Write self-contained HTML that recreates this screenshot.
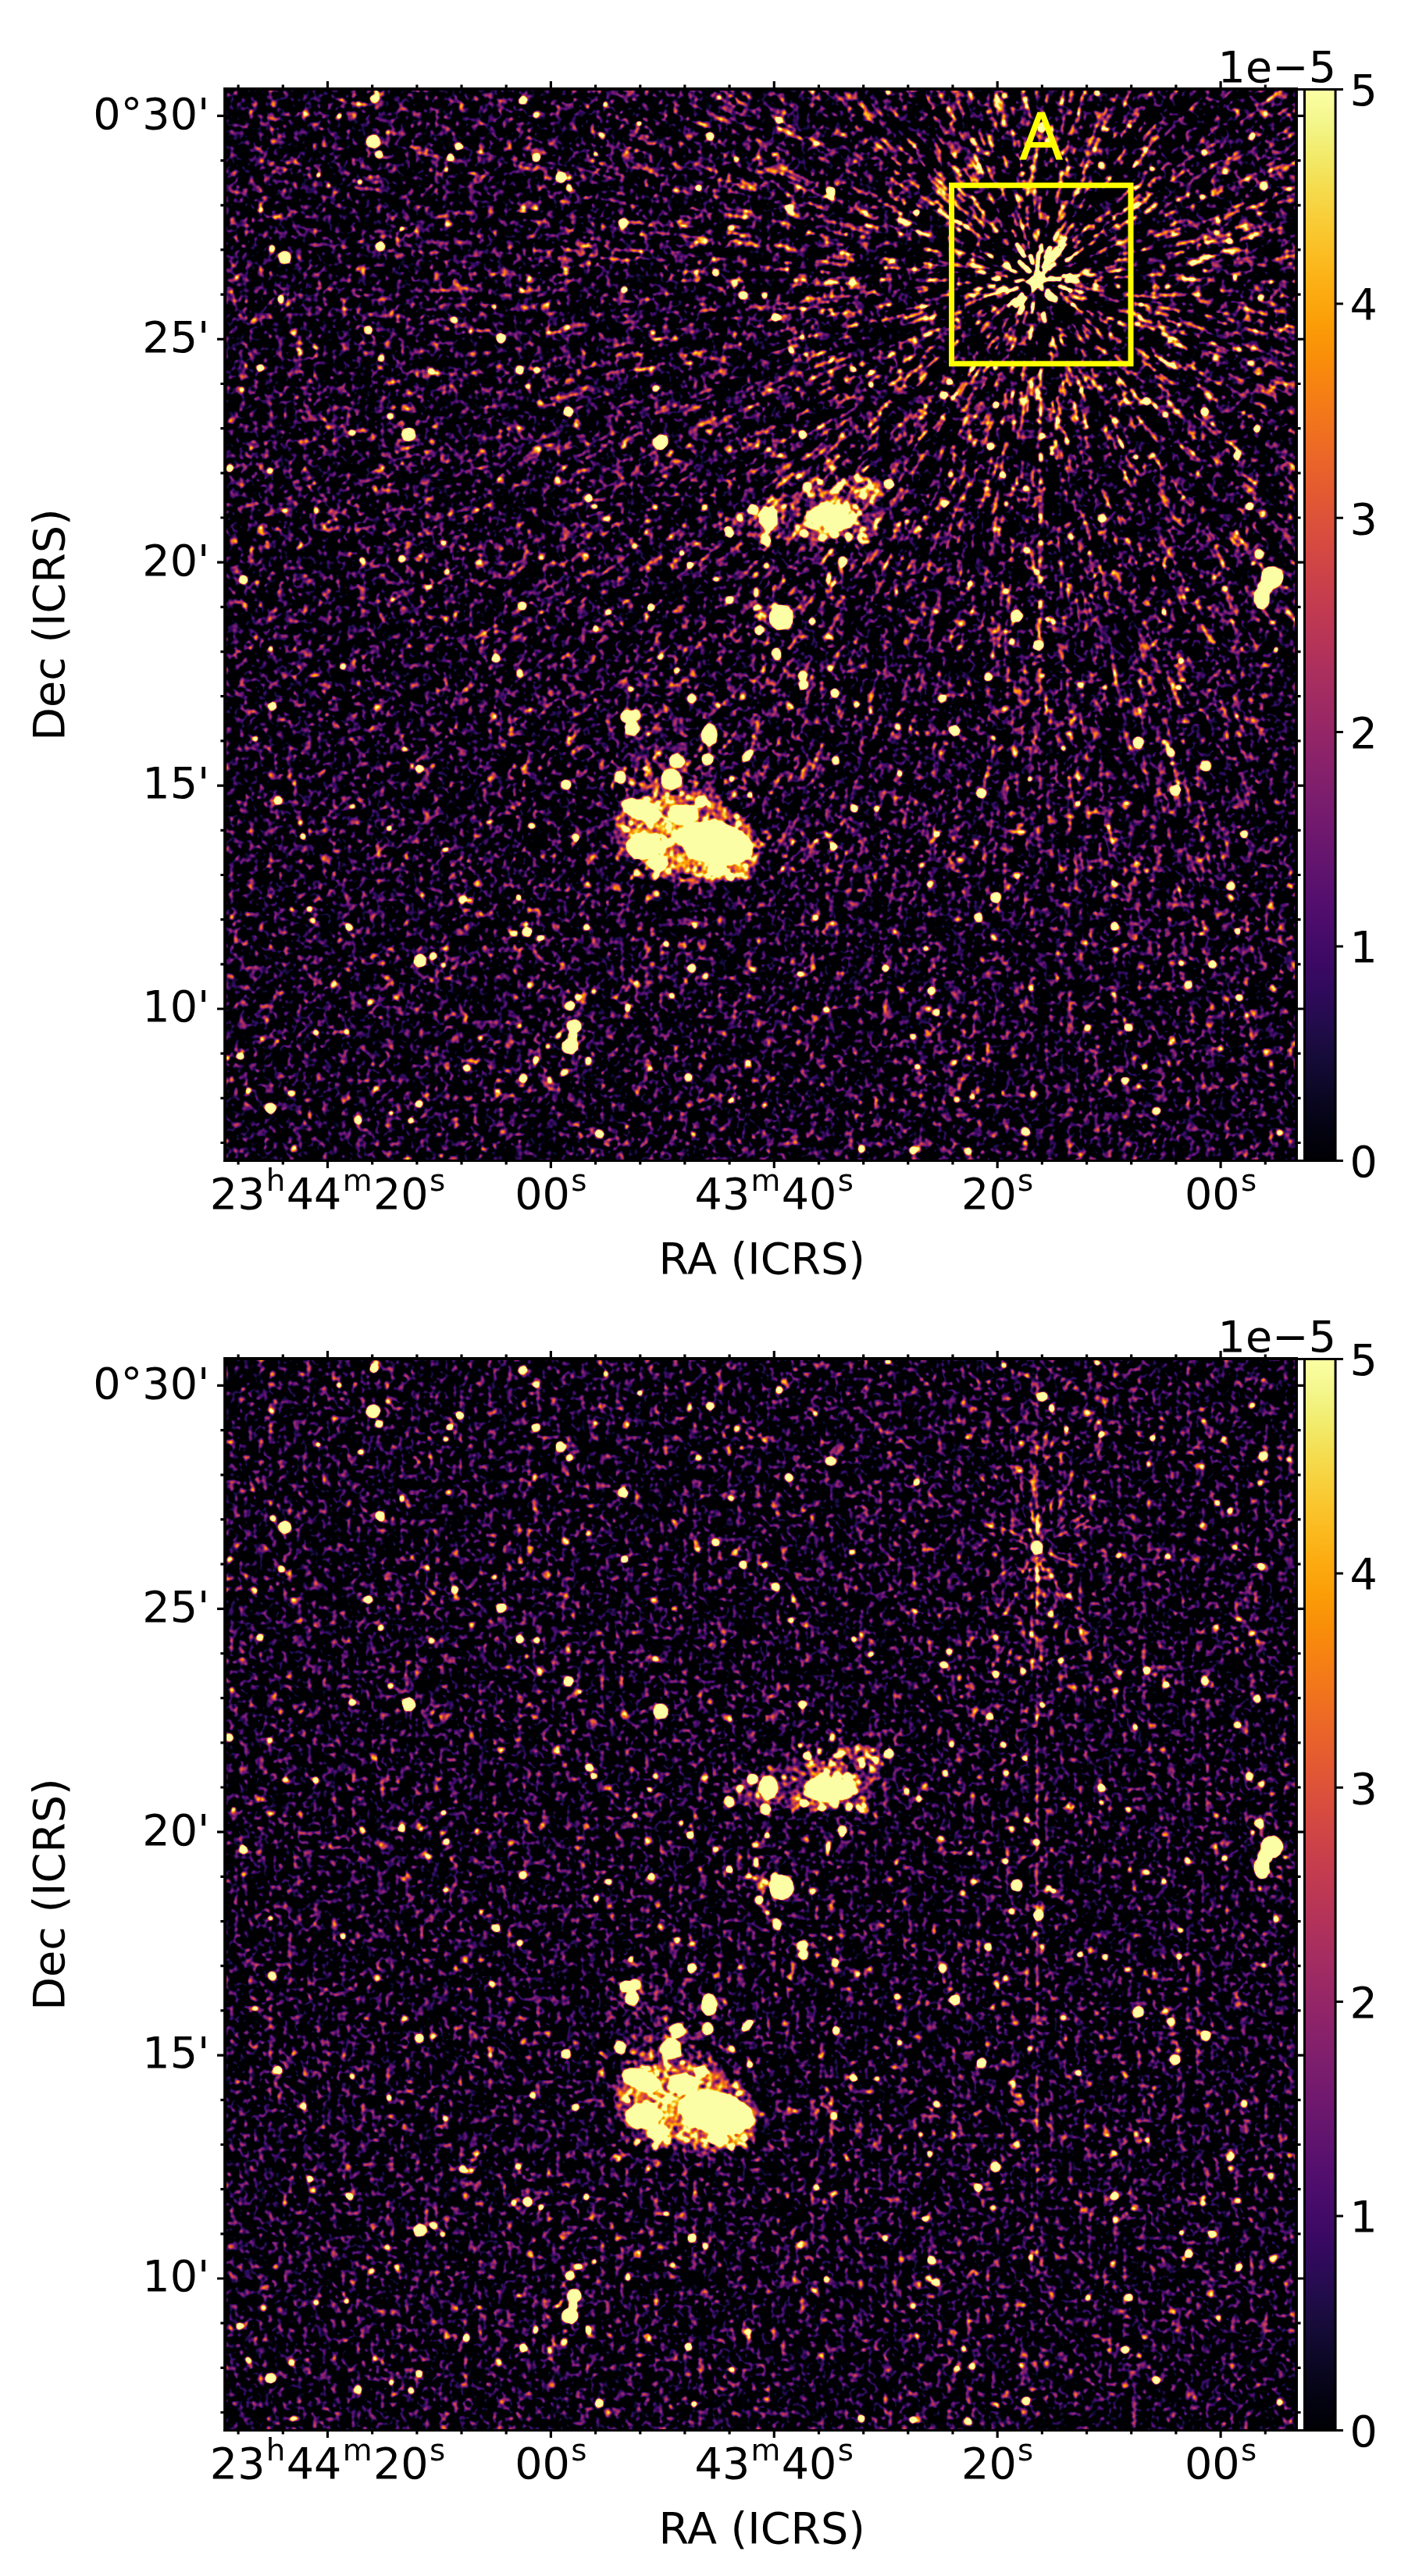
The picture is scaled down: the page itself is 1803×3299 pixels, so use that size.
<!DOCTYPE html>
<html lang="en"><head><meta charset="utf-8"><title>Radio maps</title>
<style>
html,body{margin:0;padding:0;background:#fff}
svg{display:block}
text{font-family:"DejaVu Sans","Liberation Sans",sans-serif;fill:#000}
.t{font-size:55.56px}
.s{font-size:38.89px}
</style></head><body>
<svg width="1803" height="3299" viewBox="0 0 1803 3299">
<defs>
<linearGradient id="cb" x1="0" y1="0" x2="0" y2="1"><stop offset="0" stop-color="#fcffa4"/><stop offset="0.0312" stop-color="#f3f68a"/><stop offset="0.0625" stop-color="#f2ea69"/><stop offset="0.0938" stop-color="#f5db4c"/><stop offset="0.125" stop-color="#f9cb35"/><stop offset="0.1562" stop-color="#fbbc21"/><stop offset="0.1875" stop-color="#fcac11"/><stop offset="0.2188" stop-color="#fb9d07"/><stop offset="0.25" stop-color="#f98e09"/><stop offset="0.2812" stop-color="#f68013"/><stop offset="0.3125" stop-color="#f1731d"/><stop offset="0.3438" stop-color="#eb6628"/><stop offset="0.375" stop-color="#e45a31"/><stop offset="0.4062" stop-color="#db503b"/><stop offset="0.4375" stop-color="#d24644"/><stop offset="0.4688" stop-color="#c73e4c"/><stop offset="0.5" stop-color="#bc3754"/><stop offset="0.5312" stop-color="#b0315b"/><stop offset="0.5625" stop-color="#a32c61"/><stop offset="0.5938" stop-color="#972766"/><stop offset="0.625" stop-color="#8a226a"/><stop offset="0.6562" stop-color="#7d1e6d"/><stop offset="0.6875" stop-color="#71196e"/><stop offset="0.7188" stop-color="#64156e"/><stop offset="0.75" stop-color="#57106e"/><stop offset="0.7812" stop-color="#4a0c6b"/><stop offset="0.8125" stop-color="#3d0965"/><stop offset="0.8438" stop-color="#2f0a5b"/><stop offset="0.875" stop-color="#210c4a"/><stop offset="0.9062" stop-color="#150b37"/><stop offset="0.9375" stop-color="#0b0724"/><stop offset="0.9688" stop-color="#040312"/><stop offset="1" stop-color="#000004"/></linearGradient>
<radialGradient id="gp" gradientUnits="userSpaceOnUse" cx="1328" cy="356" r="1300"><stop offset="0" stop-color="#fff" stop-opacity="0.8"/><stop offset="0.08" stop-color="#fff" stop-opacity="0.46"/><stop offset="0.2" stop-color="#fff" stop-opacity="0.31"/><stop offset="0.35" stop-color="#fff" stop-opacity="0.24"/><stop offset="0.6" stop-color="#fff" stop-opacity="0.17"/><stop offset="0.85" stop-color="#fff" stop-opacity="0.11"/><stop offset="1" stop-color="#fff" stop-opacity="0.04"/></radialGradient>
<radialGradient id="gn" gradientUnits="userSpaceOnUse" cx="1328" cy="356" r="1300"><stop offset="0" stop-color="#000" stop-opacity="0.9"/><stop offset="0.08" stop-color="#000" stop-opacity="0.8"/><stop offset="0.2" stop-color="#000" stop-opacity="0.55"/><stop offset="0.35" stop-color="#000" stop-opacity="0.4"/><stop offset="0.6" stop-color="#000" stop-opacity="0.3"/><stop offset="0.85" stop-color="#000" stop-opacity="0.2"/><stop offset="1" stop-color="#000" stop-opacity="0.06"/></radialGradient>
<filter id="n1" filterUnits="userSpaceOnUse" x="288" y="114" width="1372" height="1372" color-interpolation-filters="sRGB"><feGaussianBlur in="SourceGraphic" stdDeviation="1.4" result="s"/><feTurbulence type="fractalNoise" baseFrequency="0.16" numOctaves="1" seed="7"/><feColorMatrix type="matrix" values="0.2829 0.2829 0.2829 0.2829 -0.3308  0.2829 0.2829 0.2829 0.2829 -0.3308  0.2829 0.2829 0.2829 0.2829 -0.3308  0 0 0 0 1" result="a"/><feTurbulence type="fractalNoise" baseFrequency="0.085" numOctaves="1" seed="18"/><feColorMatrix type="matrix" values="0.2263 0.2263 0.2263 0.2263 -0.2027  0.2263 0.2263 0.2263 0.2263 -0.2027  0.2263 0.2263 0.2263 0.2263 -0.2027  0 0 0 0 1" result="b"/><feComposite in="a" in2="b" operator="arithmetic" k1="0" k2="1" k3="1" k4="0" result="n"/><feComposite in="n" in2="s" operator="arithmetic" k1="0" k2="3" k3="3" k4="-2.1"/><feComponentTransfer><feFuncR type="table" tableValues="0.001 0.01 0.026 0.056 0.087 0.129 0.17 0.211 0.258 0.297 0.342 0.379 0.416 0.46 0.497 0.541 0.578 0.616 0.658 0.695 0.736 0.77 0.802 0.837 0.865 0.894 0.916 0.936 0.955 0.967 0.978 0.985 0.988 0.987 0.983 0.975 0.964 0.953 0.946 0.958 0.988"/><feFuncG type="table" tableValues="0 0.008 0.019 0.035 0.045 0.047 0.042 0.037 0.039 0.047 0.062 0.076 0.09 0.106 0.119 0.135 0.148 0.162 0.179 0.195 0.216 0.236 0.259 0.288 0.317 0.353 0.387 0.424 0.469 0.509 0.558 0.601 0.645 0.698 0.744 0.798 0.844 0.889 0.937 0.971 0.998"/><feFuncB type="table" tableValues="0.014 0.055 0.106 0.168 0.225 0.291 0.341 0.379 0.406 0.42 0.429 0.433 0.433 0.43 0.424 0.415 0.404 0.391 0.373 0.354 0.33 0.307 0.283 0.253 0.226 0.194 0.165 0.135 0.1 0.069 0.035 0.024 0.04 0.088 0.138 0.206 0.273 0.351 0.459 0.556 0.645"/></feComponentTransfer></filter>
<filter id="n2" filterUnits="userSpaceOnUse" x="288" y="114" width="1372" height="1372" color-interpolation-filters="sRGB"><feGaussianBlur in="SourceGraphic" stdDeviation="1.4" result="s"/><feTurbulence type="fractalNoise" baseFrequency="0.16" numOctaves="1" seed="23"/><feColorMatrix type="matrix" values="0.2641 0.2641 0.2641 0.2641 -0.2948  0.2641 0.2641 0.2641 0.2641 -0.2948  0.2641 0.2641 0.2641 0.2641 -0.2948  0 0 0 0 1" result="a"/><feTurbulence type="fractalNoise" baseFrequency="0.085" numOctaves="1" seed="34"/><feColorMatrix type="matrix" values="0.2112 0.2112 0.2112 0.2112 -0.1725  0.2112 0.2112 0.2112 0.2112 -0.1725  0.2112 0.2112 0.2112 0.2112 -0.1725  0 0 0 0 1" result="b"/><feComposite in="a" in2="b" operator="arithmetic" k1="0" k2="1" k3="1" k4="0" result="n"/><feComposite in="n" in2="s" operator="arithmetic" k1="0" k2="3" k3="3" k4="-2.1"/><feComponentTransfer><feFuncR type="table" tableValues="0.001 0.01 0.026 0.056 0.087 0.129 0.17 0.211 0.258 0.297 0.342 0.379 0.416 0.46 0.497 0.541 0.578 0.616 0.658 0.695 0.736 0.77 0.802 0.837 0.865 0.894 0.916 0.936 0.955 0.967 0.978 0.985 0.988 0.987 0.983 0.975 0.964 0.953 0.946 0.958 0.988"/><feFuncG type="table" tableValues="0 0.008 0.019 0.035 0.045 0.047 0.042 0.037 0.039 0.047 0.062 0.076 0.09 0.106 0.119 0.135 0.148 0.162 0.179 0.195 0.216 0.236 0.259 0.288 0.317 0.353 0.387 0.424 0.469 0.509 0.558 0.601 0.645 0.698 0.744 0.798 0.844 0.889 0.937 0.971 0.998"/><feFuncB type="table" tableValues="0.014 0.055 0.106 0.168 0.225 0.291 0.341 0.379 0.406 0.42 0.429 0.433 0.433 0.43 0.424 0.415 0.404 0.391 0.373 0.354 0.33 0.307 0.283 0.253 0.226 0.194 0.165 0.135 0.1 0.069 0.035 0.024 0.04 0.088 0.138 0.206 0.273 0.351 0.459 0.556 0.645"/></feComponentTransfer></filter>
<g id="src" fill="#fff">
<g opacity="0.05"><ellipse cx="840" cy="960" rx="45" ry="60"/></g>
<g opacity="0.12"><ellipse cx="860" cy="1040" rx="70" ry="45"/><ellipse cx="1047.8" cy="659.9" rx="85" ry="33" transform="rotate(-3 1047.8 659.9)"/><ellipse cx="965" cy="670" rx="30" ry="18"/></g>
<g opacity="0.13"><circle cx="862.7" cy="993.5" r="3.2"/><circle cx="1068.8" cy="636.9" r="4.2"/><circle cx="307.3" cy="274.3" r="4.2"/><circle cx="362.6" cy="245.8" r="4.5"/><circle cx="406.1" cy="1150.4" r="4.4"/><circle cx="861.6" cy="1457" r="4.7"/><circle cx="1168.1" cy="474.1" r="3.7"/><circle cx="1108.6" cy="558.3" r="3.2"/><circle cx="1249.9" cy="520.8" r="3.8"/><circle cx="844.6" cy="645.8" r="4.5"/><circle cx="1140.3" cy="1411.3" r="3.9"/><circle cx="888.5" cy="684.3" r="4.7"/><circle cx="1155.2" cy="1021.5" r="4.9"/><circle cx="1091.5" cy="722" r="3.5"/><circle cx="493.6" cy="654.5" r="4.3"/><circle cx="1462.8" cy="138.9" r="4"/><circle cx="1456" cy="1003.8" r="4.5"/><circle cx="1532.4" cy="380.4" r="3.8"/><circle cx="523.7" cy="502" r="4.8"/><circle cx="1061.7" cy="1114.9" r="3.9"/><circle cx="543.5" cy="501" r="3.2"/><circle cx="693.2" cy="1096.1" r="4.3"/><circle cx="387.8" cy="478.5" r="3.7"/><circle cx="392.2" cy="1029.8" r="3.8"/><circle cx="465" cy="981.1" r="3.4"/><circle cx="997.8" cy="169.8" r="4.6"/><circle cx="1473" cy="400.1" r="3.6"/><circle cx="449.6" cy="1162.1" r="4.5"/><circle cx="439.9" cy="1350.6" r="4.5"/><circle cx="1435.8" cy="323.7" r="4.4"/><circle cx="660.9" cy="1093.5" r="3.4"/><circle cx="443.6" cy="617.7" r="4.2"/><circle cx="1225.7" cy="511.6" r="3.4"/><circle cx="1018.6" cy="653.4" r="3.7"/><circle cx="1398.9" cy="1208.7" r="4.4"/><circle cx="837" cy="695.8" r="3.4"/><circle cx="1588.6" cy="855.1" r="4"/><circle cx="1336.8" cy="1162.8" r="4.4"/><circle cx="839" cy="1320.8" r="4"/><circle cx="741.4" cy="163.3" r="4.7"/><circle cx="1358.4" cy="521.9" r="4.8"/><circle cx="1605.6" cy="793.5" r="3.6"/><circle cx="1637.7" cy="777.5" r="4.7"/><circle cx="790.6" cy="1416.2" r="4.6"/><circle cx="1219.4" cy="1094.2" r="4.1"/><circle cx="979.9" cy="525.8" r="4.3"/><circle cx="1190.4" cy="300.4" r="3.4"/><circle cx="1449.1" cy="1190.5" r="3.7"/><circle cx="1196.4" cy="196.2" r="3.5"/><circle cx="990" cy="546.3" r="4.5"/><circle cx="978.3" cy="1466.3" r="3.7"/><circle cx="582.8" cy="206.8" r="4.3"/><circle cx="1533.1" cy="1458.3" r="5"/><circle cx="1521.3" cy="1333.6" r="4.4"/><circle cx="383.9" cy="1105.1" r="4.2"/><circle cx="1277.6" cy="970.9" r="3.5"/><circle cx="1084.9" cy="510.3" r="3.2"/><circle cx="1509.4" cy="1103.4" r="3.7"/><circle cx="1150.6" cy="1195.7" r="3.7"/><circle cx="743.3" cy="1324.5" r="3.9"/><circle cx="935.2" cy="1301.1" r="4.8"/><circle cx="714.8" cy="759.5" r="3.7"/><circle cx="349.8" cy="551.7" r="4"/><circle cx="1334.1" cy="473.3" r="3.8"/><circle cx="1104.8" cy="911.1" r="4.4"/><circle cx="726" cy="641" r="4.5"/><circle cx="944.1" cy="201.4" r="4"/><circle cx="757.3" cy="1213.4" r="3.8"/><circle cx="1347" cy="1096.8" r="3.9"/><circle cx="1386.7" cy="350.8" r="4.1"/><circle cx="1065.6" cy="764.5" r="3.7"/><circle cx="758" cy="467" r="3.6"/><circle cx="440.4" cy="544.6" r="4.8"/><circle cx="501.8" cy="1066.1" r="3.5"/><circle cx="1179.3" cy="1378.2" r="4.3"/><circle cx="656.9" cy="1437.9" r="4.8"/><circle cx="339.3" cy="956.8" r="3.6"/><circle cx="977.2" cy="844.7" r="3.5"/><circle cx="1650.6" cy="661.7" r="4.6"/><circle cx="658.5" cy="1336.7" r="4.2"/><circle cx="1222.4" cy="1271.8" r="4.1"/><circle cx="793.1" cy="599.5" r="4.3"/><circle cx="1571.3" cy="943.4" r="3.4"/><circle cx="584" cy="421.4" r="4.7"/><circle cx="1526.7" cy="287.2" r="3.2"/><circle cx="593" cy="1170.8" r="4.8"/><circle cx="719.7" cy="1374.9" r="4.3"/><circle cx="730.8" cy="140.1" r="3.9"/><circle cx="902.7" cy="1312.6" r="4.8"/><circle cx="1405.7" cy="536.4" r="4.2"/><circle cx="1214.5" cy="732.1" r="3.8"/><circle cx="709.2" cy="1387.3" r="3.9"/><circle cx="518.3" cy="135.1" r="3.6"/><circle cx="1141.7" cy="1193.7" r="4.1"/><circle cx="1091.1" cy="1082.9" r="4.7"/><circle cx="1453.9" cy="344.9" r="4.9"/><circle cx="305.9" cy="405.4" r="4"/><circle cx="1240.7" cy="419.1" r="4.1"/><circle cx="593.2" cy="1065.4" r="4.9"/><circle cx="1194" cy="1084.9" r="3.9"/><circle cx="1621.4" cy="1347.5" r="4.9"/><circle cx="1018.2" cy="394.5" r="5"/><circle cx="1300.5" cy="444.3" r="3.8"/><circle cx="1136.6" cy="374.8" r="3.7"/><circle cx="1100.5" cy="1095.1" r="3.5"/><circle cx="1212.1" cy="949.9" r="4.1"/><circle cx="1139.1" cy="242.1" r="4.3"/><circle cx="1459" cy="1278.2" r="3.8"/><circle cx="370.3" cy="831.2" r="4.3"/><circle cx="761.5" cy="582.2" r="3.5"/><circle cx="1438.2" cy="714.3" r="3.9"/><circle cx="1333.5" cy="369.2" r="4.7"/><circle cx="899.5" cy="463.1" r="4.6"/><circle cx="1499.2" cy="979.3" r="3.9"/><circle cx="1234.4" cy="1301.2" r="4.8"/><circle cx="1457.6" cy="410.4" r="4.9"/><circle cx="1265.9" cy="633.7" r="3.8"/><circle cx="1001.1" cy="585.2" r="4.4"/><circle cx="1125.2" cy="295.5" r="4.1"/><circle cx="921.7" cy="584.1" r="3.6"/><circle cx="1234.8" cy="889.6" r="3.4"/><circle cx="914.7" cy="1436.8" r="4.5"/><circle cx="1185" cy="358.5" r="4.6"/><circle cx="1030.2" cy="1246.7" r="3.5"/><circle cx="1286.9" cy="823.9" r="4.5"/><circle cx="1043.2" cy="868.2" r="3.2"/><circle cx="689.2" cy="1310.6" r="4.2"/><circle cx="486.1" cy="121.6" r="4.4"/><circle cx="424.6" cy="657.6" r="4.8"/><circle cx="297.5" cy="1174.2" r="4.2"/><circle cx="667.4" cy="453" r="3.9"/></g>
<g opacity="0.14"><circle cx="878.1" cy="976.3" r="4.2"/><circle cx="1003.9" cy="649.5" r="4.5"/><circle cx="1597.5" cy="402.8" r="3.3"/><circle cx="990.8" cy="886.3" r="3.9"/><circle cx="705.6" cy="405.9" r="4.4"/><circle cx="495.2" cy="393.1" r="4.6"/><circle cx="878.6" cy="806.6" r="4.1"/><circle cx="793.9" cy="1263.6" r="4"/><circle cx="828.6" cy="820.5" r="3.3"/><circle cx="305.3" cy="731.1" r="3.4"/><circle cx="883.1" cy="1412.4" r="4.2"/><circle cx="379.5" cy="786" r="4.2"/><circle cx="1070.8" cy="1097.8" r="4"/><circle cx="790.9" cy="1463.1" r="3.9"/><circle cx="566.5" cy="844.3" r="3.6"/><circle cx="1070.3" cy="1076.6" r="3.4"/><circle cx="944.3" cy="1020.4" r="4.5"/><circle cx="421" cy="355.2" r="4.2"/><circle cx="349.4" cy="696.7" r="3.3"/><circle cx="1154.7" cy="1445.8" r="3.4"/><circle cx="1253.4" cy="751.2" r="4.2"/><circle cx="611.9" cy="203.6" r="4.2"/><circle cx="1587.5" cy="415.1" r="3.6"/><circle cx="1449.8" cy="496.1" r="4.6"/><circle cx="717.8" cy="428.9" r="4.4"/><circle cx="309.1" cy="1081.3" r="3.7"/><circle cx="1549.2" cy="870.3" r="4.2"/><circle cx="1106.9" cy="155.1" r="4.7"/><circle cx="574.2" cy="657.5" r="3.8"/><circle cx="1373" cy="533.4" r="4.1"/><circle cx="483.4" cy="499.9" r="4.7"/><circle cx="1036.5" cy="612.9" r="5"/><circle cx="1365.5" cy="985.8" r="3.5"/><circle cx="1200.7" cy="200.4" r="3.4"/><circle cx="522" cy="298.9" r="4.5"/><circle cx="1601.3" cy="1091.1" r="4.8"/><circle cx="940.9" cy="979" r="3.8"/><circle cx="1451.7" cy="1130.7" r="4.9"/><circle cx="489.3" cy="656" r="3.5"/><circle cx="938.7" cy="1366.8" r="4.5"/><circle cx="1643.9" cy="597.3" r="4.4"/><circle cx="454.9" cy="916.4" r="3.4"/><circle cx="557.4" cy="1255.6" r="3.8"/></g>
<g opacity="0.15"><circle cx="888.1" cy="993.8" r="3"/><circle cx="1050" cy="655.1" r="2.7"/><circle cx="1077.5" cy="670.4" r="4"/><circle cx="1066.9" cy="646.1" r="2.9"/><circle cx="802.8" cy="1255.5" r="4.9"/><circle cx="420.4" cy="658.4" r="3.4"/><circle cx="1470.4" cy="236.4" r="3.7"/><circle cx="897.2" cy="541.7" r="4.8"/><circle cx="1453.2" cy="461.6" r="3.7"/><circle cx="1054.8" cy="1343.5" r="3.6"/><circle cx="364.6" cy="1238.7" r="4.2"/><circle cx="1030" cy="355.5" r="3.9"/><circle cx="1168.1" cy="679" r="4.7"/><circle cx="727.6" cy="482.1" r="4.6"/><circle cx="932.2" cy="231.8" r="4.9"/><circle cx="1264.8" cy="1249" r="4"/><circle cx="722.7" cy="825.7" r="3.4"/><circle cx="1360" cy="223.1" r="4.6"/><circle cx="640.1" cy="955.7" r="4.1"/><circle cx="395" cy="507.7" r="4.5"/><circle cx="1566.6" cy="910.2" r="4.9"/><circle cx="560.8" cy="1347.7" r="3.3"/><circle cx="1234" cy="171.8" r="3.9"/><circle cx="1378.9" cy="154" r="4.3"/><circle cx="404.7" cy="396.8" r="3.7"/><circle cx="571.6" cy="570.5" r="4.5"/><circle cx="1342.9" cy="1090.9" r="4.7"/><circle cx="1054.1" cy="1222.5" r="4.3"/><circle cx="684" cy="304.3" r="3.8"/><circle cx="1009.4" cy="1066.2" r="4.5"/><circle cx="365.2" cy="1194.4" r="3.3"/><circle cx="1248.8" cy="1398.5" r="4.2"/><circle cx="511.5" cy="409.2" r="4"/><circle cx="679.3" cy="440.9" r="4.4"/><circle cx="1577.5" cy="1404.9" r="3.7"/><circle cx="1320.9" cy="1424.7" r="4.7"/><circle cx="785.6" cy="321.7" r="3.5"/><circle cx="672.6" cy="1191.2" r="3.6"/><circle cx="1241" cy="1138.7" r="3.9"/><circle cx="1398.9" cy="299.9" r="4.5"/><circle cx="349.5" cy="169.6" r="4.9"/><circle cx="1081.9" cy="1032.8" r="4.6"/><circle cx="1287.9" cy="1440.7" r="3.6"/><circle cx="924" cy="1370.6" r="4.7"/><circle cx="1473.8" cy="1056.5" r="4.2"/><circle cx="1305" cy="754.9" r="4.4"/><circle cx="486.4" cy="469.4" r="4.4"/><circle cx="1580.9" cy="473.2" r="3.2"/><circle cx="1035.8" cy="458.3" r="4.3"/><circle cx="909.7" cy="275.5" r="4.7"/></g>
<g opacity="0.16"><circle cx="739" cy="739.4" r="3.6"/><circle cx="953.1" cy="335.6" r="3.5"/><circle cx="1438.4" cy="1121.6" r="3.7"/><circle cx="349.7" cy="991.5" r="4"/><circle cx="636.7" cy="473.7" r="4.1"/><circle cx="1414.7" cy="1447.9" r="3.8"/><circle cx="1494.7" cy="1197.7" r="3.9"/><circle cx="315.9" cy="1284.8" r="4.2"/><circle cx="331.1" cy="827.7" r="3.3"/><circle cx="1646.7" cy="321.4" r="4.8"/><circle cx="926.8" cy="462.1" r="3.8"/><circle cx="1229.4" cy="733.4" r="3.4"/><circle cx="900.1" cy="1408" r="3.6"/><circle cx="986.7" cy="1124.4" r="4.7"/><circle cx="1259.4" cy="565.8" r="4.9"/><circle cx="1372.1" cy="1304.3" r="3.5"/><circle cx="880.7" cy="877.8" r="4.6"/><circle cx="1624.9" cy="987.6" r="3.4"/><circle cx="1169" cy="438.2" r="4.7"/><circle cx="513.7" cy="543.6" r="4.3"/><circle cx="1140" cy="236.8" r="4.1"/><circle cx="432.1" cy="559.4" r="3.5"/><circle cx="1045.2" cy="173" r="4.5"/><circle cx="1508.8" cy="1360.2" r="3.4"/><circle cx="639.8" cy="1250.6" r="3.5"/><circle cx="1396.1" cy="610.4" r="4"/><circle cx="1107.5" cy="314.2" r="4.4"/><circle cx="789.1" cy="440.9" r="4.1"/><circle cx="1537.1" cy="550.1" r="4.2"/><circle cx="961.1" cy="216.6" r="4.1"/><circle cx="1135.2" cy="1189.8" r="3.2"/><circle cx="1163.4" cy="302.5" r="4.5"/><circle cx="871.7" cy="637.6" r="3.6"/><circle cx="1152.6" cy="332.5" r="4.1"/><circle cx="549.5" cy="217.1" r="3.9"/><circle cx="410.4" cy="1259.3" r="3.9"/><circle cx="1569.1" cy="705.6" r="4.3"/></g>
<g opacity="0.17"><ellipse cx="880" cy="1075" rx="95" ry="55" transform="rotate(10 880 1075)"/><ellipse cx="1107.5" cy="621.5" rx="30" ry="12" transform="rotate(15 1107.5 621.5)"/><circle cx="878.8" cy="1100.8" r="4.9"/><circle cx="976.9" cy="796.2" r="3.4"/><circle cx="896.3" cy="983.8" r="4.5"/><circle cx="1302.3" cy="819.9" r="4.8"/><circle cx="964.3" cy="602.4" r="4.9"/><circle cx="1585.7" cy="1454.6" r="3.3"/><circle cx="513.3" cy="1292.3" r="3.5"/><circle cx="859.9" cy="866.5" r="4.3"/><circle cx="580.9" cy="787.1" r="3.6"/><circle cx="1035" cy="493.3" r="3.7"/><circle cx="519" cy="852" r="3.5"/><circle cx="665.1" cy="1467" r="4.4"/><circle cx="384.3" cy="147.9" r="3.8"/><circle cx="462.9" cy="757.2" r="4.7"/><circle cx="1228.9" cy="479.3" r="4.3"/><circle cx="1149.6" cy="943.1" r="4.2"/><circle cx="1241.4" cy="532.1" r="4.4"/><circle cx="1301.5" cy="964.7" r="3.8"/><circle cx="1217.6" cy="1373.7" r="3.9"/><circle cx="1205.2" cy="891" r="4.7"/><circle cx="1036" cy="1386.3" r="4"/><circle cx="1600.4" cy="1301.8" r="3.2"/><circle cx="1568.3" cy="1184.2" r="4.1"/><circle cx="1331.9" cy="819.4" r="3.5"/><circle cx="901.7" cy="652" r="4.6"/><circle cx="1585.1" cy="142.7" r="3.2"/><circle cx="1247.7" cy="354" r="3.9"/><circle cx="1015.4" cy="1232.4" r="4"/><circle cx="1231.3" cy="1054.5" r="3.8"/><circle cx="364.3" cy="697.6" r="4.6"/><circle cx="930.6" cy="199.1" r="4.2"/></g>
<g opacity="0.18"><circle cx="874.4" cy="1128" r="3"/><circle cx="931.8" cy="1081.9" r="4.1"/><circle cx="850.4" cy="1094.4" r="4.4"/><circle cx="804.9" cy="1069.5" r="2.9"/><circle cx="814.1" cy="982.7" r="4.6"/><circle cx="1034.6" cy="674.1" r="3.4"/><circle cx="1230.2" cy="654.7" r="4.1"/><circle cx="392.1" cy="145.3" r="4.8"/><circle cx="1228.8" cy="873.1" r="4.5"/><circle cx="1476.4" cy="514.4" r="3.8"/><circle cx="1533.1" cy="371.2" r="4.6"/><circle cx="774" cy="1031.3" r="4"/><circle cx="903.6" cy="1027.5" r="4.2"/><circle cx="1497.6" cy="519.4" r="4.4"/><circle cx="604.9" cy="298.1" r="3.7"/><circle cx="1551.3" cy="818.5" r="3.5"/><circle cx="1275.2" cy="912.7" r="3.7"/><circle cx="1006.8" cy="966.6" r="4.9"/><circle cx="934.7" cy="617.9" r="3.4"/><circle cx="498.8" cy="646.6" r="3.7"/><circle cx="559.6" cy="373" r="3.9"/><circle cx="837.8" cy="593.8" r="4.1"/><circle cx="1106.9" cy="853.8" r="4.5"/><circle cx="1503.6" cy="1351.3" r="4.6"/><circle cx="1543.7" cy="1153.4" r="4.3"/><circle cx="504.5" cy="534.7" r="3.5"/><circle cx="651.6" cy="952.1" r="3.3"/><circle cx="872.9" cy="457.3" r="4"/><circle cx="1324" cy="960.6" r="4.7"/><circle cx="1388.8" cy="509.5" r="4.6"/><circle cx="1226.6" cy="194.1" r="3.6"/><circle cx="1040.3" cy="1093.1" r="4.9"/><circle cx="744.1" cy="1410.2" r="3.3"/><circle cx="1475.4" cy="230.8" r="3.6"/><circle cx="522.7" cy="697.1" r="4.1"/><circle cx="1461.7" cy="1236.6" r="4.8"/><circle cx="1311.2" cy="899.7" r="3.5"/><circle cx="799.1" cy="1184.1" r="3.6"/><circle cx="565.7" cy="1480.2" r="3.8"/></g>
<g opacity="0.19"><ellipse cx="900" cy="1085" rx="70" ry="38" transform="rotate(12 900 1085)"/><circle cx="830.3" cy="1108.2" r="3.9"/><circle cx="848.1" cy="1036" r="3.8"/><circle cx="994.6" cy="689.5" r="3.4"/><circle cx="980" cy="678.7" r="3.6"/><circle cx="1100.7" cy="627" r="3.4"/><circle cx="966.8" cy="779.3" r="3.2"/><circle cx="1017.3" cy="1462.5" r="3.8"/><circle cx="413.8" cy="989.3" r="4.8"/><circle cx="706" cy="1426.9" r="3.9"/><circle cx="1248.1" cy="565.5" r="4.5"/><circle cx="671" cy="171.3" r="4.2"/><circle cx="936.8" cy="1356.2" r="3.7"/><circle cx="879.8" cy="571.7" r="4.1"/><circle cx="771.3" cy="1004.2" r="3.5"/><circle cx="1025.9" cy="483.3" r="4.9"/><circle cx="404.5" cy="443.1" r="4"/><circle cx="344.8" cy="1049.2" r="3.7"/><circle cx="1640.9" cy="125.1" r="4.3"/><circle cx="761.1" cy="1323.1" r="3.9"/><circle cx="968.6" cy="673.5" r="3.4"/><circle cx="1480" cy="718.9" r="4.1"/><circle cx="392.1" cy="1240.2" r="3.5"/><circle cx="346.3" cy="149.7" r="4.2"/><circle cx="318.8" cy="337.4" r="4.3"/><circle cx="1269" cy="327.9" r="4.7"/><circle cx="582.9" cy="895.7" r="3.7"/><circle cx="750.3" cy="808.7" r="3.5"/><circle cx="929" cy="940" r="4.6"/><circle cx="869.9" cy="1210.7" r="3.6"/><circle cx="1021.4" cy="279.2" r="3.2"/><circle cx="748.3" cy="1274.5" r="4.5"/><circle cx="1526.9" cy="117.3" r="4.6"/><circle cx="1390.2" cy="496.9" r="4"/><circle cx="1483.9" cy="1001.2" r="4"/><circle cx="1230.6" cy="1035" r="4.7"/><circle cx="1646.6" cy="1295.9" r="4.1"/><circle cx="740.8" cy="549.1" r="3.3"/><circle cx="1022.2" cy="1334.2" r="4.3"/></g>
<g opacity="0.2"><circle cx="853.7" cy="1016.3" r="3"/><circle cx="939.6" cy="1065.3" r="4.1"/><circle cx="860.1" cy="1006.2" r="3.5"/><circle cx="813.7" cy="1034.1" r="4.3"/><circle cx="925.5" cy="476" r="4.7"/><circle cx="922.2" cy="1274.1" r="3.4"/><circle cx="1608.2" cy="443.4" r="4.2"/><circle cx="1385.2" cy="360.8" r="4.2"/><circle cx="1035.9" cy="660.3" r="4.1"/><circle cx="1071" cy="233.2" r="4.7"/><circle cx="1041.6" cy="1238.9" r="4.7"/><circle cx="1393.6" cy="1043.5" r="4.2"/><circle cx="771.5" cy="843.9" r="3.3"/><circle cx="554" cy="1200.3" r="3.4"/><circle cx="1126.5" cy="187.4" r="3.9"/><circle cx="1185" cy="1322.8" r="4.8"/><circle cx="1265.7" cy="197.2" r="3.8"/><circle cx="1246.1" cy="785.2" r="4.7"/><circle cx="874.1" cy="1212.5" r="4.9"/><circle cx="457.4" cy="677.7" r="3.9"/><circle cx="900" cy="802.7" r="3.5"/><circle cx="1594.3" cy="590.4" r="3.8"/><circle cx="455.3" cy="147.1" r="3.6"/><circle cx="678.6" cy="559.8" r="4.7"/><circle cx="413.4" cy="1098.2" r="3.5"/></g>
<g opacity="0.21"><circle cx="820.3" cy="1093.4" r="4"/><circle cx="826.6" cy="993.3" r="3.5"/><circle cx="867.9" cy="1047.2" r="3.3"/><circle cx="1098" cy="654" r="3.4"/><circle cx="959.8" cy="671" r="3.4"/><circle cx="1026.3" cy="644.7" r="3"/><circle cx="1032.4" cy="684.9" r="3.9"/><circle cx="1074" cy="647.7" r="3.6"/><circle cx="1126.8" cy="631.3" r="4.8"/><circle cx="368.1" cy="922.9" r="3.2"/><circle cx="973.4" cy="210.7" r="3.8"/><circle cx="654.9" cy="733.8" r="3.8"/><circle cx="648" cy="1353.3" r="3.2"/><circle cx="1075.5" cy="392.7" r="4.7"/><circle cx="1218.5" cy="1396" r="4.7"/><circle cx="690.1" cy="460.5" r="4.8"/><circle cx="1654.2" cy="1236.9" r="3.4"/><circle cx="1428" cy="1075.3" r="4.6"/><circle cx="1394.1" cy="196.4" r="4.4"/><circle cx="1173.7" cy="982.9" r="3.5"/><circle cx="651.2" cy="1339.1" r="3.9"/><circle cx="1516.9" cy="1265.5" r="3.8"/><circle cx="996.5" cy="311.8" r="4.9"/><circle cx="1175" cy="1471.5" r="4.7"/><circle cx="1500.3" cy="1330.7" r="3.6"/><circle cx="1086.4" cy="1140.5" r="4.4"/><circle cx="1614.4" cy="933.1" r="3.6"/><circle cx="518.4" cy="1097.4" r="4.1"/><circle cx="1006.1" cy="1082.9" r="4.8"/><circle cx="778" cy="1463.2" r="4.5"/><circle cx="1460" cy="210.4" r="4"/><circle cx="1160" cy="794.8" r="4.4"/><circle cx="1012.9" cy="1077.4" r="4.7"/><circle cx="484.2" cy="1087.5" r="4.9"/><circle cx="1449.1" cy="316.7" r="4.1"/><circle cx="1043.8" cy="163" r="4"/><circle cx="384" cy="698.2" r="4.1"/><circle cx="1243.6" cy="148.1" r="3.4"/><circle cx="298.4" cy="223.4" r="4.8"/></g>
<g opacity="0.22"><circle cx="947.6" cy="1118.8" r="2.8"/><circle cx="938.4" cy="1091.8" r="4"/><circle cx="795.7" cy="1055.5" r="4.1"/><circle cx="1052.1" cy="666.4" r="4.9"/><circle cx="1083.7" cy="670.8" r="4.5"/><circle cx="1039.3" cy="653.7" r="2.9"/><circle cx="1105.4" cy="628" r="4.3"/><circle cx="368.8" cy="387.4" r="4.5"/><circle cx="1435.6" cy="395.9" r="3.7"/><circle cx="894" cy="1034.2" r="4.5"/><circle cx="1488.6" cy="616.4" r="4.8"/><circle cx="896.6" cy="454.7" r="3.6"/><circle cx="1427.2" cy="1147.7" r="4.8"/><circle cx="1549.9" cy="211.1" r="4.4"/><circle cx="1014.2" cy="1114.2" r="3.6"/><circle cx="979" cy="750.7" r="3.3"/><circle cx="876.9" cy="987.1" r="3.6"/><circle cx="1582.7" cy="444.2" r="4"/><circle cx="473.7" cy="858.5" r="3.8"/><circle cx="1287.3" cy="1328.7" r="3.9"/><circle cx="550.7" cy="239.2" r="3.6"/><circle cx="1608.5" cy="422.9" r="3.3"/><circle cx="978.6" cy="376.7" r="4.1"/><circle cx="879.9" cy="1416.2" r="3.4"/><circle cx="564.4" cy="573.2" r="3.5"/><circle cx="1519.5" cy="923.1" r="4.8"/><circle cx="597.9" cy="1187.8" r="4.8"/><circle cx="666.8" cy="550.3" r="4.8"/><circle cx="532.8" cy="1292.8" r="3.9"/><circle cx="1505.3" cy="991.6" r="4.8"/><circle cx="627.8" cy="1006.4" r="4.2"/><circle cx="765.3" cy="1212.7" r="4.7"/><circle cx="844.9" cy="1250.4" r="4.2"/><circle cx="1654.4" cy="227.8" r="3.8"/><circle cx="1153.2" cy="500.7" r="4.7"/></g>
<g opacity="0.23"><circle cx="954.6" cy="1111" r="4.1"/><circle cx="789.1" cy="1046.9" r="3.9"/><circle cx="846.2" cy="1043.8" r="3.5"/><circle cx="1035.9" cy="656.8" r="3"/><circle cx="1039.6" cy="634.1" r="4.9"/><circle cx="1019.4" cy="681.7" r="4"/><circle cx="1115.5" cy="636.5" r="3.8"/><circle cx="958.9" cy="776.1" r="4.8"/><circle cx="1019.9" cy="241.8" r="4.6"/><circle cx="1367.8" cy="143.8" r="3.8"/><circle cx="1422.7" cy="1038.3" r="4.8"/><circle cx="1275.7" cy="1453.2" r="3.5"/><circle cx="1093.2" cy="1062.9" r="3.9"/><circle cx="837.7" cy="875" r="4.7"/><circle cx="431.7" cy="931.4" r="3.7"/><circle cx="727.3" cy="226.5" r="4.2"/><circle cx="1340.5" cy="1399.1" r="4.2"/><circle cx="1183.4" cy="419.1" r="3.3"/><circle cx="487.6" cy="784.8" r="4.8"/><circle cx="705.5" cy="1393.2" r="4.1"/><circle cx="1344.2" cy="924.2" r="3.3"/><circle cx="1039.9" cy="771.1" r="3.5"/><circle cx="460.2" cy="971.2" r="3.5"/><circle cx="357.8" cy="1332.7" r="4"/><circle cx="511.3" cy="1415.6" r="3.9"/><circle cx="1450" cy="1413" r="4.8"/><circle cx="838.8" cy="1347.3" r="3.6"/></g>
<g opacity="0.24"><circle cx="971.3" cy="1081.3" r="4.7"/><circle cx="927.1" cy="1081" r="2.7"/><circle cx="810.3" cy="1035.1" r="5"/><circle cx="1052.6" cy="649.7" r="4.8"/><circle cx="1045.9" cy="676.7" r="2.8"/><circle cx="802.8" cy="711.9" r="3.8"/><circle cx="1596.4" cy="421.7" r="3.9"/><circle cx="742.1" cy="1454.7" r="4"/><circle cx="1228.4" cy="537.8" r="3.3"/><circle cx="303.3" cy="351.9" r="3.8"/><circle cx="1395.5" cy="709.1" r="3.6"/><circle cx="1051.8" cy="1005.9" r="3.6"/><circle cx="1476.3" cy="584.5" r="4.1"/><circle cx="1342.6" cy="693.4" r="4.8"/><circle cx="424.3" cy="739.1" r="3.6"/><circle cx="1368.2" cy="475.3" r="3.3"/><circle cx="376.3" cy="867.4" r="3.6"/><circle cx="1254.9" cy="648.8" r="3.5"/><circle cx="496.1" cy="440.3" r="4.4"/><circle cx="1057.5" cy="378.5" r="4.2"/><circle cx="546.3" cy="381.8" r="4.2"/><circle cx="1091.9" cy="1422.6" r="3.3"/><circle cx="1406.4" cy="478.8" r="3.3"/><circle cx="1058.8" cy="266.6" r="4.5"/><circle cx="1468.2" cy="900.7" r="4.5"/><circle cx="711.7" cy="878.9" r="3.3"/><circle cx="863.7" cy="433.9" r="3.8"/><circle cx="1168.5" cy="403.4" r="4.2"/></g>
<g opacity="0.25"><ellipse cx="976.5" cy="785.6" rx="9" ry="11"/><circle cx="858.8" cy="1023.7" r="4.9"/><circle cx="1103.9" cy="634.8" r="4.6"/><circle cx="971.9" cy="808.5" r="4.9"/><circle cx="685.1" cy="574.3" r="3.5"/><circle cx="556.3" cy="1349.9" r="4.3"/><circle cx="948.3" cy="228.9" r="3.5"/><circle cx="930.8" cy="665.3" r="4.4"/><circle cx="1375.7" cy="536.6" r="4.3"/><circle cx="929.4" cy="1000.7" r="4"/><circle cx="1193.6" cy="1076.9" r="3.3"/><circle cx="1054.1" cy="633.3" r="3.9"/><circle cx="1397.2" cy="872.4" r="4.3"/><circle cx="991.1" cy="752.6" r="4.1"/><circle cx="292.3" cy="1355.4" r="3.4"/><circle cx="864.2" cy="324.9" r="3.9"/><circle cx="345.5" cy="958.2" r="3.3"/><circle cx="1552.5" cy="1291.2" r="3.9"/><circle cx="1530.8" cy="1445.4" r="4.2"/><circle cx="1013" cy="272.2" r="4.8"/><circle cx="1201.3" cy="390.2" r="3.6"/><circle cx="1362.3" cy="1111.7" r="4.2"/><circle cx="755.1" cy="684.1" r="3.5"/><circle cx="1050" cy="1167.4" r="3.3"/><circle cx="519.4" cy="520.8" r="4.4"/><circle cx="612.8" cy="1171.6" r="4.8"/><circle cx="604.6" cy="595.8" r="3.6"/></g>
<g opacity="0.26"><circle cx="883.3" cy="1022.1" r="4.5"/><circle cx="808.4" cy="1032.8" r="4"/><circle cx="809.3" cy="1000.1" r="4.4"/><circle cx="812.1" cy="1004.4" r="3.2"/><circle cx="1040.3" cy="663.6" r="4.5"/><circle cx="1035.6" cy="633" r="3.9"/><circle cx="1113.8" cy="615" r="4.3"/><circle cx="720.3" cy="1237.4" r="4.9"/><circle cx="706.3" cy="887.6" r="4"/><circle cx="1416.3" cy="1106" r="4.5"/><circle cx="984.1" cy="574.8" r="4.5"/><circle cx="1440.9" cy="1427.9" r="4.7"/><circle cx="790.8" cy="672.1" r="3.8"/><circle cx="1113.9" cy="895.7" r="4.2"/><circle cx="542.9" cy="751.2" r="3.7"/><circle cx="674" cy="706.5" r="3.7"/><circle cx="571.7" cy="1215" r="4.4"/><circle cx="303.7" cy="1181.1" r="3.7"/><circle cx="333.3" cy="267.2" r="4.9"/><circle cx="1229.3" cy="523.5" r="3.9"/><circle cx="1406.3" cy="147.1" r="4.6"/></g>
<g opacity="0.27"><circle cx="929.4" cy="1047.2" r="2.7"/><circle cx="931.4" cy="1116.1" r="4.2"/><circle cx="820.7" cy="1072.8" r="4.9"/><circle cx="904.6" cy="1122.7" r="4.6"/><circle cx="804.6" cy="1028.7" r="4.4"/><circle cx="809.9" cy="1026.6" r="3.8"/><circle cx="1053.6" cy="680.4" r="3.6"/><circle cx="1081.4" cy="660.5" r="3.4"/><circle cx="961" cy="653.9" r="3.7"/><circle cx="1446.9" cy="766.9" r="3.7"/><circle cx="1157.2" cy="1038.2" r="3.5"/><circle cx="445.7" cy="1150.2" r="4.6"/><circle cx="829.3" cy="984.9" r="4.7"/><circle cx="1530.1" cy="553.3" r="3.3"/><circle cx="979.7" cy="217.9" r="4.5"/><circle cx="1477.3" cy="1047.9" r="3.3"/><circle cx="1094" cy="1346.1" r="4.5"/><circle cx="1174.9" cy="939.1" r="3.3"/><circle cx="1656.9" cy="1338.1" r="5"/><circle cx="580.4" cy="1300.1" r="3.6"/><circle cx="767.9" cy="1029.7" r="4"/><circle cx="583.8" cy="1332.5" r="4.9"/><circle cx="669.7" cy="268.7" r="4.9"/><circle cx="1175.2" cy="1473.3" r="4.8"/><circle cx="1387.9" cy="1205.3" r="5"/><circle cx="342.5" cy="696.9" r="4.6"/></g>
<g opacity="0.28"><circle cx="906.5" cy="1042.9" r="3"/><circle cx="842.2" cy="1028.3" r="4.6"/><circle cx="823" cy="1020.9" r="3"/><circle cx="845.1" cy="966" r="3.2"/><circle cx="1069.4" cy="642.6" r="2.8"/><circle cx="1041.5" cy="693.3" r="4"/><circle cx="1458" cy="1115.7" r="4.3"/><circle cx="1184.5" cy="663.6" r="4.7"/><circle cx="1124.4" cy="860.4" r="3.4"/><circle cx="1226.2" cy="670.2" r="3.7"/><circle cx="908.9" cy="552.8" r="3.8"/><circle cx="1504.6" cy="527.8" r="4.4"/><circle cx="846" cy="841.6" r="4.8"/><circle cx="298" cy="283.6" r="4.2"/><circle cx="1174.4" cy="1300.9" r="4.7"/><circle cx="1343.2" cy="394.2" r="4.4"/><circle cx="895.3" cy="337.7" r="3.5"/><circle cx="1480.9" cy="368.5" r="5"/><circle cx="1355.5" cy="1220.8" r="3.3"/><circle cx="752.3" cy="1133.8" r="4.9"/></g>
<g opacity="0.29"><circle cx="843.5" cy="1081.5" r="4.9"/><circle cx="800.3" cy="1061.6" r="4.5"/><circle cx="943.6" cy="1057.9" r="3.5"/><circle cx="947.9" cy="1055.4" r="2.6"/><circle cx="886.6" cy="1094.7" r="3.9"/><circle cx="942.3" cy="1046.4" r="2.7"/><circle cx="856.8" cy="1046" r="2.9"/><circle cx="1056.3" cy="645.8" r="2.9"/><circle cx="1004.8" cy="649.2" r="3.4"/><circle cx="1460.9" cy="1098.6" r="3.3"/><circle cx="998.5" cy="154.1" r="4.8"/><circle cx="1443.5" cy="896.6" r="4.2"/><circle cx="473.1" cy="1284.7" r="3.8"/><circle cx="831.1" cy="730.3" r="4.5"/><circle cx="1033.2" cy="730.8" r="3.7"/><circle cx="672.1" cy="1182.6" r="4.6"/><circle cx="1021.7" cy="675.5" r="3.9"/><circle cx="700.3" cy="390.9" r="4.1"/><circle cx="911.2" cy="482.7" r="4.8"/><circle cx="1139.6" cy="779.3" r="3.8"/><circle cx="1356.7" cy="237.7" r="4.7"/><circle cx="1115.4" cy="477.4" r="4.1"/><circle cx="1617.6" cy="144.8" r="4.8"/><circle cx="1598.2" cy="408" r="4.9"/><circle cx="1016.4" cy="423.7" r="3.3"/><circle cx="1414.4" cy="548.9" r="3.7"/></g>
<g opacity="0.3"><circle cx="918.6" cy="1070.2" r="3.2"/><circle cx="850.8" cy="1009.2" r="4"/><circle cx="1060.9" cy="639.9" r="4.4"/><circle cx="385.1" cy="566.4" r="3.2"/><circle cx="477.6" cy="1225" r="4.6"/><circle cx="678" cy="1165.8" r="3.7"/><circle cx="321.2" cy="912.1" r="3.5"/><circle cx="891.7" cy="349.8" r="3.7"/><circle cx="799.8" cy="566.9" r="3.3"/><circle cx="1309.8" cy="514.7" r="4.9"/><circle cx="801.5" cy="199" r="4.8"/><circle cx="664" cy="546" r="3.3"/><circle cx="578.8" cy="498.6" r="3.9"/><circle cx="384.5" cy="1054" r="3.6"/><circle cx="427.3" cy="1261" r="5"/><circle cx="1001.6" cy="1277" r="3.4"/><circle cx="516" cy="779.9" r="3.5"/><circle cx="849.7" cy="1074.2" r="3.9"/><circle cx="1229.4" cy="1101.9" r="4.3"/><circle cx="1249.1" cy="563.5" r="4.4"/><circle cx="1068.5" cy="1183.1" r="4.1"/></g>
<g opacity="0.31"><circle cx="976" cy="1081.6" r="3"/><circle cx="1041.7" cy="658.2" r="3.3"/><circle cx="1086.8" cy="689.1" r="3.5"/><circle cx="990.9" cy="777.5" r="5"/><circle cx="978" cy="786.5" r="4.7"/><circle cx="299.6" cy="693.4" r="4.6"/><circle cx="1387.2" cy="464" r="4.9"/><circle cx="1323.6" cy="370.7" r="3.3"/><circle cx="643" cy="1448.8" r="3.6"/><circle cx="980" cy="657.8" r="5"/><circle cx="1305.2" cy="452.3" r="3.5"/><circle cx="489.6" cy="738.4" r="4.9"/><circle cx="869.6" cy="1004.7" r="4.8"/><circle cx="655.3" cy="933.8" r="3.7"/><circle cx="1031" cy="454.4" r="3.6"/><circle cx="572.6" cy="1365.4" r="4.9"/><circle cx="1439.9" cy="1210.3" r="4.2"/><circle cx="790.6" cy="1138" r="4.8"/><circle cx="1619.7" cy="851" r="3.3"/><circle cx="583.5" cy="361.5" r="4.2"/></g>
<g opacity="0.32"><circle cx="816.6" cy="1031.9" r="3"/><circle cx="818" cy="1039.1" r="3.8"/><circle cx="941.7" cy="1044.8" r="4"/><circle cx="1051.5" cy="682.1" r="3.1"/><circle cx="1050.9" cy="647.8" r="3.7"/><circle cx="985.6" cy="638.3" r="4"/><circle cx="1015.8" cy="684.6" r="2.8"/><circle cx="1104.5" cy="678.2" r="4.7"/><circle cx="1271.3" cy="945.2" r="3.4"/><circle cx="1541.4" cy="328.7" r="5"/><circle cx="1121" cy="1120.8" r="4.2"/><circle cx="835.1" cy="1234.6" r="3.8"/><circle cx="1351.9" cy="456.2" r="3.5"/><circle cx="892.7" cy="356.9" r="4.8"/><circle cx="297.4" cy="538.7" r="4"/><circle cx="1247" cy="1285.4" r="4.9"/><circle cx="670.1" cy="988.6" r="4.4"/><circle cx="1023.2" cy="1247.6" r="3.2"/><circle cx="1315.2" cy="135.2" r="3.5"/><circle cx="1441.2" cy="1031.5" r="4.5"/><circle cx="1421.1" cy="1383.8" r="3.7"/><circle cx="798.9" cy="571.4" r="4.1"/><circle cx="331" cy="747" r="4.4"/><circle cx="842.3" cy="813.2" r="4.3"/></g>
<g opacity="0.33"><ellipse cx="1050" cy="660" rx="14" ry="12"/><ellipse cx="1080" cy="668" rx="12" ry="10"/><ellipse cx="1116" cy="624.7" rx="11" ry="3.5" transform="rotate(20 1116 624.7)"/><ellipse cx="1203.4" cy="730.2" rx="4.5" ry="5"/><circle cx="860.3" cy="1035.4" r="3"/><circle cx="807.3" cy="1054.3" r="3"/><circle cx="901.5" cy="1021.8" r="4.5"/><circle cx="628.8" cy="998" r="4.4"/><circle cx="508.3" cy="1277.5" r="3.8"/><circle cx="990" cy="875" r="3.5"/><circle cx="341.1" cy="1303.5" r="4.6"/><circle cx="553" cy="413.2" r="4"/><circle cx="352.9" cy="1277.6" r="3.3"/><circle cx="616.9" cy="821.8" r="3.3"/><circle cx="922.4" cy="151.7" r="3.4"/><circle cx="1219.4" cy="1108.7" r="4.8"/><circle cx="1104.5" cy="303.5" r="3.4"/><circle cx="1410" cy="983.2" r="3.5"/><circle cx="831.1" cy="1149.4" r="4.5"/><circle cx="295.5" cy="1250.4" r="3.5"/><circle cx="1428.2" cy="538" r="4.6"/><circle cx="1104.3" cy="466.3" r="4.2"/><circle cx="1470.8" cy="249.6" r="3.6"/><circle cx="727.5" cy="488.4" r="4.5"/><circle cx="1479.1" cy="903.7" r="4"/></g>
<g opacity="0.34"><circle cx="855.4" cy="1116.1" r="4.4"/><circle cx="885.6" cy="1038.9" r="4.5"/><circle cx="1100" cy="611.4" r="4.7"/><circle cx="1453.2" cy="1200.4" r="4.1"/><circle cx="604.4" cy="455" r="4.3"/><circle cx="1605.3" cy="1296.8" r="4.1"/><circle cx="1554.9" cy="738.4" r="5"/><circle cx="350.5" cy="133.5" r="4.4"/><circle cx="1308.7" cy="1402.9" r="3.9"/><circle cx="1408.5" cy="194.8" r="3.7"/><circle cx="1264.6" cy="991.9" r="3.7"/><circle cx="1618.6" cy="891.8" r="4.5"/></g>
<g opacity="0.35"><circle cx="881.8" cy="1084" r="2.8"/><circle cx="479.7" cy="625.5" r="4.2"/><circle cx="1304.3" cy="1057" r="4.9"/><circle cx="1233.7" cy="1382.3" r="3.6"/><circle cx="882.3" cy="176.7" r="4.2"/><circle cx="778.4" cy="663.4" r="4.4"/><circle cx="1307.9" cy="1067.3" r="4.6"/><circle cx="1549.7" cy="1311.2" r="4.9"/><circle cx="768" cy="118.3" r="3.5"/></g>
<g opacity="0.36"><circle cx="865.8" cy="1034.6" r="3.8"/><circle cx="841" cy="1117.7" r="4.1"/><circle cx="917.9" cy="1070.1" r="4.3"/><circle cx="1072.8" cy="643.4" r="2.8"/><circle cx="968.8" cy="777.9" r="4.3"/><circle cx="350.1" cy="179.6" r="3.9"/><circle cx="1651.8" cy="1134" r="4"/><circle cx="638.3" cy="1383.2" r="3.3"/><circle cx="679" cy="358.2" r="4.9"/><circle cx="1250.3" cy="1080.1" r="3.4"/><circle cx="365.2" cy="653.9" r="3.9"/><circle cx="309.5" cy="498.8" r="3.4"/><circle cx="1043" cy="1304.4" r="4.9"/><circle cx="1319.9" cy="1265.5" r="4.1"/></g>
<g opacity="0.37"><ellipse cx="1063.8" cy="816.5" rx="4.5" ry="3.5" transform="rotate(20 1063.8 816.5)"/><ellipse cx="1569.5" cy="755.2" rx="3" ry="3.5"/><circle cx="826.9" cy="1068.4" r="4.6"/><circle cx="854.4" cy="1017.4" r="2.8"/><circle cx="815.8" cy="1095.4" r="3.9"/><circle cx="832.3" cy="1056.4" r="3.4"/><circle cx="838.3" cy="1072.2" r="4.2"/><circle cx="828.5" cy="1050.6" r="4.2"/><circle cx="856" cy="1059" r="3.6"/><circle cx="1076.5" cy="661.5" r="2.9"/><circle cx="1059.3" cy="644.8" r="4"/><circle cx="993.7" cy="800.1" r="4.4"/><circle cx="1541.8" cy="1186.7" r="3.5"/><circle cx="461.2" cy="1024.5" r="3.6"/><circle cx="553.7" cy="567.3" r="4.2"/><circle cx="1585" cy="940.8" r="4.3"/><circle cx="1265.6" cy="144.3" r="3.4"/><circle cx="1356.7" cy="538.8" r="3.8"/><circle cx="1610.4" cy="477.1" r="4.6"/><circle cx="1539.6" cy="180.2" r="3.5"/><circle cx="693.8" cy="712.9" r="4.5"/><circle cx="640.8" cy="615" r="4.5"/><circle cx="1309.1" cy="1325.2" r="3.7"/><circle cx="1061" cy="1070.1" r="4.7"/><circle cx="837" cy="424" r="4.1"/><circle cx="333.7" cy="678.7" r="4.5"/><circle cx="475.7" cy="1282.2" r="4.1"/><circle cx="1097.1" cy="902" r="4.7"/></g>
<g opacity="0.38"><circle cx="842.2" cy="1115.6" r="4.6"/><circle cx="1042.3" cy="672.7" r="3.5"/><circle cx="1075.8" cy="666.7" r="4.6"/><circle cx="1117.6" cy="640.8" r="4.5"/><circle cx="1320" cy="1264.2" r="3.7"/><circle cx="1296.3" cy="1043.6" r="4.8"/><circle cx="495.9" cy="1251.9" r="3.6"/><circle cx="496.3" cy="169.7" r="3.4"/><circle cx="1358.5" cy="500.8" r="3.8"/><circle cx="684.9" cy="266.1" r="4.4"/><circle cx="383.6" cy="450.3" r="4.2"/><circle cx="933.4" cy="574.8" r="4.6"/><circle cx="724.6" cy="347.7" r="4.7"/><circle cx="1154.5" cy="1267.9" r="3.8"/><circle cx="1188.8" cy="1293.2" r="4.1"/><circle cx="313" cy="774.5" r="3.4"/><circle cx="1221" cy="1361.4" r="4.8"/><circle cx="1018.5" cy="1291.6" r="4.4"/></g>
<g opacity="0.39"><circle cx="814.2" cy="1096.9" r="3.9"/><circle cx="1059.9" cy="664.5" r="2.9"/><circle cx="1053.2" cy="655" r="4.2"/><circle cx="1076.7" cy="616.5" r="4.7"/><circle cx="1003.8" cy="143.7" r="3.6"/><circle cx="1391.7" cy="183.9" r="5"/><circle cx="1398.6" cy="292" r="5"/><circle cx="1305.2" cy="255.4" r="4.7"/><circle cx="637.5" cy="1399.8" r="4.5"/><circle cx="1056.6" cy="1192.7" r="3.9"/><circle cx="1467" cy="772.1" r="4.8"/><circle cx="376.1" cy="425.3" r="4.6"/><circle cx="1321.6" cy="466.8" r="3.9"/><circle cx="406" cy="455" r="4.4"/><circle cx="1245.8" cy="672.7" r="3.4"/><circle cx="1241.2" cy="1354.9" r="3.3"/><circle cx="1501" cy="1334.4" r="4.2"/><circle cx="1066.8" cy="599.1" r="4.6"/><circle cx="829.5" cy="1366.9" r="5"/><circle cx="1241.2" cy="214.1" r="4.3"/><circle cx="1308.5" cy="222.8" r="4.1"/><circle cx="725.3" cy="419.6" r="4.5"/><circle cx="1187.9" cy="939.5" r="3.5"/><circle cx="886.9" cy="863.3" r="3.6"/></g>
<g opacity="0.4"><circle cx="800.4" cy="1037.5" r="2.7"/><circle cx="803.6" cy="1063.2" r="3.4"/><circle cx="891.1" cy="1093" r="4.1"/><circle cx="839.1" cy="1019.8" r="3.2"/><circle cx="965" cy="1241.5" r="4.3"/><circle cx="373.4" cy="1164" r="3.3"/><circle cx="1542.1" cy="195.4" r="4.1"/><circle cx="323.5" cy="282.3" r="3.3"/><circle cx="1576.2" cy="1150.8" r="4.2"/><circle cx="1508.1" cy="999.6" r="3.4"/><circle cx="1587.3" cy="447.6" r="3.8"/><circle cx="1310.1" cy="513.3" r="3.3"/></g>
<g opacity="0.41"><circle cx="873.4" cy="1016.1" r="3.3"/><circle cx="808.2" cy="1089.7" r="2.6"/><circle cx="1077.6" cy="663.1" r="4.8"/><circle cx="1096.2" cy="668.4" r="3.7"/><circle cx="1052.8" cy="1390.3" r="3.5"/><circle cx="1540.3" cy="1195.7" r="3.2"/><circle cx="549.3" cy="751.8" r="3.7"/><circle cx="953.7" cy="1122.1" r="4.5"/><circle cx="753.7" cy="337.2" r="3.8"/><circle cx="570.8" cy="794" r="3.5"/><circle cx="675.7" cy="494.7" r="3.3"/><circle cx="537.1" cy="714.4" r="5"/><circle cx="1011.7" cy="905.6" r="4.7"/><circle cx="1368.5" cy="418.1" r="3.8"/><circle cx="631.6" cy="394.1" r="3.8"/><circle cx="940.7" cy="362.3" r="4.7"/><circle cx="902.7" cy="648.7" r="4.1"/><circle cx="612.9" cy="719.7" r="4.6"/><circle cx="1428.8" cy="1217.1" r="4"/><circle cx="840.7" cy="1144.1" r="4.9"/><circle cx="750.1" cy="713.1" r="4.8"/><circle cx="958" cy="1365.4" r="4.2"/></g>
<g opacity="0.42"><circle cx="945.9" cy="1055.1" r="3.1"/><circle cx="889.2" cy="1094.4" r="4.8"/><circle cx="1070" cy="649.1" r="2.7"/><circle cx="1104.2" cy="633.9" r="4.3"/><circle cx="573.9" cy="285.6" r="4"/><circle cx="1323.4" cy="1401.9" r="4.2"/><circle cx="713.5" cy="615" r="5"/><circle cx="1246.3" cy="179.5" r="4.4"/><circle cx="601.5" cy="1154.9" r="4.3"/><circle cx="890.3" cy="1183.8" r="4.2"/><circle cx="399.7" cy="1179.4" r="4.3"/><circle cx="483" cy="907.1" r="4.6"/><circle cx="1456.2" cy="1107" r="4.1"/><circle cx="1046.3" cy="1077.9" r="3.6"/><circle cx="950.7" cy="893.4" r="3.8"/><circle cx="1324.6" cy="850" r="3.3"/><circle cx="1567.7" cy="754" r="3.3"/></g>
<g opacity="0.43"><circle cx="828.6" cy="1023" r="3.4"/><circle cx="630.8" cy="915.5" r="4.6"/><circle cx="1569" cy="218.6" r="4.8"/><circle cx="816.1" cy="1260.9" r="4.9"/><circle cx="595.8" cy="883.7" r="4"/><circle cx="739.5" cy="541.4" r="4.6"/><circle cx="691.2" cy="515.9" r="4.6"/><circle cx="1176.2" cy="677.6" r="4.4"/><circle cx="1433.4" cy="515.1" r="4.3"/><circle cx="1171.6" cy="437" r="3.5"/><circle cx="1342.6" cy="793.3" r="4.4"/><circle cx="993.2" cy="775.3" r="3.6"/><circle cx="1302.1" cy="1121" r="4.9"/><circle cx="1232.7" cy="798.3" r="4.3"/><circle cx="666.6" cy="372.8" r="4.5"/><circle cx="337.1" cy="1330.1" r="4"/><circle cx="294.3" cy="371.5" r="4.1"/><circle cx="609.7" cy="1131.2" r="4.3"/><circle cx="831.2" cy="666.5" r="3.5"/><circle cx="679.5" cy="1261.6" r="4.9"/></g>
<g opacity="0.44"><circle cx="957.7" cy="1095" r="4.1"/><circle cx="1053.2" cy="647.1" r="3.5"/><circle cx="1271.4" cy="1202" r="4.4"/><circle cx="1425.1" cy="1274.5" r="4"/><circle cx="481.4" cy="118.1" r="3.5"/><circle cx="770.9" cy="174.2" r="4.3"/><circle cx="1179.5" cy="1107.7" r="3.5"/><circle cx="1612.9" cy="273.2" r="3.6"/><circle cx="324.5" cy="411.6" r="4.4"/><circle cx="1560.7" cy="1343.4" r="3.9"/><circle cx="1444.7" cy="691.8" r="3.9"/><circle cx="1312.8" cy="1463.7" r="4.1"/><circle cx="918.9" cy="903.5" r="3.8"/></g>
<g opacity="0.45"><circle cx="893.4" cy="1060.3" r="2.8"/><circle cx="839" cy="1122.8" r="4.4"/><circle cx="810.6" cy="1089.7" r="3.5"/><circle cx="884.1" cy="1094.4" r="4.3"/><circle cx="1371.1" cy="687" r="4.7"/><circle cx="1627" cy="1160.8" r="4"/><circle cx="722.6" cy="1373.4" r="4.9"/><circle cx="1492.3" cy="951.1" r="4.3"/><circle cx="1426.4" cy="1132" r="4.6"/><circle cx="967.4" cy="736.1" r="4.5"/><circle cx="1650.5" cy="242.7" r="3.3"/><circle cx="1466" cy="1366.5" r="4.2"/></g>
<g opacity="0.46"><ellipse cx="1071.3" cy="625.8" rx="13" ry="5" transform="rotate(-40 1071.3 625.8)"/><circle cx="1612.7" cy="793.6" r="2.5"/><ellipse cx="715.9" cy="1325" rx="2.5" ry="6.5" transform="rotate(40 715.9 1325)"/><circle cx="939.7" cy="1093.9" r="3.8"/><circle cx="1064.9" cy="675.3" r="4.1"/><circle cx="463.5" cy="718.4" r="4.6"/><circle cx="376.7" cy="1003.2" r="3.5"/><circle cx="1478.5" cy="519" r="3.3"/><circle cx="614.9" cy="1329.3" r="3.3"/><circle cx="1491.5" cy="722.5" r="4.1"/><circle cx="1334.6" cy="866.2" r="3.4"/><circle cx="815.6" cy="1117.4" r="5"/><circle cx="1520" cy="756.6" r="3.8"/><circle cx="554.2" cy="981.2" r="3.7"/><circle cx="1468.5" cy="1114.7" r="3.5"/><circle cx="481.5" cy="1394.1" r="3.9"/><circle cx="519.4" cy="959.3" r="3.5"/><circle cx="1415.2" cy="166.7" r="4.5"/></g>
<g opacity="0.47"><circle cx="1075.9" cy="664.6" r="3.6"/><circle cx="1075.9" cy="663.4" r="4"/><circle cx="1044.5" cy="184.8" r="3.2"/><circle cx="838.6" cy="648.9" r="3.8"/><circle cx="1288" cy="907.2" r="4.2"/><circle cx="1556.9" cy="458.8" r="4.5"/><circle cx="376.3" cy="1471.8" r="4.4"/><circle cx="1410.1" cy="682.9" r="3.6"/><circle cx="1458.4" cy="1390.9" r="3.3"/><circle cx="1539.2" cy="252.1" r="3.7"/><circle cx="1174.7" cy="1366.4" r="3.5"/><circle cx="1295.9" cy="716.8" r="4.1"/></g>
<g opacity="0.48"><ellipse cx="1062.8" cy="664.1" rx="34" ry="17" transform="rotate(-5 1062.8 664.1)"/><circle cx="1072.5" cy="646.5" r="3"/><circle cx="1055" cy="652.8" r="4.2"/><circle cx="1087.8" cy="673.5" r="3.1"/><circle cx="1031.8" cy="670.9" r="2.8"/><circle cx="1095.4" cy="648.5" r="3.3"/><circle cx="1100.4" cy="657.7" r="3.5"/><circle cx="350.9" cy="1028" r="3.7"/><circle cx="1602.6" cy="465.5" r="4.3"/><circle cx="1629.6" cy="1266.1" r="4.6"/><circle cx="1026.9" cy="1248" r="4.5"/></g>
<g opacity="0.5"><ellipse cx="1105.4" cy="689.7" rx="10" ry="6" transform="rotate(30 1105.4 689.7)"/><ellipse cx="1148" cy="757.9" rx="2.8" ry="4"/><circle cx="1557.3" cy="699.3" r="3.2"/></g>
<g opacity="0.53"><circle cx="1085.5" cy="648.2" r="4.5"/></g>
<g opacity="0.54"><ellipse cx="1062.8" cy="855.9" rx="3.2" ry="4"/><circle cx="1646.8" cy="752.5" r="2.7"/><circle cx="701.9" cy="1339.9" r="3.2"/><circle cx="665.1" cy="1314.3" r="3.2"/><circle cx="1049.5" cy="663.4" r="4.8"/></g>
<g opacity="0.58"><ellipse cx="1050" cy="617.3" rx="4" ry="4.5"/><circle cx="1023.8" cy="609.4" r="3"/><ellipse cx="1161.8" cy="668.4" rx="3.8" ry="4.2"/><circle cx="1604.7" cy="721.1" r="3.2"/><circle cx="760.7" cy="1270.1" r="3.2"/></g>
<g opacity="0.62"><circle cx="1086.2" cy="687.6" r="5"/><ellipse cx="1061.3" cy="740.9" rx="3.2" ry="9.5" transform="rotate(8 1061.3 740.9)"/><circle cx="982.9" cy="824" r="2.5"/><ellipse cx="1218.3" cy="607.7" rx="3.5" ry="4"/><ellipse cx="703.7" cy="1383.6" rx="3" ry="5.3"/></g>
<g opacity="0.67"><circle cx="936" cy="1123.5" r="4.5"/><ellipse cx="937.1" cy="997.8" rx="3.3" ry="4"/><circle cx="808.2" cy="882.8" r="3.4"/><ellipse cx="866.8" cy="858.3" rx="4" ry="3.6"/><circle cx="1068.1" cy="683.3" r="6"/><circle cx="1053.2" cy="688.7" r="4.5"/><circle cx="947.7" cy="664.1" r="4"/><ellipse cx="968" cy="759" rx="3.3" ry="6.5"/><circle cx="1040" cy="795.8" r="4.3"/><circle cx="1615.9" cy="658.3" r="4.3"/><ellipse cx="803.8" cy="1290.3" rx="3.2" ry="4.8"/></g>
<g opacity="0.71"><circle cx="686.5" cy="147.1" r="3.8"/><circle cx="570.6" cy="217.3" r="3.3"/><circle cx="348.9" cy="318.6" r="3.8"/><circle cx="487.8" cy="458.9" r="3.8"/><circle cx="552.6" cy="475.5" r="3.8"/><circle cx="687.5" cy="474.5" r="3.8"/><circle cx="839.5" cy="497.9" r="3.8"/><circle cx="499.9" cy="533" r="3.8"/><circle cx="345.5" cy="602.7" r="3.8"/><circle cx="760.6" cy="649" r="3.8"/><circle cx="813.2" cy="698.7" r="3.8"/><circle cx="572" cy="732.8" r="3.8"/><circle cx="779.1" cy="783.9" r="3.8"/><circle cx="404.9" cy="653.8" r="3.8"/><circle cx="568.1" cy="695.2" r="3.3"/><circle cx="872.7" cy="708.4" r="2.8"/><circle cx="916.5" cy="742.5" r="3.3"/><circle cx="763" cy="196.8" r="2.8"/><circle cx="775.2" cy="133.5" r="3.3"/><circle cx="894.6" cy="240.7" r="3.8"/><circle cx="434.2" cy="148.1" r="3.3"/><circle cx="461" cy="233.4" r="3.3"/><circle cx="407.4" cy="223.6" r="2.8"/><circle cx="514.6" cy="293.3" r="3.3"/><circle cx="590.1" cy="187.1" r="3.3"/><circle cx="819.1" cy="157.8" r="2.8"/><circle cx="936" cy="291.8" r="3.8"/><circle cx="943.3" cy="204.1" r="3.3"/><circle cx="1346.7" cy="177.3" r="3.8"/><circle cx="997.4" cy="154.4" r="3.8"/><circle cx="1603.5" cy="174.9" r="3.8"/><circle cx="1558.7" cy="298.2" r="3.8"/><circle cx="1574.7" cy="308.9" r="3.8"/><circle cx="1581.6" cy="356.1" r="3.3"/><circle cx="1495.3" cy="367.3" r="3.3"/><circle cx="1432" cy="366.4" r="3.3"/><circle cx="1090.9" cy="361.5" r="3.8"/><circle cx="979.8" cy="378.6" r="3.3"/><circle cx="1013" cy="449.2" r="3.3"/><circle cx="1216.1" cy="489.2" r="3.8"/><circle cx="1275.1" cy="471.1" r="3.8"/><circle cx="1345.7" cy="441.4" r="3.8"/><circle cx="1334.5" cy="557.4" r="3.3"/><circle cx="1093.4" cy="473.1" r="3.3"/><circle cx="1115.3" cy="493" r="3.3"/><circle cx="1492.9" cy="531.5" r="3.8"/><circle cx="1453.9" cy="585.6" r="3.3"/><circle cx="1284.4" cy="608.5" r="3.8"/><circle cx="1312.6" cy="625.6" r="3.3"/><circle cx="1288.3" cy="645.1" r="3.3"/><circle cx="1315" cy="705" r="3.8"/><circle cx="1327.2" cy="732.8" r="3.8"/><circle cx="1288.3" cy="757.1" r="3.8"/><circle cx="1242" cy="747.4" r="2.8"/><circle cx="1349.2" cy="796.1" r="3.3"/><circle cx="1405.2" cy="118.9" r="3.3"/><circle cx="1285.8" cy="122.8" r="3.3"/><circle cx="1137.2" cy="117.9" r="3.3"/><circle cx="1475.8" cy="216.3" r="3.3"/><circle cx="1410.1" cy="211.4" r="3.8"/><circle cx="1366.2" cy="204.1" r="2.8"/><circle cx="1490.4" cy="783.9" r="3.3"/><circle cx="665.6" cy="862.4" r="3.8"/><circle cx="763" cy="804.9" r="3.8"/><circle cx="451.2" cy="1032.9" r="3.3"/><circle cx="387.9" cy="1070.9" r="3.8"/><circle cx="498.5" cy="1060.7" r="3.3"/><circle cx="681.7" cy="1057.2" r="3.8"/><circle cx="570.6" cy="1087.5" r="3.3"/><circle cx="663.2" cy="1148.4" r="3.3"/><circle cx="396.6" cy="1164.4" r="3.8"/><circle cx="658.3" cy="1195.6" r="3.8"/><circle cx="692.4" cy="1200.5" r="3.8"/><circle cx="750.9" cy="1187.3" r="3.8"/><circle cx="567.2" cy="1236.1" r="3.3"/><circle cx="903.3" cy="1250.7" r="3.8"/><circle cx="853.2" cy="1209.3" r="3.3"/><circle cx="860.5" cy="1275" r="3.3"/><circle cx="957.9" cy="1360.3" r="3.3"/><circle cx="936" cy="1409" r="3.3"/><circle cx="888.2" cy="1452.9" r="3.3"/><circle cx="373.3" cy="1400.2" r="3.8"/><circle cx="318.2" cy="1396.8" r="3.8"/><circle cx="526.7" cy="1435.8" r="3.8"/><circle cx="500.9" cy="1425.1" r="2.8"/><circle cx="404.9" cy="1322.8" r="3.3"/><circle cx="443.9" cy="1321.3" r="3.3"/><circle cx="327" cy="946.2" r="3.3"/><circle cx="346.5" cy="830.2" r="2.8"/><circle cx="439" cy="853.6" r="3.8"/><circle cx="1295.6" cy="821.9" r="3.8"/><circle cx="1149.4" cy="931.5" r="3.8"/><circle cx="1122.6" cy="1036.3" r="3.3"/><circle cx="1199.1" cy="1068" r="3.8"/><circle cx="1190.8" cy="1132.8" r="3.8"/><circle cx="1584.5" cy="1192.2" r="3.8"/><circle cx="1044.6" cy="1176.1" r="3.8"/><circle cx="1185" cy="1215.1" r="3.8"/><circle cx="1133.8" cy="1240" r="3.8"/><circle cx="1058.3" cy="1293.1" r="3.8"/><circle cx="1512.4" cy="1233.6" r="3.3"/><circle cx="1393" cy="1316.4" r="3.8"/><circle cx="1224.9" cy="1408" r="3.8"/><circle cx="1244.4" cy="1404.1" r="3.8"/><circle cx="1168.9" cy="1327.6" r="3.3"/><circle cx="1639" cy="1450.4" r="3.8"/><circle cx="1509.9" cy="880.4" r="3.3"/><circle cx="1512.4" cy="846.3" r="3.3"/><circle cx="1383.3" cy="877" r="3.3"/><circle cx="1414.9" cy="880.4" r="3.3"/><circle cx="1361.3" cy="958.3" r="3.3"/><circle cx="1380.8" cy="1029" r="3.3"/><circle cx="1318.9" cy="997.3" r="3.3"/><circle cx="1151.8" cy="990" r="3.3"/><circle cx="1634.2" cy="831.7" r="3.3"/><ellipse cx="1210.2" cy="645" rx="4" ry="4.5"/></g>
<g opacity="0.75"><circle cx="960.5" cy="1018.1" r="3.8"/><circle cx="1029.7" cy="683.3" r="5.3"/><circle cx="982.2" cy="724.2" r="3.4"/><circle cx="934.3" cy="767.9" r="4.3"/><circle cx="739.9" cy="1277" r="4"/><ellipse cx="686.1" cy="1357.8" rx="3.7" ry="5"/><ellipse cx="753.2" cy="1358.5" rx="3.7" ry="5.3"/></g>
<g opacity="0.83"><circle cx="479.5" cy="126.2" r="5.2"/><circle cx="485.3" cy="197.8" r="4.8"/><circle cx="669.5" cy="128.6" r="5.2"/><circle cx="587.6" cy="187.1" r="4.3"/><circle cx="576.4" cy="201.7" r="4.3"/><circle cx="686.5" cy="201.7" r="5.2"/><circle cx="728.9" cy="240.7" r="4.3"/><circle cx="909.2" cy="174.9" r="4.8"/><circle cx="360.1" cy="383.4" r="4.3"/><circle cx="471.7" cy="422.9" r="5.2"/><circle cx="581.8" cy="409.7" r="4.3"/><circle cx="916.5" cy="349.3" r="4.3"/><circle cx="951.6" cy="378.1" r="5.2"/><circle cx="799.6" cy="370.8" r="4.3"/><circle cx="333.3" cy="471.1" r="4.3"/><circle cx="665.6" cy="473.6" r="4.8"/><circle cx="451.2" cy="554" r="4.3"/><circle cx="294.3" cy="599.3" r="4.8"/><circle cx="754.3" cy="637.8" r="4.8"/><circle cx="883.4" cy="724" r="4.3"/><circle cx="514.6" cy="715.7" r="4.3"/><circle cx="311.4" cy="742.5" r="5.2"/><circle cx="669.5" cy="775.6" r="4.8"/><circle cx="833.7" cy="777.6" r="4.3"/><circle cx="1010.5" cy="266.5" r="4.8"/><circle cx="1173.8" cy="272.3" r="4.3"/><circle cx="1618.1" cy="238.2" r="5.2"/><circle cx="1614.7" cy="381" r="4.3"/><circle cx="993.5" cy="406.3" r="5.2"/><circle cx="1208.8" cy="506.2" r="4.8"/><circle cx="1275.1" cy="518.4" r="4.3"/><circle cx="1267.8" cy="572" r="4.3"/><circle cx="1027.6" cy="556.4" r="5.2"/><circle cx="1468.5" cy="513.5" r="4.8"/><circle cx="1542.6" cy="527.2" r="4.8"/><circle cx="1609.8" cy="549.1" r="4.3"/><circle cx="1584.5" cy="583.2" r="4.3"/><circle cx="1411" cy="663.6" r="4.8"/><circle cx="1600.1" cy="648.5" r="4.8"/><circle cx="634.9" cy="842.9" r="5.2"/><circle cx="537.5" cy="984.2" r="5.2"/><circle cx="356.2" cy="1025.1" r="5.2"/><circle cx="737.2" cy="1072.8" r="4.3"/><circle cx="592.5" cy="1152.3" r="4.8"/><circle cx="447.3" cy="1187.3" r="4.3"/><circle cx="554.5" cy="1223.9" r="4.3"/><circle cx="886.3" cy="1240" r="5.2"/><circle cx="597.4" cy="1367.6" r="4.3"/><circle cx="881.4" cy="1379.8" r="4.8"/><circle cx="767.9" cy="1451.9" r="5.2"/><circle cx="307.5" cy="1353" r="4.3"/><circle cx="458.5" cy="1434.3" r="4.8"/><circle cx="536.5" cy="1413.9" r="4.3"/><circle cx="348.9" cy="904.8" r="5.2"/><circle cx="1069" cy="887.7" r="5.2"/><circle cx="1206.9" cy="895" r="5.2"/><circle cx="1265.4" cy="867.2" r="4.8"/><circle cx="1070" cy="974.4" r="4.8"/><circle cx="1499.2" cy="963.2" r="5.2"/><circle cx="1093.4" cy="1035.3" r="4.8"/><circle cx="1068" cy="1084" r="4.3"/><circle cx="1252.7" cy="1175.2" r="5.2"/><circle cx="1575.7" cy="1135.2" r="5.2"/><circle cx="1427.1" cy="1186.4" r="5.2"/><circle cx="1592.8" cy="1068" r="4.3"/><circle cx="1193.2" cy="1268.7" r="5.2"/><circle cx="1198.1" cy="1297" r="4.8"/><circle cx="1552.8" cy="1235.1" r="4.8"/><circle cx="1522.1" cy="1260.4" r="4.8"/><circle cx="1586.9" cy="1277.5" r="4.3"/><circle cx="1445.6" cy="1316.4" r="4.8"/><circle cx="1440.7" cy="1383.2" r="4.8"/><circle cx="1480.7" cy="1422.7" r="4.8"/><circle cx="1313.6" cy="1449" r="5.2"/><circle cx="1239.5" cy="1474.8" r="4.3"/><circle cx="1168.9" cy="1473.3" r="4.3"/><circle cx="1103.1" cy="1471.4" r="4.3"/><ellipse cx="916.9" cy="1079.9" rx="47" ry="26" transform="rotate(12 916.9 1079.9)"/><ellipse cx="875" cy="1043" rx="18" ry="12"/><ellipse cx="821" cy="1037.2" rx="25" ry="12" transform="rotate(20 821 1037.2)"/><ellipse cx="823.1" cy="1084.1" rx="21.5" ry="15.5"/><ellipse cx="842.3" cy="1105.4" rx="12" ry="10"/><ellipse cx="919" cy="1112" rx="11" ry="9"/><ellipse cx="859.3" cy="997.8" rx="13" ry="12.5"/><ellipse cx="866.8" cy="974.4" rx="9.3" ry="9"/><ellipse cx="908.3" cy="941.4" rx="9.8" ry="14"/><circle cx="906.2" cy="972.3" r="7.2"/><circle cx="897.7" cy="1026.6" r="7"/><ellipse cx="957.3" cy="968" rx="4.5" ry="9" transform="rotate(40 957.3 968)"/><circle cx="801.8" cy="917.9" r="7.5"/><ellipse cx="812.4" cy="915.8" rx="7.5" ry="7"/><ellipse cx="809.3" cy="932.8" rx="8.5" ry="10"/><ellipse cx="794.3" cy="995.7" rx="7" ry="8"/><circle cx="886" cy="894.5" r="5.6"/><ellipse cx="1027.7" cy="865.7" rx="6" ry="6.6"/><circle cx="1028.7" cy="877.4" r="5.8"/><ellipse cx="983.9" cy="663.1" rx="11.5" ry="14.5"/><circle cx="1033.6" cy="622.6" r="5.5"/><circle cx="1138.4" cy="619.8" r="6"/><ellipse cx="933.9" cy="681.2" rx="5.8" ry="7.5" transform="rotate(-15 933.9 681.2)"/><circle cx="980.3" cy="690.8" r="6.8"/><ellipse cx="1078.7" cy="719.1" rx="5.3" ry="6.8"/><circle cx="972.2" cy="806.9" r="5.3"/><ellipse cx="995" cy="837.8" rx="5.3" ry="7.5" transform="rotate(-10 995 837.8)"/><circle cx="1612.5" cy="709.4" r="5.9"/><circle cx="729.8" cy="1288.2" r="5.9"/><circle cx="670.1" cy="1380.9" r="5.3"/></g>
<circle cx="478" cy="181.2" r="8.2"/><circle cx="718.2" cy="227" r="6.2"/><circle cx="798.1" cy="285.5" r="5.7"/><circle cx="486.8" cy="315.2" r="5.7"/><circle cx="364.5" cy="329.8" r="7.7"/><circle cx="641.7" cy="433.1" r="5.7"/><circle cx="728" cy="527.2" r="5.7"/><circle cx="523.3" cy="556.4" r="8.2"/><circle cx="845.9" cy="566.1" r="9.1"/><circle cx="964.2" cy="652.4" r="6.2"/><circle cx="1334.5" cy="162.7" r="5.7"/><circle cx="1064.1" cy="245.5" r="5.7"/><circle cx="1301.9" cy="788.8" r="7.2"/><circle cx="725" cy="1004.6" r="5.7"/><circle cx="675.3" cy="1193.7" r="5.7"/><circle cx="537.9" cy="1230.2" r="7.7"/><circle cx="346.5" cy="1419.7" r="6.2"/><circle cx="1329.7" cy="826.8" r="6.2"/><circle cx="1222.5" cy="935.4" r="6.2"/><circle cx="1457.8" cy="951" r="6.7"/><circle cx="1544" cy="981.2" r="6.2"/><circle cx="1505.1" cy="1011.9" r="6.2"/><circle cx="1256.6" cy="1015.8" r="5.7"/><circle cx="1275.1" cy="1149.3" r="6.2"/><ellipse cx="1000.5" cy="790.9" rx="15" ry="15.5"/><circle cx="1628.7" cy="739.2" r="13.5"/><ellipse cx="1615.9" cy="765.9" rx="9.5" ry="13.8"/><circle cx="1620" cy="752" r="9"/><ellipse cx="735.1" cy="1314.3" rx="9" ry="8"/><ellipse cx="733.5" cy="1327.1" rx="5" ry="8"/><ellipse cx="729.8" cy="1339.9" rx="10" ry="9.6"/>
</g>
<g id="axd">
<path d="M305.1 1486v5.6M305.1 114v-5.6M362.3 1486v5.6M362.3 114v-5.6M419.5 1486v10M419.5 114v-10M476.7 1486v5.6M476.7 114v-5.6M533.9 1486v5.6M533.9 114v-5.6M591 1486v5.6M591 114v-5.6M648.2 1486v5.6M648.2 114v-5.6M705.4 1486v10M705.4 114v-10M762.6 1486v5.6M762.6 114v-5.6M819.8 1486v5.6M819.8 114v-5.6M876.9 1486v5.6M876.9 114v-5.6M934.1 1486v5.6M934.1 114v-5.6M991.3 1486v10M991.3 114v-10M1048.5 1486v5.6M1048.5 114v-5.6M1105.7 1486v5.6M1105.7 114v-5.6M1162.8 1486v5.6M1162.8 114v-5.6M1220 1486v5.6M1220 114v-5.6M1277.2 1486v10M1277.2 114v-10M1334.4 1486v5.6M1334.4 114v-5.6M1391.6 1486v5.6M1391.6 114v-5.6M1448.7 1486v5.6M1448.7 114v-5.6M1505.9 1486v5.6M1505.9 114v-5.6M1563.1 1486v10M1563.1 114v-10M1620.3 1486v5.6M1620.3 114v-5.6M288 148.4h-10M1660 148.4h10M288 205.6h-5.6M1660 205.6h5.6M288 262.8h-5.6M1660 262.8h5.6M288 319.9h-5.6M1660 319.9h5.6M288 377.1h-5.6M1660 377.1h5.6M288 434.3h-10M1660 434.3h10M288 491.5h-5.6M1660 491.5h5.6M288 548.7h-5.6M1660 548.7h5.6M288 605.8h-5.6M1660 605.8h5.6M288 663h-5.6M1660 663h5.6M288 720.2h-10M1660 720.2h10M288 777.4h-5.6M1660 777.4h5.6M288 834.6h-5.6M1660 834.6h5.6M288 891.7h-5.6M1660 891.7h5.6M288 948.9h-5.6M1660 948.9h5.6M288 1006.1h-10M1660 1006.1h10M288 1063.3h-5.6M1660 1063.3h5.6M288 1120.5h-5.6M1660 1120.5h5.6M288 1177.6h-5.6M1660 1177.6h5.6M288 1234.8h-5.6M1660 1234.8h5.6M288 1292h-10M1660 1292h10M288 1349.2h-5.6M1660 1349.2h5.6M288 1406.4h-5.6M1660 1406.4h5.6M288 1463.5h-5.6M1660 1463.5h5.6" stroke="#000" stroke-width="3.2" fill="none"/>
<path d="M288.1 1488V114H1660V1488" fill="none" stroke="#000" stroke-width="4" stroke-linejoin="miter" stroke-linecap="butt"/>
<path d="M286.1 1486.4H1720M1661 114.5H1670" fill="none" stroke="#000" stroke-width="3"/>
<rect x="1670.5" y="114.5" width="39.6" height="1371.9" fill="url(#cb)" stroke="#000" stroke-width="3"/>
<path d="M1710.1 1486.4h9.9M1710.1 1212h9.9M1710.1 937.6h9.9M1710.1 663.3h9.9M1710.1 388.9h9.9M1710.1 114.5h9.9" stroke="#000" stroke-width="3" fill="none"/>
<text class="t" x="1728.6" y="1506.8">0</text><text class="t" x="1728.6" y="1232.4">1</text><text class="t" x="1728.6" y="958">2</text><text class="t" x="1728.6" y="683.7">3</text><text class="t" x="1728.6" y="409.3">4</text><text class="t" x="1728.6" y="134.9">5</text>
<text class="t" x="1711" y="105.4" text-anchor="end">1e−5</text>
<text class="t" x="268.3" y="164.7" text-anchor="end">0°30'</text><text class="t" x="268.3" y="450.6" text-anchor="end">25'</text><text class="t" x="268.3" y="736.5" text-anchor="end">20'</text><text class="t" x="268.3" y="1022.4" text-anchor="end">15'</text><text class="t" x="268.3" y="1308.3" text-anchor="end">10'</text>
<text class="t" x="419.5" y="1547.8" text-anchor="middle">23<tspan class="s" dx="1.3" dy="-23.2">h</tspan><tspan dx="1.3" dy="23.2">44</tspan><tspan class="s" dx="1.3" dy="-23.2">m</tspan><tspan dx="1.3" dy="23.2">20</tspan><tspan class="s" dx="1.3" dy="-23.2">s</tspan></text><text class="t" x="705.4" y="1547.8" text-anchor="middle">00<tspan class="s" dx="1.3" dy="-23.2">s</tspan></text><text class="t" x="991.3" y="1547.8" text-anchor="middle">43<tspan class="s" dx="1.3" dy="-23.2">m</tspan><tspan dx="1.3" dy="23.2">40</tspan><tspan class="s" dx="1.3" dy="-23.2">s</tspan></text><text class="t" x="1277.2" y="1547.8" text-anchor="middle">20<tspan class="s" dx="1.3" dy="-23.2">s</tspan></text><text class="t" x="1563.1" y="1547.8" text-anchor="middle">00<tspan class="s" dx="1.3" dy="-23.2">s</tspan></text>
<text class="t" x="975.8" y="1630.7" text-anchor="middle">RA (ICRS)</text>
<text class="t" transform="translate(81.8 800) rotate(-90)" text-anchor="middle">Dec (ICRS)</text>
</g>
</defs>
<rect width="1803" height="3299" fill="#fff"/>
<g id="p1">
<g filter="url(#n1)">
<rect x="278" y="104" width="1392" height="1392" fill="#333333"/>
<g fill="none" stroke="url(#gn)" stroke-linecap="round"><path d="M1295.8 408l-12.3 19.9M1231.2 475.8l-18.1 22.4M1225.6 837l-6 28.4M1332.3 223.5l0.9 -27.5M678.3 245l-32 -5.5M1621 1413.6l12.8 46.3M1203.3 594.3l-10.9 20.8M896.5 618.8l-36.8 22.4M1031.5 389.2l-15.8 1.8M1362.9 650l2.1 18M537.4 168l-28 -6.6M629.4 619.4l-28.1 10.6M608.2 616.4l-51.4 18.6M632 127.8l-35.2 -11.5M1608.6 682l29.7 34.5M1447.4 254.2l16.2 -13.8M617.3 1261.6l-27 34.4M1418.2 238.8l23.1 -30.1M1364.1 572.2l2.7 16.4M1078 1433.3l-12.3 53.1M1553 524.6l31.8 23.8M1215.9 590.2l-9.6 20.2M1294.4 316.7l-14.6 -17.1M1505.6 169.3l18.7 -19.6M622.8 1129.5l-11.8 13M1567.3 703.3l19.6 28.4M789.4 813.6l-24.3 20.7M1486 724l15.4 36M1238.2 477.7l-7.2 9.7M672.4 272.2l-20.7 -2.6M886.8 1432l-18.4 44.8M1108.8 415.3l-28.5 7.7M1508.6 305.2l29.2 -8.2M890.1 1061.4l-16.6 26.8M663.7 752.4l-31.4 18.7M880 1477.4l-14 35M1282.2 315.9l-12.3 -10.7M1371.4 981.9l1.8 26M814.5 390.6l-28.1 1.9M1460.6 1246.3l4.2 27.9M1251.3 145.9l-7.7 -21.1M362.5 1100.7l-43.2 33.3M951.8 684.8l-38.1 33.3M1595.9 256.8l40.7 -15.1M1348.3 1472.7l0.4 22.2M1638.1 500.9l37.9 17.7M1003.7 1213.1l-17.5 46.4M722.2 527.1l-26.4 7.5M1283.8 519.7l-5.6 20.9M605.9 167.9l-30.1 -7.8M1360.9 286.4l13.5 -28.5M569.2 458.4l-34.2 4.6M1349 176.1l1.6 -13.8M1115.2 260.1l-19.9 -9M1271.5 1408.4l-2.4 45M1458.7 1362.1l4.6 35.5M1220.4 304.4l-17.3 -8.3M1472.5 1452.5l2.8 21.2M1370 289.6l17.3 -27.3M738.6 391.5l-33.3 2M1494.7 1107.3l7.8 35.2M409.9 1159.9l-34.4 30.2M1215.6 1262.9l-5.5 44.7M735.3 979.3l-34 35.8M1429.8 350.5l32.8 -1.8M1413.4 335.2l30.7 -7.5M704.2 807.9l-15.3 11M961 1403l-11.7 33.5M1655.3 707.3l37 39.7M905 355.8l-41.9 -0M1117.3 467.2l-29.6 15.6M1324.9 439.4l-1.2 32.2M1485.7 545l11.3 13.6M1090.1 160.1l-32.5 -26.8M1097.4 279.8l-41.8 -13.8M990.1 202.7l-28.6 -13M630.4 1179.5l-18.2 21.5M1243.2 460.2l-13.9 17.1M1384.9 477.6l14.5 31.1M1440.3 191.2l9.7 -14.3M1397.2 674.9l7.8 35.8M1396.5 630.5l6.6 26.6M779.5 304.9l-51.6 -4.8M1157.1 315.2l-14.2 -3.4M683.2 1425.3l-23.5 38.9M1626 1188.5l9.7 27.2M942.4 450.3l-42.8 10.4M1053.2 582.7l-20.3 16.8M589.5 1325.2l-12.5 16.4M509 229.2l-18.6 -2.9M717.6 211.3l-45.6 -10.8M1228.3 544.5l-18.7 35.3M529.2 1151.7l-39.9 39.8M1466 152.5l7.8 -11.5M403.8 1129l-42.9 35.9M652.6 457.7l-41.9 6.3M1446.7 328.3l12.3 -2.9M782.2 1138.1l-12 17.2M1430.6 225.3l19.2 -24.5M682.4 142.6l-34 -11.2M1229.3 426.7l-19.8 14.2M639.2 288l-56.4 -5.6M1557 375.8l19.2 1.7M284.6 553.4l-20.2 3.8M1150.8 866.9l-7.6 21.8M1515.6 326.3l33.7 -5.3M1381.8 99.3l9 -42.9M1360.8 188.5l7.7 -39.5M589.8 659.8l-19.4 8M583.8 298.1l-33.9 -2.6M733.9 643.8l-28.4 13.8M1172.6 1434.9l-7.6 52.5M1296.9 253.6l-8.4 -27.8M945.5 1024.7l-26.8 46.8M1103.3 865.2l-22.7 51.5M1271.4 200.1l-13.6 -37.5M1334.7 934.9l0.2 20.6M1277.1 456.9l-15.5 30.8M1334.7 276.7l1.8 -21.5M1565.1 173.9l36.3 -27.9M910.4 1343.3l-10.4 24.7M387.2 687.6l-46.8 16.5M1300.9 1069l-1.7 44.8M1015.2 816.1l-14.4 21.2M1426.6 287.6l8.7 -6.1M1493.1 353.1l19 -0.3M678.6 1121.1l-37.3 44M1422.6 1381.6l5 53.9M1210.1 192.8l-13.6 -18.8M1195.2 556.5l-16.6 25.1M1288.5 578l-3 17M667.8 452.3l-18.7 2.7M1302.3 129.6l-3.6 -32.1M878.4 1151l-26 45.9M591.3 1070.9l-24.7 24M1313.3 573.8l-1.8 26.2M744.5 1098.2l-20.8 26.4M1546.6 1172.2l7.8 29M1449.9 714.8l13.6 39.9M1467.7 927.5l8.5 34.7M1261.7 793.5l-3.5 23.2M1049.8 544.3l-26.6 18M1263.5 420.6l-9 9M1302.4 414.9l-6.2 14.3M1408.8 915.4l2.8 19.7M1157 276.2l-34.5 -16.1M1338.8 635.1l1.1 27.3M1346.9 618.5l2.2 31.3M783.7 1362.8l-14.1 26.1M1374.3 158.4l4.8 -20.6M1472 573l17.9 27M1352.6 494.4l3.6 20.1M1640 549.2l42.8 26.5M1192.3 236.1l-27.9 -24.6M638.9 758l-49.5 28.9M1183.4 884.3l-6 21.8M1261.6 357.8l-20.7 0.5M1421.7 639.4l10.9 33M1024.5 484.2l-43 18.1M1615.7 357.3l34.4 0.2M281.1 1105.5l-41.7 29.8M1464.8 282.2l16.8 -9.1M1557 736.7l15.3 25.5M1291 199.2l-5.5 -23.2M854 139.3l-31.1 -14.2M1532 175.1l21.2 -18.8M1313.2 767.9l-1.4 38.4M1390.7 1373.4l2.6 42.2M668.6 953.5l-39.4 35.7M920.2 281.8l-32 -5.8M1091.4 1291.7l-13 51.3M784.1 1187.6l-20.5 31.4M1011.9 711.2l-32.8 36.9M1232.9 137.1l-4.9 -11.4M510 1170.3l-25.1 24.9M676.3 525.9l-47.1 12.3M1295.7 294.5l-9.1 -17.3M1142.3 1155.9l-12.2 52.6M1654.5 379l39.2 2.8M1247 1109.1l-1.8 16.3M973.6 592l-17 11.3M1015.4 485.8l-18.3 7.6M1396.1 368.5l32.2 5.9M1213.4 364.5l-30.5 2.2M957 621.2l-41.8 29.9M1551.4 1445.9l4.1 19.8M1082.5 654.4l-13.6 16.5M1342.1 1399.7l0.8 56.6M1381.4 419.3l7.7 9.2M1319.1 467l-1.3 16.7M1399.8 577.8l11.8 36.4M609.9 1438.8l-26.8 40.4M1433.7 1427.6l2.7 27.6M632.5 1148.4l-30.3 34.6M1515.7 270.4l14.8 -6.8M1171.1 427.8l-17.3 7.9M807 805l-32.3 27.8M1669.6 1351.5l17.3 50.5M986.5 537.2l-39.4 20.9M732.5 648.8l-37.1 18.2M714.3 651.9l-24.8 12M883.5 105.1l-24.4 -13.8M781.6 1483l-20.1 41.5M590.7 545.9l-55.1 14.2M1016.8 1029.4l-11.5 24.9M1228.5 651.7l-14.6 43.3M1168.2 466.1l-18.7 12.8M658.1 292.6l-52.2 -4.9M511 1390.4l-21.2 26.8M1434.4 574.8l12.3 25.2M311.2 506.7l-31.9 4.7M419.8 413.5l-51.7 3.3M1281.4 572.4l-6.3 29.4M677.7 1010.9l-15.6 15.8M889.7 1354.7l-7 16M710 977.4l-29.3 29.4M873.6 197.2l-23.4 -8.2M742.3 1227.6l-30.8 45.9M407 1156.4l-20.6 17.9M1242.6 222.1l-14.2 -22.2M270.7 821l-39.9 17.5M299.6 1175.8l-27.4 21.8M1250.5 480.5l-19.1 30.7M1424 565l9.7 21.2M1240.9 697.8l-6.1 24M367.3 631.4l-29.6 8.5M1204.5 351l-11.1 -0.5M889.1 639.2l-40.6 26.2M1628.9 353.3l38.8 -0.4M818.7 754l-15.6 12.2M945.4 107.8l-16.8 -10.9M1181.7 365.8l-32.3 2.2M907.1 753.6l-27.2 25.7M1627.7 694.4l20.1 22.7M1230.4 278.9l-26 -20.6M529.4 533.4l-25.1 5.6M1358.5 687l2.8 30M1446.8 124.8l14.1 -27.5M1607.2 908.1l15.1 29.9M1055.3 1266.4l-7.7 25.6M1136.3 917.3l-12.5 36.5M348.6 823.6l-23.7 11.3M1534 264.2l28.3 -12.6M1487.4 1331.6l9.6 58.7M1072.4 422.4l-32.3 8.4M1249.9 556l-8 20.4M1146.1 707.1l-12.6 24.3M1272.6 483.6l-6.8 15.6M1408.6 257.6l7.9 -9.7M1214.6 469.3l-8.4 8.4M354.7 250.1l-36.5 -4M1480.9 441.7l34.9 19.5M345.9 414.2l-37.7 2.2M1509.6 135.1l23.4 -28.4M1513.1 781.8l18.8 43.1M272 345.4l-55.3 -0.6M1542.9 1038l12.3 38.9M1073.3 1284.4l-4.4 16.2M439.5 450l-40.9 4.3M312.6 753.4l-34.8 13.6M428.2 336.6l-23.2 -0.5M1035.3 651.3l-30.8 31.1M1051.2 269.5l-16.7 -5.2M1098 1361l-7.5 32.9M1012.6 1375.7l-9.2 29.6M948.2 1394.1l-13.6 37.3M1671.7 1407l6.4 19.6M409.5 1067.1l-13.8 10.7M1399.3 282.2l10 -10.4M1111.8 175.1l-31.9 -26.7M1164.1 1000.6l-5 19.5M729.3 506.4l-53.7 13.5M592.3 658.3l-31.9 13.1M1197.5 1025l-3.4 17.3M377.7 544.2l-56.2 11.1M981.1 572.7l-17 10.6M817.6 414.3l-38 4.3M1491.7 195.4l21 -20.6M271.2 631.5l-34.1 8.9M1155.2 1257.8l-9.5 49.7M1452 974.7l11.3 56.5M1210.5 332.8l-25.6 -5.1M1321.8 146.8l-0.4 -14.2M1413.2 441.5l16.3 16.3M1388.5 319.3l11.4 -6.9M1371.6 381.4l11.7 6.8M1363.8 283.2l5.6 -11.4M1193 789.5l-8.4 27.1M1499.5 937.5l8.1 27.3M333.6 533.4l-37 6.6M1227 542.3l-7.6 13.9M1262.4 1337.7l-1.4 21.7M1120.8 291.4l-29.6 -9.2M828.4 617.8l-26.2 13.8M1495.9 380.2l26.1 3.8M1576.5 1065.1l14.5 41.3M1621.6 597.7l39.1 32.2M477 1073.2l-45.7 38.5M969.7 1052.5l-18.7 36.4M595.8 1369.4l-10.3 14.2M646.2 113.5l-21.6 -7.7M1024.4 539.9l-14.6 8.9M1422.9 188.2l15.3 -27.1M1336.4 591.3l0.8 23.8M1201.4 529.6l-9.1 12.5M638.9 355l-38.3 -0.1M1645.8 1461.6l11.2 39M569.5 217.8l-53.1 -9.7M829.9 222.2l-24 -6.4M713.4 460.1l-22.8 3.9M1126 287.3l-11.7 -4M1366.6 117.8l3.1 -19.3M1538.6 246l13.3 -6.9M1294.2 1005.3l-2.8 53.6M1266.9 479.8l-7.1 14.4M1420.3 344.3l12.3 -1.6M921.3 786.9l-36.5 38.7M963.9 222l-20.5 -7.5M1472.1 880.1l14.5 52.8M1096.6 208.5l-19 -12.1M1348.7 748.1l2 38M1084.2 419.3l-16.2 4.2M825.4 1387.4l-19.4 39.9M361.4 320.8l-23.7 -0.9M1675.1 194l18.9 -8.8M1419.3 704.6l10.4 39.8M1521 224.9l29.2 -19.9M1387.2 1348.4l2.2 36.1M1086.1 857l-16.2 33.6M491.7 433.8l-28.6 2.7M589.1 329.3l-35.8 -1.3M412.3 449.6l-22.4 2.3M1228.6 1274.7l-4.4 40.6M868.9 1465.7l-10.7 25.9M448.8 452l-45.5 5M805.8 1108.3l-13.1 18.9M405.1 180.9l-41.9 -7.9M1580.9 1120.2l11.8 35.6M668.8 770.6l-14 8.8M502.1 205l-33.2 -6.1M984.9 1389.4l-18.5 55.6M1028.4 299.3l-40.1 -7.6M1436.1 671.8l5.2 15.2M1438.1 1310.9l3.4 29.3M633.3 1444.1l-16.7 26.2M1347.7 491.5l4.1 27.9M696.3 1395.7l-11.3 18.6M965 717l-33 32.8M1071.7 153.7l-15.3 -12.1M1092.9 828l-19.4 39M1428.4 363.9l20 1.6M657.6 613.5l-40.2 15.4M1213.2 567.8l-14.4 26.6M1292 270.1l-7.4 -17.6M1267.8 594.6l-3.2 12.6M769.8 748.4l-43.3 30.5M1148.5 220.2l-12 -9.1M816.5 281.5l-52.2 -7.6M1425.6 1153.8l3.1 25.3M901.1 1289.9l-19 41.5M1147.5 299.9l-30.4 -9.5M798.5 1273l-14.9 25.9M1280.5 170.9l-3.1 -12.3M1598.9 418.9l20.8 4.8M482.6 1310.7l-25.4 28.7M1236.8 240.3l-11.1 -14.1M1309.1 739.8l-2.4 49M1619.7 531.3l24.9 14.9M1214.7 411.2l-17.1 8.3M992.8 873.5l-18.3 28.2M833.4 1145.2l-24.5 39M1431.4 146.6l6.7 -13.6M337 286.2l-51.9 -3.7M973 233.5l-37.8 -13M1615.6 940.3l8.5 17.3M1025.4 1023.2l-13.1 29M1191.8 98.7l-15.6 -29.5M902.2 321.8l-42.4 -3.4M915.1 1078.7l-12.3 21.5M1401.9 415.6l11.9 9.6M999 1367.5l-16.8 51.7M1655.5 261.5l38.8 -11.2M1575 345.4l26.1 -1.1M783.2 1183.4l-14.4 21.9M1314.7 244l-3.1 -26.4M1356.7 516.2l2.9 16.3M585.3 1158.5l-38 41.1M1119.2 350.3l-33.2 -0.9M313.1 1152.7l-30 23.5M1635.1 142l29 -20.2M1536.8 273.2l31.3 -12.4M726.6 1085.2l-25.8 31.3M899.6 164.8l-45.7 -20.4M1622.1 648.5l31.7 31.5M863.8 314.1l-34.8 -3.1M1291.1 373.3l-26.7 12.5M1469.7 210.1l20.8 -21.4M962.7 1236.3l-13.8 33.3M573.7 703.5l-18.1 8.3M379.3 764.8l-31.9 13.7M1194.2 630l-6.3 12.9M674.2 267.4l-16.7 -2.3M1488.7 472.7l26.7 19.4M759.9 1467l-12.5 24.5M439 770.7l-35.8 16.7M1100 487.4l-31.7 18.3M662.4 606.2l-33.2 12.5M338.4 972.3l-23 14.3M970.5 258.1l-43.9 -12M798.3 209.9l-21 -5.8M1159.1 751.4l-19.3 45.1M1312.4 1224.7l-0.5 28.5M1279.4 173.6l-8.4 -31.6M750.3 1248l-31.2 48.2M1166.3 528.9l-28.7 30.7M290 1109.7l-40.1 29.1M655.9 1023.8l-16.6 16.5M1400.6 323.2l21.1 -9.5M399.8 867.2l-18.3 10.1M1479.4 313.1l19.5 -5.5M1085.4 541.9l-21.9 16.8M578.7 829.5l-25.7 16.2M1103.4 284.4l-11.5 -3.7M1119 169.3l-29.6 -26.5M1269 384.9l-16 7.8M1622.8 438.2l18.8 5.2M1254.3 1178.1l-4.6 51M1306.4 566.9l-2.6 25.4M356.9 819.7l-50.5 24.1M812.9 1367.5l-17 33.4M1488.4 1318.1l7.9 47.2M727.8 945.7l-30.8 30.3M476.2 694.2l-19.5 7.7M1255.4 675.2l-10.9 48M761.4 1241.8l-28.9 45.2M928.1 1121.2l-16.3 31.2M475.8 332.6l-20.3 -0.6M568.8 98.1l-31.9 -10.8M492.1 1135.8l-27.5 25.7M1550.7 670.6l28 39.5M951.4 1352.2l-15.2 40.2M794 1020.3l-26.1 32.5M686 635l-26.3 11.4M309.5 770.7l-35.9 14.6M1493.9 875.5l12.7 39.7M578.5 1248l-19.7 23.4M913.1 385.5l-29.2 2.1M1609.7 674.1l25.7 29M1679.5 753.3l17 19.2M598.4 1020.1l-17.5 15.9M1287.7 197.3l-9.1 -35.8M1133.7 566.1l-14.7 15.9M378.4 139.7l-46.8 -10.7M1330.4 505.1l0.3 19.1M790 686.3l-24.5 15M406.7 853.6l-37.3 20.1M546.8 827.5l-16.5 9.9M1436.9 1202.7l2.2 16.7M1609.9 888.8l12.5 23.6M1399.2 505.9l12.7 26.8M1183.9 609l-21.8 38.4M1537.2 914.3l10.9 29.2M469.9 896.1l-25.2 15.9M466.1 594.5l-21.6 6M1315.1 119.1l-1.6 -29.5M1377.2 1395.8l2.2 47.3M506.6 1296.5l-16.2 18.5M991.8 965.6l-8.1 14.7M1083.6 703.5l-10.8 15.3M1173 1112.8l-7.5 36.7M1323.4 564.4l-0.6 28M1182 600.2l-18.5 31M1096.8 312l-19.6 -3.7M838.1 1159.5l-18.9 31M592.1 1279.5l-12.4 15.6M580.2 399l-50.5 2.9M1602.3 1176.9l9.9 29.7M374.7 421l-37.2 2.5M473.5 874.9l-44.6 27.1M1530.9 410.2l40.3 10.8M1171.4 565.1l-10.5 14M941.4 411l-18.7 2.7M1549.6 445.6l35.9 14.5M1641.7 1052.4l16.9 37.5M935 400l-30 3.4M1076.4 743.2l-15.8 24.3M1276.8 614.4l-2.9 14.6M1340.2 606.3l1.8 37.6M1435.1 446.5l10.9 9.2M1664.9 212.7l28 -11.9M1379.3 129.7l9.4 -41.5M1539 718.7l21.5 36.9M1204.2 371.8l-18 2.3M1450.1 344.5l21.7 -2" stroke-width="4"/><path d="M1251.1 234.8l-11.3 -17.9M830.6 365.9l-31.8 0.6M1151.3 173.6l-14.2 -14.7M1132.9 317.7l-15.8 -3.1M400.7 478.9l-16.2 2.2M865.8 156.2l-31.8 -13.8M1509.4 708.4l13.6 26.4M1328.7 447.1l0.2 28.7M610.7 1193.4l-17.4 20.3M1677.2 1502.6l16.7 54.7M918.1 404.1l-35.9 4.2M955.1 838.4l-21 27.2M1366.6 1205.6l2.2 47.8M1390.6 875.2l6.7 55.9M1014.7 952.4l-22.3 42.5M1497.9 407.6l25.7 7.8M1541.8 227.4l17.8 -10.7M1585.4 739.7l27 40.3M1660 576.3l27.3 18.1M901.9 228.5l-28.3 -8.5M1336.1 852.7l0.7 40.7M309.1 513l-26.7 4.1M1262.1 375.9l-9.6 2.9M508.3 1192.7l-28.1 28.7M1375.3 1043.4l2.9 41.6M1458.3 548.4l14.5 21.4M1057.8 378.8l-16.1 1.4M807.6 228.9l-56.4 -13.8M1343.2 267l4.8 -28.1M609.3 1041.2l-20.6 19.6M1672.6 651.6l31.5 27M1572.3 502.5l35.3 21.2M1498.1 482.4l19.3 14.4M780 1421.3l-24.3 47.3M1668.7 1314.6l11.1 31.3M1437.1 1178.1l6.3 47.3M1300.8 796.5l-3.3 53.4M495.2 1117.4l-15.5 14.2M1369.9 639.5l5.1 34.2M915.4 768.3l-33.2 33.2M1027.8 1257.7l-18.3 55.1M1043.1 565l-34.4 25.3M1344.9 108.5l1 -15.1M781.3 987.2l-10.7 12.4M1409.8 224.4l8.4 -13.5M635.7 1231.6l-34.2 43.3M971.6 739.3l-24.2 26.1M997.3 446.7l-21.6 5.9M1160 119.6l-27 -37.9M1533 170.5l23.9 -21.6M1556.3 1014.9l18.9 54.5M1213.4 1047.4l-3.9 23.8M715.7 1390.6l-27.8 47M1568.8 1349.2l9.1 37.7M522.2 785.9l-46.4 24.8M1469.5 231.7l22.2 -19.5M1499.3 155l22.4 -26.3M1534.1 440.8l39.9 16.4M1501.4 950.7l13 44.6M885.4 321l-15.1 -1.2M825.3 908l-35.2 38.7M623.5 660.5l-17 7.3M1126 811.4l-18.6 42M1229.8 214.2l-12.4 -18M507.4 980.7l-43.9 33.4M1517.1 379.9l11 1.4M1144.8 694.8l-12.6 23.3M1430.4 549.4l13.9 26.2M1360.7 190.4l5.5 -27.9M1412.1 190.3l17.2 -33.9M447.3 458.3l-52.9 6.1M1250.9 338.8l-29.1 -6.5M1300.1 714.9l-3.5 44.5M418.4 319.8l-32.8 -1.3M1107.4 436.6l-31.3 11.4M1040.5 653.2l-23.3 24.1M1511.4 118.5l17 -22.1M1449.8 678.4l6.3 16.6M1305.6 486.5l-6 35M1361.6 301.5l11.5 -18.7M1359.8 1450l0.6 20.6M1285.7 1504.4l-2.2 58.4M914.5 411.4l-49 6.6M1460.9 522.8l14.2 17.8M574.8 527.4l-49.1 11.2M807.3 144.7l-39.7 -16.1M666.2 965.8l-22.2 20.5M1569.2 927.7l16.1 38.1M1475.9 915.1l8.2 31.1M1403.9 529.4l16.2 37M1076.9 195.3l-20.8 -13.3M635.5 1024.1l-18.6 17.9M1439.5 597.2l16.4 35.4M1470.9 525l25.5 30.1M443.6 475.2l-45.7 6.2M1036.3 334.4l-34.6 -2.6M676.7 1345.7l-15.6 23.7M515.6 644.2l-35 12.4M891.1 459.8l-23.2 5.5M1389.3 887.5l5.6 48.2M733.5 1174.3l-27.1 37.2M1186.5 1234.7l-4.3 26.9M691.4 737.7l-28.5 17.1M324.5 1164.6l-37.5 30.2M685.6 155.2l-16.8 -5.3M1138 1114.9l-13.6 54.2M1530.9 1153.8l13.4 52.8M698.8 1061l-16.1 18M1246.4 1418.1l-3.7 47.7M1146.4 626l-16.4 24.4M1148.6 580l-13.5 16.8M1084.8 1287l-5.4 20.5M1385.3 263.7l10.1 -16.3M1317.9 1401.6l-0.3 35.5M1269.7 1372.5l-2.1 37.2M1154.5 1168.8l-9.8 45.9M402.7 892.1l-29.5 17.1M1144 464.7l-22.9 13.6M882.8 835.7l-35.2 37.9M1160.2 1188.2l-4.3 21.1M562.8 568.2l-52.5 14.5M1182.6 277.3l-29.7 -16.1M365.1 325.8l-21.3 -0.7M1588.8 1246.5l12.5 42.6M1054.5 273.8l-21.6 -6.5M1267.5 1474.7l-1.3 23.3M1457 832.6l14.9 54.9M1141.8 421.7l-25.5 9M1562.8 1409.9l5 22.3M1580 125.3l13.8 -12.6M1433.6 793.9l7.9 32.8M844.8 1398.4l-19.4 41.8M1491.1 1074.3l6.8 30M1286.3 947.9l-3.9 56M1594.9 555.8l35.8 26.8M1418.4 905.9l9.2 56M1166.8 177.2l-19.5 -21.6M1471.4 451.5l15.8 10.5M1376.1 1230.4l2 36.6M1522.3 455.3l25.1 12.8M1085.9 1053.6l-6.1 17.6M1220.4 208l-16.3 -22.4M1108.8 278.4l-17.3 -6.1M587.5 827.1l-17.6 11.2M1089.7 757.1l-17.5 29.5M709.4 655.5l-49 23.7M421.3 329.6l-29.7 -0.9M803.6 818.2l-43.1 38M1057.7 1026.7l-8.3 20.6M1018.7 430.5l-28.5 6.9M329.4 982.3l-43.2 27.1M1469.2 156.7l12.1 -17.1M1587.3 657.1l27.1 31.4M1143.1 737l-18.5 38.1M1550.9 583.2l30.6 31.1M1186.8 390.6l-35 8.6M1074 932.9l-13 29.5M442.1 832.7l-43.5 23.4M1157.6 508.2l-27.9 24.9M1319.6 1457.3l-0.4 49.7M1325.8 290.9l-1.1 -31.4M1607.3 325.6l18.2 -2M1305.8 960.7l-0.9 25M1215.9 323.2l-33.2 -9.7M1275 250.5l-5.7 -11.3M1463.8 722.8l15.1 40.7M1063.9 503.4l-39.4 22M463.9 664.4l-18.9 6.7M1455.3 329.1l31.4 -6.6M1340.3 1433.4l0.4 38.9M958.8 670.1l-39.1 33.3M1205.2 114.3l-6.5 -12.9M1603.4 339.9l30.3 -1.8M320.4 660.1l-40.4 12.2M1253.6 468l-6 9M1289.6 950.2l-2.9 45.5M1227.9 353.4l-33.7 -0.9M1504.2 119.4l11.5 -15.4M1272.1 742l-4.6 31.4M1522 98.3l24.2 -32.2M1605.3 322.5l44.5 -5.4M920.9 318.6l-19 -1.7M1296.4 678.2l-3.8 39.2M895.8 475.9l-24 6.7M1200.6 1058.7l-5.9 32.4M326 1110.9l-40.5 30.5M1200.1 783l-13.5 45.1M1106.5 142.3l-28.1 -27.1M568.1 303.3l-23.1 -1.6M1415.6 530l7.2 14.3M502.4 646.3l-16.3 5.7M459.6 178.5l-21.2 -4.3M298 230.9l-55.8 -6.8M786.2 106.7l-41.3 -19M1326.2 1415.8l-0.1 57.8M1191 1205.4l-6.3 39.3M1645.3 484.7l18.5 7.5M991.3 621.3l-21.4 16.9M1384.5 407.8l16.1 14.7M654.4 668l-25.3 11.7M1107.8 583.7l-25.3 26.2M1454.5 382.2l28.4 5.9M1193.9 578.3l-16.1 26.7M1575.8 95l26.2 -27.6M1481.8 865.1l8.2 27.1M1225.9 666.5l-12.6 38.4M1327.1 967l-0 30.4M1326.5 1286.8l-0.1 34.2M873.6 608.5l-17.9 10M374 1139.2l-27.4 22.5M1121.3 867.3l-18.1 44.9M1249.3 169.4l-15.6 -36.9M1639.4 181.8l26.5 -14.8M1399.9 1498.6l3.3 52.4M832.7 370.1l-24.9 0.7M1029.3 753.7l-28.4 37.8M432.8 1081.7l-40.9 33.1M983.9 1085.9l-9.8 20.9M432.8 194l-26.3 -4.8M780.8 1015.1l-21.3 25.7M884.6 184.4l-46.3 -17.9M1264.7 327.3l-12.2 -5.5M835.8 699.1l-30 20.9M1593.5 536.7l33.4 22.7M1209.4 994.5l-7 37.5M1394.3 532.8l7.5 20M594.6 609.1l-25.9 8.9M1195.5 223.8l-29.1 -29M385.1 862.1l-18.4 9.9M1495.8 206.9l26 -23.1M1120.7 347.1l-32.2 -1.4M1118.3 638.2l-21.1 28.4M917 274l-51 -10.2M1472.4 248l10 -7.5M1371.5 660.4l2.4 17M1109.9 754.7l-23.7 43.3M1465.1 1463.2l3.8 30.7M924.2 681.9l-39.2 31.7M874.5 1134.4l-28.3 48.5M336.8 392.8l-42 1.6M705 1425.2l-21 36.1M1097.3 507.7l-17.3 11.4M715.7 768.8l-20.8 14M1599.4 403.6l35.9 6.3M621.1 668l-52.5 23.2M1186.1 143l-9 -13.5M1643.8 467.7l45 15.9M972.1 450.7l-39.4 10.5M1112.6 873.3l-14.2 34.2M1548.6 795.6l21.2 42.3M1433.8 477.8l25.8 29.7M1225.4 113.7l-4.8 -11.4M581.2 1019.1l-16 14.2M535.8 229.3l-53 -8.5M1383.3 186.9l12.1 -37.2M495.9 337.7l-31.9 -0.7M433.6 1266.4l-20.1 20.5M440.5 166.1l-31.3 -6.7M1678 556l47 26.8M1009.4 551.5l-12.1 7.4M1608.3 526.9l14.4 8.8M973.4 1315.1l-17.4 47M1459.7 1252.4l7.3 49.4M1476 465.8l29.7 22M1490.3 1219.9l6.6 34.9M942.4 1408.6l-10.1 27.5M1497.6 188.6l30.2 -29.8M1208.5 896.2l-8.3 37.4M1231.9 517.8l-19.4 32.7M285 269.4l-56.5 -4.7M1343 1106.3l0.5 26.2M1205.9 163.4l-15.9 -25.1M1435.6 147.2l9.6 -18.6M1156.3 264.6l-34.2 -18.2M1083.4 817l-19.8 37.3M1655.6 159.2l18.8 -11.3M668.5 955.7l-15.7 14.2M1042.2 1488.1l-14.1 55.9M1225.3 1405.9l-3.7 37.6M1001.4 1142.9l-11.3 27.3M1238.8 464l-17.6 21.3M1526.5 459.5l23.1 12M272.3 186.8l-29.3 -4.7M1021.7 710.3l-36.1 41.8M289.7 895.2l-51.1 26.5M973.5 586.8l-36.9 24M1301.3 630.9l-2.3 23.3M1459.6 291.6l13.2 -6.4M1502 428.9l10.7 4.5M300.5 596.2l-38.8 9.1M388 318.9l-24.1 -1M1514.9 710.1l19.3 36.5M1656.7 278.3l17.6 -4.2M1336.2 127.9l1.1 -30.1M1108.8 1367.3l-5.4 24.8M283.7 611.1l-33.1 8.1M1006.3 248.4l-33.5 -11.2M845.3 752.3l-23.7 19.5M442 301.8l-33.3 -2M1070.2 331.5l-39.4 -3.8M1252.9 276.4l-15.7 -16.6M561.7 483.4l-46.4 7.7M1466.9 426.4l11.7 6M693.2 279.6l-37.9 -4.6M891.7 294.1l-18 -2.6M840 162.5l-48.3 -19.1M469.1 1283.6l-27 29.1M1381.1 281l19.4 -27.5M1604.1 659.8l29.3 32.2M509.7 262.4l-55.8 -6.4M885.9 748.9l-35.5 31.5M1069.1 988.6l-9.8 23.8M534.2 198.5l-28.2 -5.6M953.7 483.5l-38.3 13M725.3 346.8l-59.4 -0.9M1214.5 977.3l-8.2 44.6M712.3 622.9l-40.4 17.5M1107.6 561l-31.8 29.6M714.6 1082.2l-17.5 20.7M1248 179.7l-13.7 -30.1M1390.1 1161.6l3.2 41.3M1216.3 892.7l-6.7 32M1081.9 113.5l-18.6 -18.3M1278.1 1123.2l-1.1 17.4M744.3 1113.8l-21.7 28.2M1365.1 1284.7l2.2 56M886.3 200.9l-49 -17.2M913.7 1500.5l-17.4 48.2M855.3 343l-24.8 -0.7M657.4 219.9l-35.3 -7.2M388.8 316.2l-37.8 -1.6M1146.8 104.2l-27.5 -38.2M1222.8 218.3l-19.7 -25.8M1330.5 414.6l1.3 31.6M1599.1 429.5l35.1 9.5M1288.1 393.6l-13 12.3M367.9 103.3l-21.6 -5.7M1624.3 517.7l40.6 22.1M1381.1 291.4l12.3 -15M1574.8 604.1l18.4 18.5M609.7 402.3l-19.7 1.3M1020.6 527.4l-42.1 23.5M1517.9 1345.7l11 57.5M485.3 285.4l-27.1 -2.3M1632.1 1273.1l17.4 52.5M738.9 218.9l-28 -6.5M1589.3 265l28.7 -10M1196.5 146.1l-18.9 -30.1M950.8 1212.1l-19.1 43.4M1043.2 230.3l-22.2 -9.8M1151.3 229.8l-13 -9.3M1133.4 1415.1l-3.4 18.6M1191.2 687.3l-16.5 39.9M1210.1 155.5l-6.1 -10.4M552.6 871.8l-40.8 27.1M1209 390.3l-20.2 5.8M584.6 1183.3l-11.9 13.3M780.4 261.4l-35.2 -6.1M1001 539.6l-21.9 12.3M1381.5 413.7l10.7 11.5M1477.7 727.8l7.6 18.8M859.2 250.7l-44.8 -10.1M1238.2 345l-24.2 -3M408.5 287.4l-53 -4M1309.7 1127.4l-0.6 26.2M1485.4 722.7l14.5 33.8M1142.9 1348.3l-8.1 43.6M1634 1231.7l16.8 48.1M867.8 113.9l-26.2 -13.8M1158.5 810.3l-11.2 30M1517.4 262l21 -10.4M1568.5 382.4l24.6 2.7M1330.3 249.6l0.6 -28.7M630.5 260.9l-56.9 -7.8M523.6 347.6l-26.9 -0.3M1660.6 1085.3l24 52.7M1439.6 1406l2 18.8M1280.7 1351.1l-2.3 48.6M642.2 1137.8l-22.2 25.3M627.5 1448.2l-29.6 46.1M607.6 668.2l-32.9 14.3M1425.8 859.6l5 26M623.4 445.8l-17.6 2.2M1320 499.9l-0.7 13M708.4 1064.6l-27.3 31.2M831.7 636.5l-28.9 16.3M1219.5 461.8l-17.8 17.4M1469.7 670.5l18.6 41.2M1054.3 1408.1l-5.9 22.8M730.8 150.9l-47.2 -16.2M1061.3 656.1l-32.8 36.9M1101.9 786.9l-7.5 14.3M1400.1 259.2l9.8 -13.2M1511 195.3l22.7 -20M750.1 792.8l-41.6 31.4M372.2 973.3l-14.5 9.4M905 905.1l-17.6 22.9M406.4 164.3l-46.2 -9.6M523.9 810.3l-36.5 20.6M931.8 1006.9l-17 28M860.4 1143.2l-17.9 30.1M1454.3 150l14.8 -24.1M737.7 1350.5l-10.5 17.6M797.3 1433.3l-23.3 47.3M1440.3 434.7l23.1 16.2M1027.6 1026.6l-7.7 17.1M1455.1 161.4l21 -32.1M1374.8 659.1l7 45.1M824.1 1308l-8.6 16.3M634.9 443.2l-46.6 5.9M1201 786.9l-14.9 50.5M1162.5 705.6l-8.4 17.8M1283.6 498.5l-7.6 24.3M1614.3 1260.2l16.9 53.4M1180.1 748.6l-10.6 28.1M1359.8 638.8l3 26.8M1404.3 471.3l15.5 23.4M903.4 200.3l-16.8 -6.2M1366.2 240.8l3.7 -11M1320.5 510.2l-0.8 17.1M1458.1 187.7l23.3 -30.2M1628.3 815.4l23.1 35.4M1361.7 400.1l12.2 15.9M1294.7 293.7l-12.7 -23.7M562.2 1429.8l-34.3 48.1M1265.3 382.9l-23 9.9M1364.7 530.9l7.4 35.2M389 807.6l-49 23.6M1321.1 771.2l-0.5 32.6M1574.9 644.6l25.4 29.7M1325.8 103.8l-0.2 -19.4M1140.7 665.8l-12.4 20.5M1551.9 145.6l31.8 -29.9M1017.5 458.8l-35.6 11.8M1458.2 839.6l5.1 19M685.4 698.4l-18.8 10M937.5 492.8l-42.1 14.7M731.6 1018.4l-25 27.8M1022.8 1466.5l-6.7 24.4M1464 381.6l27.7 5.2M1264.4 414.6l-22.3 20.5M625.4 741.9l-37.7 20.7M538 671.2l-42.7 17M787.9 1355.2l-18.9 34.9M547.5 581l-29.5 8.5M628.5 881.5l-42.4 31.8M1389.7 307.6l21.1 -16.5M1227.8 368.8l-35.5 4.5M459.1 724.9l-29 12.3M408.3 1025.7l-25.9 18.8M1310.3 444.4l-6.4 32M862.4 305l-31.5 -3.5M549.9 1377.4l-23.6 31M1390.1 499.6l15.3 35.3M853.1 231.9l-42.3 -11.1M760.6 1248.4l-11.5 18.1M1256.9 585l-5.2 16.8M826.6 1080.1l-22.1 31.9M1246.4 1124.5l-5.5 52.1M1550.8 490.8l25.9 15.6M639.6 436.1l-42.1 4.9M1263.5 347.5l-21.6 -2.9M830.2 469.1l-42 9.5M1444.8 682.2l14.8 41.3M1187.2 543.2l-19.6 26.1M1490.3 577.8l17.6 24.1M870.2 824.1l-41.7 42.6M486.7 686.5l-39.9 15.7M1339.5 419.2l4.1 22.2M1126.1 346.4l-17 -0.8M1578 950.1l7.1 17M1609.8 623.4l31.3 29.7M1342 504.2l1.5 15.5M790.9 145.4l-28.3 -11.1M1542 433.8l27.2 9.9M1406.8 1301.3l1.4 16.5M1031 1170l-8.3 22.8M1653.9 630.3l24 20.2M1338.5 684.9l0.8 25.6M419.2 975.7l-43.3 29.5M794.6 415.5l-29.6 3.3M1586.4 124.2l15.4 -13.8" stroke-width="5"/><path d="M1360.1 866.7l2.2 35.2M1443.6 467.3l27 26M760.9 546.7l-37.7 12.7M893.4 1057.1l-12.5 20.1M1227.4 816.7l-9 41.3M1531.6 1230.7l12 51.7M1407.1 516.1l11.7 23.6M913.3 523.4l-52.7 21.3M1350.2 603.4l2.5 27.4M865.5 410.4l-48.8 5.7M1308.2 296l-10.3 -31.1M1468.3 166.9l13.9 -18.7M414.9 435.5l-18.5 1.6M570.4 1097.9l-17.4 17M1326.9 578.2l-0.2 36.8M1383.5 311.2l21.5 -17.4M1429.6 360.7l35.8 1.7M653.5 980.4l-19.8 18.3M1259.6 217.7l-5.3 -10.7M1322.5 125l-0.8 -33.2M1649.4 1138.7l7.4 17.9M1529.5 613.2l9 11.5M276.9 760l-17.3 6.7M1008.7 351.5l-44.3 -0.6M1430.2 513.2l17 26.1M1141.5 422.9l-22.1 7.9M772.1 250.4l-30.9 -5.9M1166.7 1242.3l-10 55M1612.3 1009l21 48.3M544.1 1177.4l-13.4 14.1M1067.2 170.9l-23.6 -16.7M1509.2 345.9l26.3 -1.5M1394.1 686.2l3.8 18.8M757.7 736.6l-26.9 17.9M1105.6 1031.1l-9.8 29.7M599.1 1050.3l-25.2 24M1194.4 1377.5l-5.9 45.3M674.5 1369.6l-10 15.5M1479.8 535l16.3 19.3M1016.8 1365.7l-6 19.4M1454 175.7l20 -28.7M965.6 455.6l-17.8 4.9M700.3 810.9l-17 12.3M1342.8 649.7l2 40.6M1517.3 1331.4l9.9 50.9M619.5 708l-51.3 25.5M1472.8 1006.9l4.4 19.7M338.7 391l-33.5 1.2M1044.9 500.5l-12.6 6.4M848.6 481.3l-42.6 11.1M1401.9 392.7l19.3 9.6M592.3 946.6l-42 33.7M1243.9 787.1l-4.9 25.2M907.8 641.2l-26.5 18M710.9 430.5l-38.8 4.7M1657.9 555.8l14.6 8.8M1593.9 583.7l33.6 28.8M1247.3 1269.7l-4.2 47.7M448.5 968.6l-18.6 13M619.6 593.7l-23.3 7.8M1371 825l3.6 39.1M645.5 548.8l-33.8 9.5M739.1 1185.3l-22.3 31.4M462.7 819.5l-46.8 25.1M1026 1498.8l-5.7 21.4M1508.5 1035l5.8 21.8M1425.6 164.4l5.6 -10.9M529.2 606.5l-27.5 8.6M721.6 439.6l-20.1 2.8M1257.2 664.7l-8 34.7M1027.1 1256.7l-12.4 37.3M1009.9 182.8l-17.9 -9.7M1656.2 606.4l15.6 11.9M1510 1465.5l9.6 58.5M851.9 198.4l-52.4 -17.4M818.7 1295.2l-20.7 38.2M292 99.2l-25.8 -6.4M1357.7 440.5l7.3 20.7M1255.4 1290.9l-2 25.7M791.8 636.6l-34.3 17.9M1056.7 561.3l-22.2 16.8M1172.1 659.3l-6.9 13.3M1402.4 260.8l13.6 -17.4M1269 556.2l-10 33.9M1105.7 586.8l-31.9 33.1M1068.2 224.3l-26.6 -13.5M1526.7 1239.6l3.5 15.7M1419.5 289.1l17.9 -13.1M485.4 591.3l-47.9 13.4M329.8 848.6l-46.3 22.9M809.3 747.8l-24.4 18.4M1165 399.7l-38.4 10.3M753.2 1327l-27.8 47M431.8 468.4l-44 5.5M1451.7 1007.4l7.5 39.4M1094.5 1415l-6.1 27.9M1046.5 1286.6l-10 33.1M1149.9 251.9l-26.5 -15.5M1001.5 471.5l-21.5 7.6M1594 315.3l28.8 -4.4M1297.6 555.6l-3.8 24.7M367.1 410.3l-29.4 1.7M1195 203.7l-20.9 -24M906.1 1223.3l-9.1 18.8M312.2 94.7l-51.6 -13.3M1293.9 508l-2.6 11.7M1094.2 387.2l-38 5.1M1418.8 672.5l4.7 16.4M1365 119.5l3.3 -21.4M1458.6 758.1l13.1 40.3M1363.7 207l7.8 -32.6M1515.6 1059.6l8.9 33.5M1087 461.6l-15.4 6.8M814.6 327.7l-44 -2.4M1195.8 146.2l-8.1 -12.9M674.5 1055.2l-19.6 20.9M1265 443.5l-17.7 24.6M1228.4 883.7l-5 26.3M1284.1 288l-16.9 -26.1M752.4 1000.6l-12.9 14.4M1004.3 930.5l-20.1 35.6M1673.9 744.2l13.2 14.8M1279.9 285.8l-8.2 -11.9M495.9 993.5l-33.7 25.8M1351.4 268.4l6.7 -25.1M699.7 528.5l-22.2 6.1M1038.4 709.4l-15.4 18.8M1381.6 412.4l10.9 11.4M441.8 96.5l-51.8 -15.2M572.7 803.8l-50.3 29.8M978 181.6l-40.5 -20.2M1280.1 645.7l-2.6 15.5M804.9 325.6l-48.8 -2.8M1396.5 359.5l16.4 0.8M1516.9 559.9l11.4 12.3M957.7 1380.2l-7.7 21.4M1323 99.5l-0.6 -29.8M1343.3 299.4l8.6 -31.9M1545.1 1400.4l8.7 41.8M971.6 1418l-9.8 29.3M735.6 1435.9l-24.7 45.1M1340.5 1075l0.4 23.4M1424.3 914.3l8.2 47.3M1661.7 355.3l29.6 -0.1M707 252.6l-53.6 -8.9M1064.3 612l-19 18.5M1280.5 1361.7l-2.4 51.1M1294 132.6l-5.9 -39M1225.5 551l-14.8 28.2M652.4 831.5l-29.7 20.9M462.8 246.1l-39.2 -5M517.8 167.3l-31.1 -7.2M485.3 854.2l-25.2 14.9M662.4 831.8l-48.5 34.7M961.1 184.2l-20.5 -9.6M1050.1 760.5l-26.3 38.2M1426.7 183.4l15.2 -26.5M1158.3 1125.4l-3.5 15.7M1503.8 570.9l23.1 28.2M511.3 610.3l-39.4 12.3M1469.2 614.2l11 20.2M1005.9 688.5l-14.8 15.3M281.9 621.3l-50.6 12.8M1219.7 452.9l-25.7 23M1579.3 771.4l29.7 49M350.7 827.9l-47 22.7M1126.1 369.9l-13.3 0.9M1636.7 509.3l16.4 8.1M1565.7 708.6l20.7 30.7M1635.7 255.5l38.7 -12.7M849.1 666.2l-34.7 22.5M1036.3 631.5l-23.7 22.4M1062.4 160.5l-29.6 -21.8M1239.3 283.2l-21.7 -17.8M1159 982.5l-9.7 36M1676.6 503.3l14.5 6.1M1607.1 107.8l18.5 -16.5M1588.1 862.7l17.2 33.4M1188.1 489.3l-22.5 21.4M708.1 118l-25.3 -9.7M1290.6 713.7l-4.4 41.8M773.6 182.9l-24.2 -7.5M1081.5 251.2l-23.2 -9.9M1319.7 313.3l-3.2 -16.3M649.6 388.3l-56.3 2.7M1101.9 147.2l-13.9 -12.9M1428 272.6l15.1 -12.6M1303 1068.4l-1.5 42.5M482 656.2l-18.5 6.6M536.9 221.1l-28 -4.8M659.8 844.9l-20.3 14.8M1173.3 330.1l-25.2 -4.2M690 1062.3l-38.8 43M1037.6 743.6l-22.4 29.9M1544.4 376.3l17.9 1.7M1396.6 264.7l14 -18.6M574.2 1288.9l-36.4 45M679.4 324.7l-42.5 -2M1061.2 525.9l-16.4 10.4M1096 592.7l-14.8 15.1M1303.3 722l-1.2 17.6M1043.1 722.6l-12.3 15.9M1088.1 866.6l-14.8 31.5M1647.4 584.3l39.8 28.4M456.2 900.6l-36.1 22.5M477.8 346.6l-54.8 -0.6M1055 654.8l-13.3 14.5M1456.7 1250.3l4.4 30.6M628.3 1268.7l-17.8 23.2M831.9 1287.9l-22.1 41.4M989.9 233.9l-46.5 -16.8M545.4 401.2l-19.5 1.1M1610.1 671.8l23.9 26.8M1359.2 1049.9l1.6 34.5M1304.1 218.6l-2.7 -15.2M288 649.4l-37.3 10.5M373.5 1191.5l-20.3 17.8M1495.2 421.5l33.7 13.2M1462.6 415.8l28.5 12.7M1128.9 572.7l-22.9 24.9M1373.7 568.3l8.5 39.5M1220.9 528.4l-15.3 24.6M1428.3 424.6l11.4 7.8M340.8 754.1l-52.9 21.3M701.3 183.9l-56.3 -15.5M1419.6 1156.7l5 44M1163.2 258.3l-10.5 -6.2M797 419.6l-30.5 3.6M1369.4 447l14.2 31.2M673.3 1485.3l-25.1 43.3M1535.7 626.3l14 18.2M768.7 346.6l-55.8 -0.9M1560.8 963.4l18.9 49.3M1253.5 611.2l-5.1 17.3M1210.3 776.3l-13.7 48.8M1414 256.9l17 -19.5M786.4 1011l-21.5 26M801.7 1352l-26.5 50.1M1077 1381.2l-8.9 36.4M1616 268.2l27.3 -8.3M1425.4 251.5l22.8 -24.4M1284.7 828.8l-1.8 19.5M1364.9 253.6l8.3 -23.1M890.6 437.4l-29.1 5.4M926 359.1l-17.3 0.1M1559.9 1451.3l3.7 17.4M888.9 998.3l-15.1 22.1M1219.9 346l-23.3 -2.2M816.2 825.4l-30.1 27.6M1301.4 134.7l-2.2 -18.2M1071.4 526.2l-38.2 25.3M827.2 448l-20.6 3.8M858.1 996.2l-21.6 29.4M818.6 324.3l-34 -2.1M1167.3 402.3l-12.9 3.7M320.7 690.5l-28.5 9.5M1278.6 219.4l-6.2 -17.2M430.5 1182.2l-12.2 11.2M314.8 1010.2l-16 10.4M593.1 1410.1l-23.4 33.5M1634.6 835.9l24.7 38.6M846.2 1341.7l-19.7 40.4M1025.3 131.6l-22.8 -16.9M1501.2 1056.2l7.2 29.2M1611.3 1209.1l14 42M1339.1 797.3l1.4 54.1M356.2 381.3l-36.3 0.9M641.5 1465.9l-20 32.3M1468.7 431.4l13 7M1075.6 1138.5l-5.4 16.7M1266.1 1156.4l-3 38.2M1024 521.3l-19 10.3M1349.7 946.1l2.1 56.1M1213.2 176.1l-14.2 -22.2M831.2 260.5l-52 -10M1297.9 1184.3l-2 55.8M1665.2 792.2l20.8 26.9M829.3 564.6l-36.4 15.2M1225.3 167.3l-11.3 -20.7M620.3 493.4l-24.5 4.8M874 1186.9l-13.4 24.6M1068.7 1225.7l-13.6 45.6M364.1 1112.5l-41.3 32.4M572.8 1084.4l-33 31.8M857.2 729.1l-21.3 16.9M1625.4 1020.4l8.4 18.7M351.9 485.5l-50.7 6.7M1061.7 194.7l-12 -7.3M403.8 262l-57.1 -5.8M829.2 1013.4l-30.2 39.8M1154.4 434.1l-24.1 10.8M725.5 935.5l-35.6 34.3M1126.2 124l-23.7 -27.3M1111.4 751.9l-24 43.9M900 707.4l-38.2 31.4M1512.3 170.8l31.3 -31.5M566.2 867.1l-35.6 23.9M432.7 965.1l-23.8 16.2M976.8 357.6l-24 0.1M770.9 1410.6l-21.5 40.7M1603.1 984.5l20.4 46.7M991.8 170.6l-39.8 -22M1248.3 454.6l-14.6 18M990.5 105.5l-22.5 -16.7M1418.3 864.8l5.7 32.3M1597.7 477.5l25.2 11.3M361.4 962.2l-40.2 25.2M1230.3 836.4l-3.7 18M857 643.6l-34.2 20.9M347.9 250.1l-22 -2.4M562.5 237.7l-58.5 -9M1382.6 312.9l24.2 -19.1M819.5 1340.8l-20.4 39.6M1179.7 270.6l-34.7 -20M910.6 638.3l-44.4 30M983.5 756.6l-31.6 36.7M1658.1 1395.8l13.3 41.9M1568.7 356.4l34.9 0.1M462.6 679.8l-55.5 20.8M1546.8 649l29.4 39.3M1620.4 970l16.2 34.1M1245.4 410.3l-23.6 15.5M1073.5 518.8l-12.2 7.8M1213.8 454l-28.8 24.7M829.6 1481.3l-14.6 32.9M1199.6 215.5l-8.9 -9.7M1498.8 807.8l11.6 30.6M977.8 719.1l-16.4 17M1535.8 1220.3l10 41.4M580.8 1227.5l-35 40.8M1422.4 952.5l4.4 27.5M1651.3 411.8l48.3 8.3M1156.3 257.2l-18.1 -10.4M1457.9 630.1l16.8 35.4M834 440.5l-50.8 8.7M976.5 660.5l-41.8 36.2M1564.8 1479.7l10.5 49.9M1406 1202.8l2.3 24.7M1320.6 297.1l-3.4 -26.7M384.3 1196.7l-42.7 38M790 198.3l-37.2 -10.9M1123.4 733.3l-21.2 39.2M713 528.4l-46.1 12.9M1474.5 538.6l15.4 19.2M1487.1 1301.5l4 23.9M1512 393.2l39.8 8.1M1383.3 326.2l16.9 -9.1M338.7 922.4l-32.7 18.7M1216.3 591.1l-11.1 23.3M1022.5 1296.6l-16 49.3M1367.6 341.6l30 -10.9M1187.8 211.7l-23.2 -23.9M1056.6 1293.1l-16 55.2M646.6 459.9l-23.9 3.6M628.7 784l-44.9 27.5M437.3 1055.6l-34.4 27M1182.3 492.9l-19.6 18.4M777 1375l-20.9 38.6M1311.3 217.7l-3.4 -27.9M1376.3 497.7l3.9 11.4M1335.1 297.3l3.2 -26.3M1494.5 970.9l11.1 40.8M1296.1 659.5l-4.9 46.4M698.7 1245.3l-21 29.6M594.5 160.9l-39.1 -10.4M1072.4 1174l-14.8 47.4M1635 164.4l21.7 -13.5M1623.1 473.4l29.2 11.6M1166.9 667.7l-23 44.6M1093.6 1304.9l-7.2 29.1M1025.8 243.2l-34.1 -12.7M1059.8 755.1l-15.8 23.5M853.2 482l-55.2 14.6M908.6 424.2l-17 2.8M1321.9 296l-2.7 -26.4M738.8 396.7l-16.3 1.1M1260.8 498.2l-6.3 13.4M1444 467.8l27.4 26.4M575.7 958.9l-32.4 25.9M1181.9 652.1l-7.4 14.9M810.3 983.6l-33 40.1M1621.3 812.9l32.3 50.2M1507.2 123.6l27.4 -35.6M1187.3 327.6l-37 -7.5M948.1 722.5l-11.5 11.1M1650 194.8l31.8 -15.9M896.5 1442.9l-9 22.6M348.5 464.1l-17.2 1.9M1372 674.9l2 14.4M405.7 540.1l-30.6 6.1M550.6 568.2l-21.5 5.9M1445.6 176.5l14.5 -22.1M1433.4 616.7l12.3 30.4M705.6 961.7l-39.6 38.6M1310.2 727.6l-1.3 26.9M1110.1 897.3l-13.4 33.4M986.9 378.1l-27 1.8M1321.5 174.8l-0.7 -20.1M959.1 539.4l-30.3 15.1M805.7 510.7l-19.3 5.7M1415.5 378.3l22 5.6M869.7 1084.2l-28.9 45.9M1178.9 403.1l-18.3 5.8M1601.2 389.8l16.8 2.1M1147.3 1301.6l-10.1 52.9M1493.4 580.5l19.6 26.7M734.6 712.8l-46.8 28.2M1535.6 908.2l13.3 35.4M364.5 123.6l-51.2 -12.3M1411.7 190.2l10.3 -20.4M1027.5 1335.3l-14.8 48.2M1182.2 1213.2l-3.3 19.6M469.2 1305.9l-27.8 30.7M1511.4 146.4l15.7 -17.9M1380.7 1250l3.3 56.5M1431.2 119.8l8.5 -19.4M324.5 695.7l-32.9 11.1M321.3 546.5l-41.6 7.9M759.3 388.5l-16.6 1M654.9 1341.5l-29.4 43.1M650.3 167.2l-55 -15.3M560.2 731.8l-24.5 12M1121.5 938.5l-18.2 51.3M936.6 500l-26.6 9.8M1389.3 277.3l15.4 -19.8M1433.3 1162.9l4.2 31.9M518.9 1250.6l-31.7 35M598 998.6l-43.2 38.1M1472.2 684l14.5 33.1M894.8 1033.3l-12.8 20.1M709.2 1034.4l-36.3 39.7M1290.2 128.4l-4 -23.8M709.3 781.3l-17.9 12.3M1027.7 1491.8l-12.8 48.5M1127.2 370.4l-28.3 2M398.1 1230.9l-14 13.1M1198.9 334.3l-14.3 -2.4M1168.8 990.7l-9 36.1M1445.4 686.2l11.3 31.9M667.8 743l-50.9 29.8M1459.4 443.3l22.9 15.2M1455.5 315.6l17.1 -5.4M1166.4 419.4l-10.6 4.2M486.1 1063.5l-16.3 13.7M1457.1 373.8l21.1 2.9M858.9 751.2l-34.4 28.9M1234.8 718.4l-3.8 14.8M1128.1 575.1l-17.8 19.5M1098.7 1301.2l-9.8 40.3M1370.7 1078.5l1.1 18.8M1169.8 901l-10.4 35.7M1034.2 516.6l-29.7 16.3M1006.5 469.2l-27.7 9.7M1176.1 1405.2l-5.6 38.5M547.7 515.9l-58 11.9M905.8 920.9l-22 29.4M1401.3 432.3l8.1 8.5M1433.1 225.3l19.5 -24.3M1042.8 306l-34.6 -6.1M1248.2 362.7l-33.9 2.8M1161.3 228.1l-19.2 -14.7M344.4 776.1l-49.5 21.2M785.7 641.8l-46.2 24.3M736.2 131.9l-27.5 -10.4M972.7 907.3l-13.7 21.2M818.2 539.2l-20.2 7.3M744.9 1054.8l-20.4 24.5M505.9 491.4l-48.6 8M1089.2 443.3l-30 11M715.3 533.1l-22 6.4M1212.7 642l-16.6 41.3" stroke-width="6"/></g>
<g fill="none" stroke="url(#gp)" stroke-linecap="round"><path d="M1461.7 963.6l4.4 19.8M636.3 916.2l-14.5 11.8M1041.1 1344l-9.5 32.6M599.2 672.7l-9.5 4.1M1576.8 350.9l11.5 -0.2M1454.3 388.9l17.5 4.6M1660.5 223.8l18.3 -7.3M497.3 234.1l-32.6 -4.8M1439.1 1100.3l2.5 16.5M1430.8 258.3l8.1 -7.7M1479.3 1003.9l5.2 22.3M965 937.8l-8.8 14.1M1292.1 407.2l-8.7 12.4M1248.1 138.7l-8.2 -22.2M626.4 1329.8l-14.7 20.5M1644.3 1442.7l6.6 22.6M362 118.8l-22.9 -5.6M460 1107.9l-16.2 14M270.7 518.3l-26 4M422.7 1228.5l-19.6 18.9M1359.9 167.2l3.4 -20.4M578.5 1305.6l-9.1 11.5M590.9 1233.7l-8.3 9.9M556.3 201l-19.1 -3.8M1171.4 1142l-3.8 19M1389.3 246.6l7.7 -13.7M1648.8 327.1l20.7 -1.9M1460.7 1480.8l1.8 15M613 581.1l-11.1 3.5M485.6 926.7l-25.5 17.3M1027.7 700.5l-16.5 19M1596.6 1505.7l5.7 24.4M1197.6 694.7l-3.7 9.7M813.5 1328.6l-6.7 12.7M1664.1 107.1l7.8 -5.8M1559.4 412.1l11.3 2.7M1186.5 551.9l-14 19.4M1317 513.3l-0.9 12.4M479.1 378l-23.3 0.6M1103.6 834.2l-10.2 21.8M605 311.1l-29.3 -1.8M1142.5 98.4l-4.9 -6.8M1603.7 1213.4l4.5 13.9M1181.6 1351.7l-4.2 28.7M918.7 712.3l-16.8 14.6M1507.5 313.2l19.7 -4.7M1151.9 315.4l-20.6 -4.8M1373.6 1020.2l2.3 33.7M1512.6 736.2l4.1 8.4M1113.7 573.6l-13.6 13.9M1563.4 111.6l12.5 -12.9M1146.9 1388.2l-3.3 18.7M1265.1 482.9l-8.3 16.7M1144.8 1323.2l-5.5 29M1197.9 1220.5l-2.7 18.1M459.9 1109.2l-19.1 16.5M1267.7 531.6l-6.4 18.6M1345.7 449.2l2.1 10.9M1521.2 96.7l15.1 -20.3M1165.4 1011.6l-4.2 16.8M1353.3 251.8l3.9 -15.9M1191.9 629.9l-3.9 7.8M1646.3 862.8l10.2 16.3M1639.5 676l13.3 13.7M1525.6 1307.4l3.4 16.4M580.7 1119.8l-18.6 19M415 536.5l-24.3 4.8M547.1 505.9l-21.9 4.2M620.9 767.3l-24.6 14.3M500.6 156.9l-20.4 -4.9M993 222.7l-16.1 -6.4M1484.3 392.5l20.6 4.8M1260.7 784.4l-4.4 27.7M935 1236.1l-12 27M734.6 1129l-13 17M1279.9 173.8l-4.8 -18.1M1180 391.6l-19.5 4.7M529.1 522l-21.9 4.5M1245.4 558.4l-2.7 6.7M1065.2 704.5l-12.1 16.1M1472.7 1205.3l4 23.7M1479.9 480.8l10.4 8.6M287.5 378.7l-30.2 0.7M1223.7 258.2l-10 -9.4M1176 192.9l-13.6 -14.6M803.6 728.7l-9.3 6.6M1043.4 449.1l-20.8 6.8M597.3 1090.2l-19.2 19.3M292.7 441.4l-13.2 1.1M733.6 1273.7l-14 21.7M1165.3 434.6l-10.4 5M973.8 279.2l-20.9 -4.5M1444.7 1413.4l1.8 16.2M611.4 627.6l-12.3 4.7M326.9 825.9l-30.2 14.2M1496.5 352.8l18 -0.3M1289.2 795l-2.1 23.8M1621.5 1177.3l4.8 13.5M814.8 760.1l-24.3 19.1M482.7 1092.3l-25.6 22.3M914.5 107.2l-19.1 -11.5M1311.4 516.2l-1.8 17.2M1111.9 596.4l-6.8 7.6M547.3 513l-12.4 2.5M1643.2 731.2l13.8 16.4M268 1118.4l-25.2 18.1M1367.5 582.8l3.4 19.3M1369.6 304.6l8.4 -10.4M296.2 1105.9l-19.1 13.9M1256.9 1030.6l-1.9 17.9M1400.9 894.9l4.4 32.6M754.7 1144l-17.9 24.6M1098.4 815.9l-11.9 23.8M784.9 503.6l-29.6 8M1257.2 330.5l-15.4 -5.5M1660.4 700.8l18.3 19M1288.5 257.2l-6.1 -15.2M1271.6 790.4l-4 30.9M630 260.1l-27.9 -3.8M849 312.9l-29.8 -2.7M552.9 298l-21.6 -1.6M1572.5 478.4l19.9 10M334.1 643l-31.1 9M1167.3 227.6l-6.9 -5.5M1281.5 349.7l-11.3 -1.5M649.6 131.8l-27.2 -9M1447.3 163.3l11.5 -18.6M986.4 696.2l-9.7 9.6M1650.2 337.4l19 -1.1M1021.5 585.3l-23.3 17.4M1011 445.1l-23.4 6.6M479.8 1295.6l-14.8 16.4M1261.9 94.9l-4.3 -17M1654.1 674.7l20.2 19.7M1122.3 409.9l-7.4 1.9M637.2 799.6l-26.6 17.1M1312.7 1132.4l-0.6 31.5M294.9 94.4l-17.9 -4.5M1393.3 480.8l6.5 12.5M740.8 1270.2l-17.4 27.1M1309.6 1169.5l-0.2 10.1M503.6 398.7l-26.2 1.4M930 1313.7l-7.7 18.6M1180.5 1205.1l-5.3 30.3M1205 196.6l-8.1 -10.4M1430.4 558l7.5 14.8M1228.2 225.2l-13.7 -17.9M944.2 560.6l-12.2 6.5M1063.3 254.6l-20 -7.7M1095.7 830.3l-7.9 16.2M1260.7 376.4l-12.1 3.7M884.1 1137.8l-12.2 21.5M1003.2 127.8l-16.2 -11.4M1504.3 324.7l10.5 -1.9M1406.6 284l13.8 -12.7M659.9 574.5l-19.1 6.3M736.3 1163.2l-12.8 17.4M1099.8 398.9l-21 4M1574.7 566.8l18.5 15.9M919.8 588.5l-12.1 6.9M1069.6 128.3l-20.7 -18.3M1378.6 977.9l1.8 22.6M1467.7 642.4l8.9 18.3M1151.6 293.3l-12 -4.3M423.8 1180.5l-16.4 15M965.3 495.1l-23.8 9.1M1185 1275.9l-2.8 18M1492.8 923l8.1 27.8M1357.3 1273.4l0.5 15.8M1502.1 1208.1l3.7 18.2M1664.5 165.1l14.5 -8.2M713.2 484.5l-13.4 2.8M1180 586.9l-12.5 19.5M1579.7 386.2l13.2 1.6M1072.7 791.9l-16.3 27.8M1262.7 625.8l-3.6 15.1M507.3 332.5l-23 -0.7M1394.7 914.4l2.9 24.5M671.5 251l-12.7 -2M1588.4 291.8l22.6 -5.6M594.3 369.7l-10.8 0.2M719.3 1084.2l-9.3 11.1M717.9 389l-25.4 1.4M1162.6 1031.4l-6.3 25.6M1097 677.4l-13 18M869.1 135.6l-10.1 -4.9M343.7 915.1l-19.1 10.9M949.7 814.3l-8.6 10.4M761.3 1356.3l-9.4 16.7M1071 286.1l-16.7 -4.5M1209.2 359.5l-13 0.4M585.5 726.9l-11.4 5.7M1601.6 670.9l19.7 22.7M682.8 125.1l-16 -5.7M1039.3 707l-15 18.2M828.2 107.5l-21.6 -10.7M361.4 869.8l-27.8 14.8M1509.6 1139.9l7.3 31.6M1422.5 1066.8l4 30.4M1638 145.6l9 -6.1M307.4 1110.5l-19 14.1M1219.3 376.5l-14.1 2.7M291.5 656l-9.6 2.8M1188.3 371.7l-11.8 1.3M1626.8 421.4l13.9 3M1208.7 530.7l-11.9 17.5M1052.9 952.8l-11.8 25.5M1253.5 301l-6.7 -4.9M799.3 1243.8l-16.8 28.3M489.4 1141l-21 19.6M1612.8 449.4l17.4 5.7M1325.9 244.2l-0.1 -6.9M1044 759.3l-16.3 23.1M559.7 323.7l-31.6 -1.3M1538.8 1367.4l5.3 25.2M1467.3 192.5l15.2 -17.8M811.9 333.2l-28.9 -1.3M558.5 1115.9l-11 10.8M1489.5 430l9.2 4.2M639.4 1360.1l-6.6 9.7M675.3 1477l-14.9 25.5M1281.3 284.5l-4.4 -6.7M769.9 189.2l-10.3 -3.1M1490.4 377.6l13.5 1.8M990.9 727.6l-22 24.2M1179.8 1397.4l-4 28.1M729 456l-26.4 4.4M974.4 936.4l-14.9 24.4M1111.2 274.1l-16.7 -6.3M956.5 162.1l-21.7 -11.3M942.8 126.6l-20.6 -12.3M869.7 630.9l-21.9 13.1M513.2 658.1l-26.3 9.7M1276.1 418.9l-12.4 15M1343.1 1023.5l0.6 28.5M1402.5 1352.7l2.4 32M721 232.1l-23.5 -4.8M899.6 389.5l-21.1 1.6M704.6 1483.9l-15.7 28.4M937.6 520.4l-14.5 6.1M763.3 221.2l-24.5 -5.8M1121 280.6l-19.8 -7.2M890.6 291.5l-22.4 -3.3M1204 192.8l-7 -9.2M1138.3 409.1l-8.4 2.4M907.7 1198.3l-8.3 16.5M1438.5 471.7l6.7 7.1M1285 367.3l-10.6 2.8M1199.4 769.1l-7.9 25.4M396 1104.3l-15 12M895.6 414.3l-12.8 1.7M1423.2 333.9l10.4 -2.4M587.7 228.4l-29.2 -5M1224.2 263.5l-8.2 -7.3M1663.1 539.6l15 8.2M875.8 328.1l-11.1 -0.7M1371 380.3l5.3 3M1566.8 126.1l10.8 -10.4M1380.1 400.5l13.1 11.2M879.9 246.8l-10.4 -2.5M1568.8 206.8l17.2 -10.7M1409.2 725.3l5.8 26.2M535.2 389.1l-10.1 0.4M1401 303.2l13.7 -9.9M1015.3 251.5l-11 -3.7M1321.3 604.3l-0.4 16.5M779.6 782.9l-17.4 13.5M1377.1 366.1l17.9 3.7M715.6 247.7l-13.9 -2.5M1086.1 1083.3l-9.7 29.2M1667.5 1450.7l6.5 20.8M357.5 212.5l-15.8 -2.3M569.1 1284.9l-9.4 11.5M994.2 829.8l-9.2 13M1297.8 691.1l-1.4 15.7M1024.8 1236.3l-5.1 14.8M1317.9 622.2l-0.6 16M1263.3 730.4l-2.8 16M829.8 624.1l-11.1 6M980 594.4l-16.4 11.2M1242.2 1472.5l-1 12.4M1271 740.4l-1.7 11.5M1391.9 369l18.8 3.8M307 1047l-10.3 7M1264.3 97.5l-3.6 -14.7M1077 1112.3l-9.8 29.4M1500.4 712.5l5 10.3M383.1 656.2l-17.5 5.6M1417.7 309.3l11.5 -6M818.5 602.7l-20.9 10.1M744.5 641.3l-29.1 14.2M1256.3 517l-7.6 17.2M1397.9 369.1l14.6 2.7M1416.5 235.9l5.9 -8M721.9 620.2l-13.1 5.7M1563.6 322l10.4 -1.5M1100.9 987.6l-11.2 31.1M1041 1496.2l-6.7 26.8M537.5 581.3l-15.2 4.3M1532.5 1119.4l5.5 20.5M1184.7 484.8l-14.6 13.1M869.9 399.8l-17.2 1.6M745.4 1069.7l-7.9 9.7M952.3 406.3l-15.2 2M830.2 1202.9l-13.8 23.5M1507.8 1454.8l2.5 15.4M1189.6 367.2l-17.8 1.4M1251 452.2l-5.8 7.2M1361.5 496.4l2.2 9.2M1330.3 185.4l0.2 -13.2M1625 295.1l17.5 -3.6M1571.9 765.5l12.1 20.3M1213.5 278.5l-11 -7.4M1119 1206.4l-7 28.7M1358.2 478.9l4.7 19.2M1226.2 348.7l-10.6 -0.8M1176.7 788.6l-5.6 16M836.8 580.1l-21.2 9.7M1622.5 1184.9l9.3 26.2M661.7 687.9l-27.4 13.7M325.3 231.5l-14.4 -1.8M1638.9 344.3l26.2 -1M369.7 244.8l-23.8 -2.8M713.7 950.9l-18.9 18.3M790.1 786.6l-23.6 18.9M1212.5 985l-6.1 33M748.4 952.5l-22.1 22.7M1229.1 686.8l-3.8 12.8M1301.8 133.4l-1.5 -12.4M345.6 579.6l-28.9 6.6M1679.9 1153l7.3 16.5M1164.8 863.1l-6 18.6M1478 688.1l5.5 12.3M1408 349l17.9 -1.6M1338.9 888.7l0.6 27.8M842.4 963.3l-17.2 21.6M550.9 1394.1l-17.8 23.7M1246.4 332.8l-6.7 -1.9M713.2 187.2l-12.3 -3.4M348.4 1224.4l-24.9 22.1M1577.7 1064.5l4.8 13.6M624.5 719.1l-12.8 6.6M401.1 1223.1l-20.9 19.6M1167.7 582.5l-4.6 6.5M1543.6 403.2l7.1 1.6M297.5 555.3l-27.1 5.2M1548.9 1114.9l5.1 17.4M1484.2 622.2l12.9 22M1042.7 698.1l-16.2 19.5M1125.8 974.4l-7.1 21.6M745.2 644.8l-17.4 8.6M322.6 1203.2l-24.3 20.5M1336.1 619.1l0.3 8.9M747.8 520.3l-12.4 3.5M1227.3 455.4l-5 5M853.9 333.6l-12.8 -0.6M1485.4 157.1l4.9 -6.2M981 222.3l-13.1 -5.1M877.6 672.7l-14.5 10.2M284.8 205.3l-33.4 -4.8M1555.8 311.3l18 -3.5M1154.6 540.9l-14.4 15.3M1531.1 228l19.4 -12.2M1394 769.9l3.9 24.6M593.9 682.7l-24.2 10.8M722.5 1377.9l-5.7 9.6M1301.7 100.8l-1.2 -12M380.1 1268.8l-21.8 21M852.5 609.1l-26.8 14.3M790.5 616.5l-29.5 14.3M1207.6 264.5l-9.6 -7.3M418.4 1304l-20.7 21.6M1412.4 217l5.2 -8.5M1235.9 413.4l-10.6 6.6M638.8 592.4l-25.6 8.8M1125.3 664.7l-12.3 18.8M359.1 812.6l-14 6.6M796.4 1352.6l-14.6 27.3M1268.7 475.1l-4.8 9.7M316.9 547.1l-18.9 3.6M585.8 108.7l-25 -8.3M1547.9 777.2l7.5 14.3M1472.2 866l6.8 23.9M1203.7 866.4l-5.5 22.7M1373 898.8l1.6 18.9M525.5 666.1l-10.2 3.9M1142.9 662.4l-15 24.9M1325.1 272.4l-0.4 -11.6M631.2 558.7l-25.9 7.5M1378.8 294.8l7.3 -8.8M1417.2 1073.2l3 24.5M541.9 601.3l-25.3 7.9M1433 1188.6l2 15.8M751.4 764.9l-19.4 13.7M1168 113.4l-12.6 -19.1M972.5 923.4l-15 23.9M882.8 285.2l-15.1 -2.4M1189.6 1504.8l-2.8 22.9M1235.3 258.1l-8.8 -9.3M1345.2 911.2l0.3 11.1M867.5 452.1l-9.7 2M1224.1 803.1l-3 12.7M1185.2 783.5l-7.5 22.4M972.5 1204.6l-8.1 19.3M1076.4 1123.7l-3.5 10.5M549.2 692.8l-11.6 5M411 887.2l-27.6 16M1202.3 624.1l-11.3 24.1M1605.5 1495l3.5 14.3M1518.9 227l8.9 -6M404.4 293.1l-17.1 -1.2M1205.8 671.4l-8.6 22.1M1465.6 980.5l7 31.8M1037 471.7l-14.2 5.7M1592.9 304.7l19.2 -3.7M606.7 1363l-7.6 10.7M1019 718.7l-6.8 8M1084.2 300.6l-20.6 -4.7M796.3 145l-24.8 -9.8M802.2 249l-21 -4.3M754.4 1369.3l-7.6 13.5M963.1 1219.9l-7.7 18.2M1033.8 919l-11.6 22.2M701.2 1118.8l-14.3 17.4M1279.4 438.8l-4.1 7.1M356.2 477l-19.4 2.4M1336.2 1047.1l0.2 16.8M1427.9 487l13.4 17.5M466.9 212.7l-17.1 -2.8M1579.5 1109.9l6.8 20.4M1294.7 687.9l-1.3 12.8M661.7 324.7l-18.8 -0.9M1405.3 424.2l5.8 5.1M1236.3 251.2l-12.4 -14.1M281.2 347.7l-23.8 -0.2M1549.4 450.7l20.9 8.9M697 183.1l-22.2 -6.1M1596.1 1184.4l4.4 13.7M1319.4 957.3l-0.5 32.5M571.3 1281.3l-13.9 17M565.9 1039.2l-19.1 17.1M1364.8 627.1l2.1 15.3M1257.1 285.8l-7.1 -7.1M491.2 926.7l-17 11.6M892.4 279.9l-20.3 -3.5M1628.5 667.6l20.9 21.7M1277.9 148.1l-5.1 -21.2M1195.1 1309.8l-3.7 26.8M1322.1 228.2l-0.8 -16.4M1291.3 375.2l-5 2.6M483.8 1024.2l-11.2 8.8M1161 198l-12.8 -12.1M1256 216.3l-7.7 -14.8M934.4 233.7l-13.5 -4.2M833.2 1212.5l-16.8 29.1M1401.9 359.1l10.7 0.4M1656.9 833.5l18.3 26.6M1086.3 859.1l-7.8 16.2M1673.6 435.6l20 4.6M1391.2 353.6l12.6 -0.5M1123.6 1111.4l-4.8 17.8M1541.6 1211.9l6.6 26.6M1209 963.9l-4.7 24.1M588.6 371.6l-30.4 0.6M1611.9 992.9l4.1 9.2M1281.3 805.7l-2.4 23.4M291.2 389.5l-10.7 0.3M1586.3 392.9l12.9 1.8M1633.8 248.1l25.2 -8.9M292.8 227l-28.7 -3.6M605.1 657l-11.7 4.9M1218 684.2l-6.3 18.8M1382.1 379l10.2 4.3M1007.2 113.4l-19.2 -14.5M567.9 1307.3l-12.4 15.5M674.5 909.9l-20.4 17.3M1579.7 707.1l11.7 16.3M1494.2 171.1l16.5 -18.3M1428.5 209.4l12.3 -17.9M1309.3 291.9l-5 -17.1M1479.4 778.7l6 16.8M1010.3 466l-15.2 5.2M1664.3 1252.2l10.6 28.3M1382.6 1323.3l0.8 15M1223.2 612.4l-7.5 18.3M1615.2 386.1l13.6 1.4M947.8 1271.7l-4.9 11.7M1251 1060.6l-2.7 25.1M1579.1 197.4l9.2 -5.8M798.5 715.8l-26.8 18.2M1412.6 290.9l13.3 -10.3M274.3 294l-12 -0.7M890.9 719.4l-23.2 19.3M1122.8 574.7l-12.1 12.9M825.3 903.5l-17.3 18.9M1289.8 125.4l-1.3 -8M1257.1 467.4l-10.4 16.3M1168 125.8l-8.6 -12.4M1160.6 602.4l-9.6 14.2M1625.3 493.8l24.6 11.4M995.8 612.2l-15.5 12M960.3 520.6l-21.8 9.8M1106.4 139.6l-18 -17.5M1424 291.3l9 -6.1M1010.6 197.4l-18 -9M1309.5 767.8l-0.5 11M967.6 769.6l-10.3 11.9M1019.9 1048.4l-8.8 19.8M807.1 876.7l-14.8 14.8M745.9 226.4l-19.3 -4.3M418.3 478l-16.7 2.2M1312.5 689.1l-0.5 11.6M1089.5 378.9l-19.5 1.9M1249.1 326.9l-10.2 -3.8M1651.4 1235.9l5.5 15.1M1039.8 596.3l-19.6 16.3M282.7 605.9l-29.8 7.1M1023 496.8l-23.6 10.9M1026.6 364.8l-10.8 0.3M1257.8 672.1l-2.5 11.3M846.7 768.9l-10 8.6M291.3 1163.8l-26 20.3M1241 1159l-1.7 15.8M1305.7 188.4l-1.1 -8.3M651.4 466.2l-27.4 4.5M816.5 1245.7l-6.1 10.6M1606.2 411.6l12.5 2.5M1111.6 713.6l-13.3 21.9M632.1 990.8l-20.4 18.6M1489.4 778.8l4.5 11.7M592.4 586.3l-20.2 6.3M1564.4 772.5l15.9 28.1M624 110.1l-27.7 -9.7M1558.6 731.1l9.1 14.9M1160.9 703.7l-11.7 24.3M521.1 325.4l-10.6 -0.4M1008.4 1213l-10.3 27.5M1242.1 361.1l-8.6 0.5M416.7 885.3l-26.8 15.5M469.8 418l-16.2 1.2M1479.4 455.5l16.4 10.8M636.8 858.7l-11.3 8.2M1016.6 607.4l-22.1 17.8M395.4 290.7l-23.5 -1.6M1591.2 909.6l5.6 11.7M1421.8 383l10.2 2.9M1108.3 172.7l-12.9 -10.7M709.1 719.4l-12.8 7.5M1471.1 183.3l12.2 -14.7M1006.7 740.3l-10.6 12.7M995.6 670.3l-20.1 19M1546.2 866.2l11 25.6M1249.8 215.4l-4.7 -8.4M883 795.1l-13 12.8M1505.3 241.9l7.4 -4.8M1152.6 211.1l-11.2 -9.3M1466.1 273.3l6.2 -3.7M1021.5 977.2l-10.1 20.6M894.6 268.6l-10.2 -2M914.1 98.2l-14.2 -8.9M1347.8 430.1l4.8 17.9M1324.5 305l-1.1 -16M326.3 165.3l-32.9 -6.3M1366.4 598.9l2.6 16.7M1581.7 291.2l16.1 -4.1M1103.6 611.9l-15.5 17.6M1052.3 974.9l-13.8 31M1288.6 1063.3l-1.3 23.5M745.6 1376.3l-16.7 29.2M1157.1 402.4l-7.4 2M1428.8 1283.5l1.9 17.3M1438.8 578.4l10.3 20.7M1406.5 399.4l17.3 9.6M999.5 898.3l-16.6 27.4M1249.4 170.4l-3.7 -8.8M1596.3 300.8l22.2 -4.6M527.3 622.6l-29.3 9.8M1152.5 223.7l-7.4 -5.5M889.5 1096.9l-9.7 16.4M1544.4 674l10.9 16.1M1295.8 444.5l-3.5 9.5M1249.9 602.3l-5.5 17.3M904.3 1381.8l-11.9 28.9M750.5 986.3l-7.3 8M780.9 716l-16.4 10.8M721.8 424l-16.4 1.8M1578.4 424.8l8.7 2.4M1638.6 660.2l10.1 9.9M1358.4 869.4l1.3 22.4M616.2 476.7l-23.9 4.1M1594.2 608.8l16.6 15.8M675.6 616l-25.1 10M1383.2 350.9l10.8 -1M1318.9 156l-0.8 -17.7M1479.8 1025.8l4.6 20.5M1232.8 491.2l-12.7 18.1M502.3 202.4l-19.5 -3.6M1490 417.4l17.3 6.6M867.5 193.8l-29.1 -10.3M969.7 934.1l-15.3 24.7M1326.2 119.3l-0.2 -20.7M1119.5 554.7l-7 6.7M999.6 407.3l-21.5 3.4M1246.3 775.8l-4.8 24.5M1468.6 126.4l7.8 -12.7M1352 541.3l1 8.1M1221.1 570.8l-5.1 10.3M1330.1 400.8l0.6 13.6M1458.2 902.8l4.9 20.7M979.9 1386.9l-5.6 16.6M1496.1 410.7l15 4.9M719.5 551.6l-23.1 7.4M1233 812.7l-4.5 21.6M1570.9 210.4l22.1 -13.2M1200.3 339.4l-15.2 -2M595.3 676.4l-28.8 12.6M1080.2 911.3l-10.5 23.6M1296.7 916.4l-0.9 16.7M1525.9 1157.4l4.9 20M687.7 212.3l-32.5 -7.3M1203.2 456.6l-15 12.1M1397.9 761.4l2.1 12.3M837.2 221.2l-26.3 -7.2M1060.4 608.3l-19 17.9M732.9 615.3l-27.7 12.1M491.3 1126.8l-15.6 14.4M548.4 996.6l-18.5 15.2M1227.7 999.3l-3.6 22.9M1017.5 393.4l-21.7 2.6M1425.7 277.5l6.7 -5.4M1145.3 337.1l-9.4 -1M1363.9 342.2l13.7 -5.3M434.6 261.4l-21.7 -2.3M1090.2 840.8l-10.1 20.5M1129.6 148.5l-17.4 -18.2M1104.7 599.4l-11.2 12.2M1026.7 263.1l-10 -3.1M1578.6 905.1l5.5 12M1312.7 851.6l-0.7 23.7M1129.4 915.2l-10.7 30.2M1405.4 113.4l2.5 -7.9M827.9 301l-28.3 -3.1M1470.3 913.3l4.6 18.2M1478.7 1018.4l6.5 28.4M1410.5 104.5l6.1 -18.6M1211.4 341.6l-8.5 -1.1M1226.1 369.9l-15.5 2.1M984.9 170.8l-15.9 -8.6M1068.8 640l-10.5 11.5M1517.4 1224.1l6.4 29.4M1309.7 591.9l-1.6 20.1M1560.1 399.7l13.3 2.5M555.2 557.6l-25.9 6.8M647.4 449.2l-26.7 3.7M1466.3 191.8l6 -7.2M1219.6 571.6l-4.4 8.8M1436.6 397.8l17.2 6.6M895.4 911.9l-6.2 8M1196.6 343.5l-15.1 -1.4M858.5 237.9l-11.3 -2.8M743.7 119.4l-27.9 -11.3M1233 722.1l-6.4 24.9M353 840.2l-20.5 10.2M1308.3 502.8l-1.9 14.1M724.8 362.4l-14 0.1M1625 464.4l8.1 3M1563.5 371.9l21.3 1.4M1315.2 135l-0.6 -11M1407.8 408.5l10.8 7.1M949.2 877.2l-15.6 21.5M893.6 694.7l-14.3 11.1M1011.6 402.7l-22.1 3.3M611.6 598.2l-13.8 4.7M895.1 687.8l-24.3 18.6M290.5 407.1l-31.2 1.5M632.6 199.2l-22.1 -5M1439.7 1338.9l3.5 30.9M1384.3 213l3.5 -8.8M1608.6 109l8.5 -7.5M1178 345.3l-14.1 -1M1438.6 1291.8l3.3 28.1M451.3 96.7l-32.2 -9.5M410 773.7l-26.4 12M969.7 570.7l-26.1 15.6M1633.8 594.6l15.1 11.7M402.8 732.9l-27.4 11.2M821.6 211.7l-12.7 -3.6M1543.4 482.4l21.2 12.4M1516.6 172.8l7.8 -7.5M1161.1 1408.4l-3.3 20.7M1133.1 657l-15.5 24M998.2 1191.6l-5.6 14.3M828.6 1396.1l-7.2 15M1437.2 661.5l4.6 12.7M1184.5 212l-9.5 -9.5M1172.8 1458.7l-4.6 33M1123.5 194.4l-6.1 -4.8M1090.8 127.9l-10.8 -10.4M1070.7 307.8l-17.7 -3.3M1375.4 515.6l3.6 12M1123.5 664.3l-5.2 7.8M476.9 1175.9l-14.9 14.4M1504.7 300.2l6.7 -2.1M1640.5 585.2l18.9 13.9M586.5 131.6l-16.2 -4.9M1576.8 828l11.5 21.8M498.7 895.3l-13.3 8.7M456.7 532.3l-31 6.3M1128.8 527.9l-17.3 14.9M1459.8 166.5l6.7 -9.6M1353.4 199.7l1.9 -11.9M614 327.9l-13 -0.5M561.2 783.1l-17 9.4M1225.2 1173.7l-1.3 10.2M1219.6 156.1l-7.8 -14.5M1540.2 804.2l4.4 9.4M1546 426.1l7.5 2.4M1473.2 385.5l16.5 3.4M798.4 225.3l-30.9 -7.6M579.5 588l-22.7 7M1437.7 629.8l6.5 16.1M352.5 599.5l-15.3 3.8M650.8 516.3l-29.2 6.9M1115.2 1414.1l-5.1 25.5M1412 151.1l5.2 -12.8M1080.7 1047.2l-6.2 17.3M427.6 917l-19.4 12.1M1498.1 232.7l17.8 -12.9M1354.4 1247.6l0.3 11.6M830 665.7l-11.6 7.2M1287.4 1128.3l-0.8 14.9M1393.4 363.2l12.2 1.3M1375.5 677.2l1.5 9.9M1289.6 214.9l-3.9 -14.2M1358.1 376l13.6 9M531.1 572.8l-23.6 6.4M1594.7 1007.1l5.7 13.8M1476.1 808.8l7.6 23.1M990.7 1456.9l-7.4 24.1M1560.8 953.6l5.7 14.6M1123.1 925.1l-7.5 20.9M323.5 614.9l-23.6 6.1M1333.9 178.5l0.6 -18.9M696.5 471.3l-18 3.3M1479.3 1374.2l4.2 28.3M1419.9 816.7l3.7 18.3M953.3 149.1l-22.3 -12.3M1129.9 985.8l-4.5 14.4M596.5 674.4l-20.3 8.8M1462.8 257.1l13.4 -9.8M959.9 991.8l-12.7 22M1375 910.3l1.1 12.9M1359.7 378.1l9.4 6.6M1363.6 1154l1.4 31.1M1541.9 346.9l11.2 -0.5M1470.1 352.1l17.7 -0.5M1014.1 1444.6l-7.2 25M1221.3 804.8l-4.6 19.5M1099.2 1097.1l-9.9 32.1M1380.6 113.9l2.8 -12.9M673.9 271.4l-11.5 -1.5M1559.4 709.8l12.9 19.8M1309.4 530.5l-2.2 20.7M366.8 1128.7l-25 20.1M693.8 576.4l-21.8 7.6M1523.4 1284.5l5.5 26.3M685.3 1364.8l-16.5 25.9M1465.6 373.9l14.4 1.9M1144.6 600.5l-6.1 8.1M1103 1399.9l-3.6 16.8M1422.3 316.2l10.4 -4.4M1232.3 398.9l-9.2 4.1M802.2 736.9l-10.3 7.4M1459.4 827.5l6.2 22.1M984.3 342.2l-10.5 -0.4M1491.8 1015.9l5.2 21M1387.6 760.5l4.2 28.8M1386 1100.4l1 12.2M1201.3 359.2l-13.8 0.3M764.7 673l-26 14.6M1245.6 288.1l-8.3 -6.8M887.3 471.7l-14.7 3.9M1511.8 630l11.5 17.2M1535.3 330.5l17.7 -2.2M1202.5 1327.8l-2 15.4M493.1 735.1l-28 12.7M1330.5 804.5l0.1 12.8M1398 720.8l3.5 18.3M1138.2 625.8l-7 10M310.1 247.4l-25.5 -2.7M1438.2 251.1l12.2 -11.6M811.6 1251.7l-14.7 25.5M1188.6 301.9l-20.6 -8M1442.5 1184.1l2.3 16.3M1395.1 313.3l7.1 -4.5M1360.3 198.1l1.5 -7.1M1121.8 538.3l-19.3 17.1M1381.1 147.7l2 -7.7M833.6 778.4l-12.1 10.4M1575.4 580.7l20.2 18.3M928.3 1443.1l-10.1 27.3M1032.4 627.8l-19.2 17.6M1262.7 989.5l-3.4 32.7M632.3 519.4l-19.3 4.5M628.6 390l-30.1 1.5M645.5 1310.3l-17.9 25M956.6 302.1l-24.2 -3.5M1261.1 1088l-1.1 12.1M591.5 731.2l-27.1 13.8M1370.3 935.3l1.6 21.5M1675 122.2l20.2 -13.6M1517.4 1000l7.5 25.6M1423.4 347.8l12 -1M1606.2 121.4l16.3 -13.7M802.1 867.3l-12 11.7M588.7 1229.3l-12.6 14.9M1265.5 280.9l-7.4 -9M1654.1 1320.2l9.9 29.2M749.2 425.9l-30.9 3.7M370.2 370.6l-21.8 0.3M1397.8 836.8l1.5 10.2M1455.2 846.1l6.3 24.3M1410.1 825.4l2.7 15.2M1599.5 339.4l18.6 -1.1M1553.3 1275.2l7.3 29.8M1409.9 355.5l6.1 -0M1374.1 307.6l4.9 -5.2M1213 242.7l-15.6 -15.3M709.6 301.5l-18.7 -1.7M740.5 942l-15.6 15.5M1290.2 342.7l-8.2 -2.9M1265.8 286.6l-7.9 -8.8M1327.5 202l-0 -13.8M1297.6 248.9l-1.7 -5.9M1384 446.6l5.3 8.6M903.5 311.5l-25.8 -2.7M1556.9 334.3l12.1 -1.1M1291.9 852l-1.6 22.2M1525.3 339.1l9.7 -0.8M564.8 1036.3l-15 13.4M551.2 1252.7l-11.2 12.9M1151.1 744.1l-6.6 14.5M1124.8 547.3l-9.6 9.1M1493.7 324.4l7.9 -1.5M525.9 485.7l-30.6 4.9M1511.9 509.4l7.4 6.2M767.5 467.1l-26.6 5.3M1026.7 239.6l-16.3 -6.3M1192 820.6l-6.8 23.2M1654.4 1134.9l13.1 31.2M358.7 598.5l-22.7 5.7M1613.5 931.5l12.4 24.9M1281.5 379.5l-8.7 4.4M327 868.2l-30.2 15.5M1080.1 378.7l-18.1 1.7M1235 395.9l-14.9 6.4M554.3 1362.3l-15.3 19.9M1196.9 349.9l-7.8 -0.4M1394.1 706.3l5.2 27.6M381.8 1175.9l-12.2 10.6M742.1 937l-15.7 15.6M1503 874.8l4.1 12.3M488.5 245.8l-33.4 -4.4M553.2 625.9l-29.2 10.2M1063.4 496.3l-14.5 7.7M539.5 1255.7l-11.2 12.8M1543.3 681.4l7.5 11.4M1606.1 1143.4l6.9 19.6M1367.1 1309.2l1.3 30.7" stroke-width="3"/><path d="M992.4 199.2l-15.5 -7.3M862.4 872l-13 14.5M1306.8 900l-0.7 18.7M1130.1 704.6l-5.6 9.9M1366.6 463.6l6.2 17.4M530.8 502.4l-22 4M860.8 376.1l-21 0.9M1406.7 1079.3l3.6 33M861.9 517.2l-15 5.2M1461.9 1424.5l2.2 17.7M498.6 524.1l-17.6 3.6M512.4 1290.6l-16.4 18.8M1376.3 583l4.2 19.6M1491.5 815.9l10.6 29.7M1284.3 588.6l-4.5 24M919.8 243.5l-13.1 -3.6M1003.8 222.3l-9.3 -3.9M1223.2 154.8l-8.7 -16.7M268.4 361.6l-25.1 0.1M969.1 102.8l-10.6 -7.5M1337.4 280.8l0.9 -7.1M1176.6 240.3l-15 -11.4M782.3 1090.9l-9.1 12.3M1320.4 705.2l-0.2 8.6M1461.5 389.2l6.3 1.6M1405.2 789.4l5.3 29.9M1306.9 866.9l-1.4 33.3M659.4 351.7l-27.7 -0.2M1013.1 488.8l-26.2 11M429.8 852l-28.4 15.7M1056.8 302.6l-24.2 -4.8M931.1 1155.3l-5.4 10.8M447.4 532.3l-31.1 6.2M1087.1 608l-16.8 17.5M985.1 1287.3l-8.1 22.1M1650.3 634.8l12.6 10.9M1669.6 696.7l21.6 21.6M650.6 549.1l-10.4 3M1527.9 309.6l15.9 -3.7M508.3 521.9l-17.7 3.6M268.5 141l-26.5 -5.4M1599.5 612.2l7.6 7.1M1534.4 313l22 -4.6M1043.5 393.3l-18.4 2.4M1084.4 1489.3l-5.7 26.3M1655.8 316.4l9.9 -1.2M1058.4 616.9l-9.5 9.2M1354.3 309.7l4.9 -8.7M1271.8 957.2l-2 21.4M1508 1128.7l6.2 26.7M1176.8 857.7l-8.7 29M1434.5 892.3l2.4 12.2M857.8 503.2l-24.8 7.8M1504.8 324.5l11.8 -2.1M1310.9 1476.1l-0.2 13M968.6 587.9l-11.9 7.7M1631.5 378.6l20 1.5M1273.4 805.1l-1.8 14.8M1304.1 551.5l-1.7 13.7M1275.3 614.2l-1.8 8.8M1042.7 247.3l-20.4 -7.8M745.7 1349.8l-7.9 13.4M969.8 717.5l-14.2 14.3M1676.7 1491l8 26.1M1396.4 472.1l6.1 10.3M1043.2 117l-21.7 -18.2M904.6 271.1l-26.8 -5.4M776.5 972.7l-9.5 10.7M753.6 1258.6l-12.2 19.2M1641.1 464.9l23.5 8.2M1352.1 564.1l2.3 19.5M1111.3 597.1l-6.5 7.2M988 1308.6l-11.4 31.9M1077.1 331.8l-16.4 -1.6M908.9 541.2l-20.9 9.2M560.9 498.5l-11.5 2.1M706.1 329.5l-24 -1M1222 416.9l-9.1 5.3M268.2 357.3l-25.2 0M1510.5 424.9l9.6 3.6M966.9 456.3l-10.3 2.9M1122.2 250.9l-10.2 -5.2M588.7 271.9l-15.6 -1.8M1428.2 455.3l14.9 14.7M1004.9 1106.4l-8.2 19M760.1 1241.9l-15.8 24.6M1289.4 353.9l-15.5 -0.9M1525.1 416.4l20.5 6.3M1351.2 568.6l2.3 21M1581.5 336.3l19.5 -1.5M1513.2 411.4l11.7 3.5M1571.2 856.3l8.7 18M993.9 1165.5l-5.9 14.4M433.4 675.6l-14.5 5.2M1532.5 1053l7.1 24.3M1456.8 533.6l11.4 15.7M455.8 914.7l-14 8.9M855 299.6l-22.1 -2.6M1165.3 681l-4 8.1M1015.1 843.6l-15.8 24.6M834.7 1211.1l-6.5 11.2M1207.7 183.7l-7.6 -10.9M1240 619.8l-5.9 17.8M907.6 163.7l-28.5 -13M1018.7 1186.2l-6.6 17.7M1673.6 956.7l15.2 26.4M1647.9 139.8l21.6 -14.6M1270.5 462.5l-3.3 6.2M1296.5 625.9l-1.6 13.9M1570.2 1277.2l7.9 30M639.3 887.1l-21 16.2M989.7 548.5l-9.5 5.4M1256.8 269.5l-9.3 -11.3M1513.7 1194.7l6.6 29.9M1373.2 414.8l7.3 9.5M1499.6 875.3l8.6 25.9M930.9 539.2l-26.7 12.3M1086 755.6l-13.4 22.1M1422.2 140l8 -18.4M1254.5 595.3l-2.5 8.2M734.4 1449.6l-9.2 16.9M962.1 271.8l-12.6 -2.9M1131.2 741.4l-14.2 27.9M501.7 382.9l-21 0.7M775.7 1370.6l-12.2 22.4M811 115.7l-15.6 -7.3M330.1 579.7l-22 4.9M1089.5 429.5l-13.5 4.2M396.4 383.1l-29.2 0.8M1096.4 224.7l-13.5 -7.7M1274.7 432.5l-8.5 12.2M1207.3 542.8l-6 9.3M830.4 471.7l-11.4 2.6M1603.7 756.7l16.8 24.3M984.1 575.8l-8.7 5.6M1087.4 588.6l-6.3 6.1M754.4 1320.1l-6.7 11.2M1636.7 172.5l14.6 -8.7M1575.9 687.6l16 21.5M1428 355.1l20.4 -0.2M1645.1 1100.9l4.5 10.5M813.4 1067.7l-14 19.3M463.6 831.4l-22.4 12.3M899.3 304.7l-28.7 -3.4M974.8 552.2l-21.8 12.1M1019.1 766.3l-16 21.3M1151.3 912.6l-9.5 30M634.1 114.5l-12.2 -4.3M812.9 1316.6l-6.2 11.6M1522 94.9l11.6 -15.6M1420.4 1057.2l3.1 23.4M1325.4 923.5l-0.1 28M829.7 196.8l-29.3 -9.4M1445.6 639.9l5.5 13.3M536.2 688.6l-25.4 10.7M1277.9 129.6l-1.9 -8.7M470.8 343.9l-26.4 -0.4M1229.6 294.9l-17.5 -10.8M393.2 758.7l-16.2 7M1069.8 1488.2l-5.6 24.7M424.3 665.5l-25.4 8.7M590.5 407.7l-31.8 2.2M530.6 496l-22.9 4M529.8 878.1l-22.3 14.6M336.8 473l-31.9 3.8M1526.1 1467.1l1.9 10.8M1524.5 576.8l11.4 12.8M396.5 955.9l-20 12.9M1447.4 1346.1l1.9 15.5M1453.8 445.2l16.8 11.9M802.7 588.6l-29 12.8M1425.4 165.9l5.7 -11.1M1397.7 327.6l11 -4.5M538.3 117.4l-26.4 -8M799 1301.9l-15.5 27.7M276.7 163.1l-21.2 -3.9M1183.6 95.7l-4.8 -8.6M356.7 1057.5l-25.9 18.7M537.7 1016.4l-11.6 9.7M1153 590.9l-11.5 15.4M1299.3 871.1l-0.8 15.2M1425.2 680.4l5.3 17.5M1234.5 238.3l-8.6 -10.9M1228.8 419.1l-7.1 4.5M1587.8 157.6l22.2 -17M458.4 133.4l-31.6 -8.1M1243 362.4l-17.4 1.3M1673.4 1200.6l10 24.3M828.8 658.8l-12.7 7.7M1469.4 108.5l6.1 -10.7M925.5 695.1l-24.9 21M1088.8 398.5l-23.2 4.1M966.4 924l-11.2 17.6M691.1 682.3l-26.5 13.6M1049.2 546l-22.8 15.5M1659.5 463.6l22.2 7.2M616 737.6l-19.1 10.2M1195.4 406.2l-12.7 4.8M605 1227.6l-10.5 12.7M1375 316.6l11.1 -9.3M1408.5 665.7l2.2 8.4M424.1 314.6l-30.3 -1.4M395.2 917.6l-23.2 14M549.2 963.9l-19.3 15.1M1023.4 441.1l-13.2 3.7M1226.7 828.9l-4.2 19.8M1590.3 526.9l15.6 10.2M1095.4 326.3l-18.4 -2.4M573.7 943.2l-20.2 15.7M1355.9 238.5l4.2 -17.8M1059.4 362l-15 0.3M1044 408.2l-11.1 2M770.2 890.4l-21.8 20.8M632.9 533.5l-13.8 3.5M1018.4 319.3l-11.4 -1.4M899.1 511.7l-27.8 10.1M552.5 779.7l-10 5.5M1273.3 822l-2.2 18.8M1301.3 959.8l-0.5 11.9M956.8 279.4l-27.1 -5.6M905.9 1001.2l-12.5 19.1M1131.7 1371.9l-3.7 19.1M1506.2 851.3l7.6 21.2M1276.2 1279l-1.7 29.8M764.1 581l-14.3 5.7M685.2 1402l-12.8 20.9M1168.2 923l-4.4 15.6M1355.9 1085.8l1.1 29.7M1046.4 575l-17.1 13.3M1492 422.1l15.3 6.2M731.2 331.6l-16.5 -0.7M1655.5 1015.4l6.1 12.3M1390.5 956.3l1.7 16.8M1272.3 1350.2l-1.2 21.2M1520.4 861.5l7.1 18.8M1210.3 1362l-2.4 20.1M694.7 1210.9l-19.7 26.5M269.1 446.1l-18.5 1.6M746.5 671.2l-24.4 13.2M1573.9 267.3l18.1 -6.5M1268.6 895.4l-3.6 33.1M1275.6 1076.8l-2 27.9M629.1 249.4l-21 -3.2M1270.7 583.7l-5.7 22.5M1100.7 363.4l-18 0.6M688.4 890.1l-21.3 17.8M654.6 377.9l-18.5 0.6M1176.7 525.4l-9 10M1031.1 678.8l-12.8 13.9M1175.7 761.4l-5.3 14.1M1458.7 1477.2l1.4 12.2M495.4 339.4l-27.9 -0.6M991 243l-23.5 -7.9M1375.1 519.7l5.1 17.9M766.8 1088l-20 26.1M561.2 200.4l-29.8 -6.1M1357.9 745.1l1.1 14.4M1102.7 291.5l-17.7 -5.1M546.7 535.7l-10.8 2.5M1358.5 295.5l6.4 -12.8M1448.6 887.7l6.9 30.4M1041.9 980.9l-5.1 11.1M1543 192l9.3 -7.1M898.2 873.9l-12 14.5M1248.6 497.7l-9.5 17M1369.7 131.3l4 -21.8M1071.4 846.7l-7.1 13.6M935.2 457.1l-19.5 5M487.5 901l-14.3 9.3M1380 145.6l2.7 -10.9M510 1290.4l-10.9 12.4M1493 275.8l10.6 -5.1M654.9 533.3l-17.7 4.7M550.5 448.8l-32.9 3.9M964.6 1227.5l-8.9 21.4M1401.3 1144.7l3.1 33.6M1093.8 355.6l-22.3 -0M1331.9 513.6l0.5 19.4M1439.9 604.8l8 17.7M416.4 166.3l-22.9 -4.8M1340.8 1345.5l0.3 23.2M1508.6 440.9l11 5.2M1234.1 249l-6 -6.8M970.1 517.6l-14.2 6.4M1497.3 1069.1l6 25.4M1302.8 612l-0.9 8.9M1158 1233.2l-6.4 32.9M945.8 270.7l-18.4 -4.1M1539.1 799.7l10 20.9M1677.8 361.6l15.3 0.2M1357.6 421.6l3.2 7M819.1 1187.5l-10.6 17.4M625.3 1092.6l-16.2 17M1544.6 1091.1l5.7 19.2M372.6 780.6l-30.9 13.7M1252.5 192.9l-7.2 -15.5M670.1 725.7l-25.1 14.1M886.2 217.6l-26.5 -8.3M1311.8 1144.1l-0.5 26.3M1643 487.9l23.6 9.9M1454.9 265.9l16 -11.4M1672.5 1008.6l7.8 14.8M1066 335.7l-19.3 -1.5M726 213.6l-30.2 -7.1M408.4 914.2l-12.1 7.3M1449.3 475.3l14.6 14.4M1119.5 374.7l-9.2 0.8M1438.5 933.6l3.9 20.3M1034.1 747l-17.4 23.2M1175.5 1374.4l-4.8 32.3M1204 248l-10.8 -9.4M1545.5 437l23.2 8.7M1174 1366.5l-3.4 22.3M529.9 697l-20.5 8.8M1007.6 576.4l-12.8 8.8M1057.3 1282.4l-7.6 26M1671.9 160l11.9 -6.8M1371.6 1302.3l0.9 18.9M1159 259.2l-14.6 -8.4M883.2 976l-8.4 11.7M1036.9 1075.8l-10.7 26.5M1323.7 704.9l-0.3 25.7M781.9 796.9l-13.5 10.9M1655.9 333.1l21.8 -1.5M337.5 232.4l-14 -1.7M1147 404.9l-18.4 5M1179.2 265.4l-9 -5.5M833.5 104.5l-19.1 -9.7M1210.7 1387.9l-3.6 31.6M1445.6 1131.7l2.2 14.8M270.8 778l-23.1 9.2M656 1300.6l-18.7 26.3M1463.5 462l17.6 13.8M1190.1 391.4l-10.1 2.6M711.3 1125.9l-17.3 21.6M1347.6 510.4l2.1 16.8M801.3 472.9l-30.3 6.7M602.5 589.4l-10.4 3.3M714.9 948.8l-20.9 20.2M1676.4 357.5l20.6 0.1M1231.8 664l-5.8 18.7M1374.8 196.4l2 -6.8M1361.1 307l8 -11.8M1648.1 779.9l10.5 13.9M857.2 227.5l-13.9 -3.8M638.1 806.8l-19.2 12.5M628.2 1089.7l-19.5 20.4M1442.2 1487.9l2.8 27.8M1064.9 99.8l-13.3 -13M1229.9 1148.5l-4 32.5M1363.1 552.5l2.9 16.1M1245.7 127.1l-7.7 -21.5M1218.4 671.7l-7.8 22.3M1271.4 194l-5.9 -17M454.3 661.2l-12.8 4.5M1463.2 1477.4l2.9 23.9M344.9 322.1l-11.7 -0.4M1506.4 118.5l14.8 -19.7M1321 116.4l-0.4 -12.3M1266.4 415.5l-10 9.7M1313.1 320.8l-3.5 -8.2M1200.2 238.4l-6.6 -6.1M1206.5 1333.4l-2.4 19.2M1278.4 584.2l-5.1 23.5M973.9 919.3l-9 14.3M907.7 144.7l-23.4 -11.8M913.3 506.8l-20.1 7.3M1531 770.2l7.4 15.2M1296.9 697l-1.2 12.6M611.2 967.6l-22.7 19.3M706.6 736.4l-25.3 15.5M1485.5 479l17.9 13.9M376.8 848.6l-14.1 7.3M938.4 1126.4l-11.5 22.8M1466.9 862.4l6.8 24.6M992.7 1312.6l-7.7 22.1M1366.4 558.6l2 10.5M1665.1 572.8l15.7 10.1M808.8 196l-31.3 -9.6M1368.3 1031.1l1.8 30.5M387.3 859.4l-24.9 13.3M1674.3 228.1l13.8 -5.1M1596.4 1200l10.1 31.8M1014.7 991.6l-5.1 10.3M1284.1 123.6l-3.4 -18.2M932.6 367.4l-12.5 0.4M848.9 929.9l-6.6 7.9M1634.3 1460.3l7.2 25.9M985.3 677.6l-8.7 8.2M1339.4 895.9l0.3 13.7M394.9 829.8l-15.3 7.8M1109.5 588.6l-13.1 14M556.6 295.2l-15.4 -1.2M347 517.1l-9.9 1.6M1002.3 223.3l-16.9 -6.9M984.4 548l-18.2 10.2M1506.6 257.4l17.5 -9.7M713.6 108.4l-18.1 -7.3M1364.9 479.1l4.1 13.7M1354.3 532.7l2.2 14.6M595.7 390.4l-31.7 1.5M1412.5 628l5.4 17.3M1318.7 318.1l-1.7 -6.7M1011 287.2l-21.1 -4.6M1329.9 302l0.3 -8.8M1089.8 534.3l-12.1 9M994.4 644.9l-20.3 17.6M271.8 311l-29.2 -1.2M626.9 422.5l-26.1 2.5M1287.2 1117.9l-0.9 16.4M1369.1 1273.4l1.3 29.7M1256.1 1161.4l-1.6 17.6M1374.6 307.7l6.5 -6.7M1159.3 973.2l-8.3 30.3M1458.1 907.1l6 25.3M1380.8 693.9l3.8 24.6M1327.6 308.9l-0.1 -14.3M1679.3 646.7l22.1 18.3M1234.8 604.5l-2.8 7.4M1072.6 568.8l-12.8 10.7M1551.8 212.7l11.6 -7.5M689.1 1201l-17 22.5M933.4 1386l-11.7 30.6M904 348.7l-29.6 -0.5M1378.6 768.9l3.7 30M1250.2 299l-15.1 -11M1432.2 483.8l9.2 11.2M1288.8 1100.1l-1 18.8M492.2 228.4l-19.7 -3M1120.7 884.5l-4.9 12.6M1124 864.5l-9.4 23.5M1100.7 1054.4l-5.9 18.1M1235.1 324l-12.8 -4.4M1651 1343.8l9.3 28.5M1301.1 432.9l-5.7 16.2M710.4 99.4l-19 -7.9M1386.1 871.3l3.1 27.3M1395.9 1188.4l1.8 21.7M1140.5 389.9l-16.6 3M1399.7 938.3l2.2 17.5M1400 366l12.2 1.7M302.4 740.5l-20.5 7.7M401.3 831l-19.1 9.8M1556.3 703.1l6.3 9.6M787.9 228.5l-23.6 -5.6M1547.1 1357.5l4.1 18.8M1473.5 514l7.7 8.4M1039.9 233.5l-14.3 -6.1M1584.7 331.5l21.9 -2.1M1478.3 1089.2l5.6 27.5M673.6 924.9l-19.5 17M1547.3 172.4l9.3 -7.8M1276.1 634.2l-4.5 24.3M1443.6 938.8l4.2 21M311.1 353.9l-22.7 -0M930.1 455.3l-17.1 4.3M1069.8 746.2l-10.8 16.3M676.6 1203.7l-18.9 24.6M675 862l-17.4 13.5M1422.1 534l7.9 15M643.3 322.8l-10.7 -0.5M1008.8 388.3l-17.4 1.8M1636.1 421.3l19.8 4.2M1297.3 465.6l-3.1 11.1M1405.7 717.1l2.3 10.8M513 866.6l-28.5 17.9M1254.4 1435.9l-1.5 22.4M567.3 655.6l-18.6 7.3M389.9 272.7l-16.2 -1.4M549.9 617.4l-21.1 7.1M1551.7 245.5l12.6 -6.2M1383.4 910.9l2.7 27.4M1385.6 415.2l10.5 10.8M781.5 680l-9.9 5.9M1353.4 260.6l3.4 -12.9M1234.2 180.6l-5.9 -11M1409.9 1002.7l3.2 25.3M1208.6 229.5l-13.8 -14.6M1428.4 292.8l17.6 -11.1M776.6 560.6l-28.3 10.5M1422.8 840.2l6.3 32.2M496.2 1260l-19.5 21.2M703.8 371.9l-33.3 0.8M1374.9 277.2l3.1 -5.1M1184.4 107l-4.5 -7.8M1205.3 960.1l-5.9 29M920.5 245.9l-15.9 -4.3M1671.3 1112.5l9.4 20.8M1653 1502.3l7.4 26M1427.3 334.6l15.6 -3.4M1525 606.8l7.2 9.1M1332.1 983.5l0.1 20.9M1294.7 429.6l-5.9 13M1462.6 409.5l6.9 2.7M807.4 432.7l-28.9 4.3M1094 290.7l-11.1 -3.1M1201.3 357.4l-10.6 0.1M1040.2 880.9l-7 12.8M742.9 931.6l-19.6 19.3M1222.4 202.4l-5.2 -7.6M1546.9 1311.7l7.2 31.3M479.3 725.2l-13.4 5.8M707.4 568.6l-29.2 10M328.2 716.2l-29.9 10.8M1493.5 303.8l13.5 -4.3M1501.3 1012.7l7.2 27.1M1127.3 316.2l-7.2 -1.4M591.9 1372.1l-12.5 17.3M349.7 206.4l-13.2 -2M304.2 328.4l-22.8 -0.6M280.4 864.6l-18.6 9M346.4 407l-31.3 1.6M1010.9 162l-15.5 -9.5M1120.1 373.4l-17.4 1.5M1136.6 1277.9l-6.9 33.2M1229.9 637.7l-7.8 22.3M713.7 1406l-6.1 10.4M1065 364.5l-21.7 0.7M1479.7 1088.2l5.5 26.8M964.3 311l-24.8 -3.1M1382.3 241.1l6 -12.6M1493.8 1347.7l3.5 21.1M833 463.5l-13.9 3M1520.8 358.1l16 0.2M1618.4 131.7l10.4 -8M833.5 1054l-9.8 13.9M1299.5 186.5l-3.5 -21M1069.1 1083.2l-10 28.1M1388.5 1316.5l1.7 27.2M669.4 1021.6l-22.6 22.8M696.4 894.3l-23.6 20.1M1369.2 912.2l2.4 33M1151.3 343.6l-17.8 -1.3M514.2 1033l-18.2 15.2M903.7 988.6l-13 19.4M1491.6 299.5l19.1 -6.6M1106.3 944.4l-4.9 13M1066.8 460.6l-11.8 4.7M370.7 377l-23.4 0.5M1367.1 747.5l1.6 16M571 1234.8l-9.5 11M1186.7 478.2l-8.2 7.1M1276.3 393.6l-7.1 5.2M1226.6 436.4l-10 7.9M717.4 1105l-9.3 11.4M423 758.4l-11.9 5.3M1123.4 278.7l-10.2 -3.9M1510.1 767.9l7.3 16.5M989.3 1148.5l-4.3 10.1M338.1 470.3l-32.3 3.7M939.5 135.9l-21.1 -11.9M1570.6 673.5l17.8 23.3M1573.8 760.8l12.1 19.9M1578.1 799.2l14.3 25.4M1399 484.8l7.6 13.7M900.1 954.9l-11.1 15.5M846.2 1040.8l-18.3 26M1614.3 360.6l18.2 0.3M594.8 958.6l-11.2 9.2M1251.2 274.7l-11.1 -11.7M1298.3 947l-1.1 21.1M511.3 212.5l-21 -3.7M1645.3 322.8l11.7 -1.2M587.6 817l-19 11.8M962 125.7l-20.6 -13M1356.9 281l2.7 -7.1M840.9 928.9l-11 12.9M469.3 548.9l-24.8 5.6M1061.3 571.3l-19.7 15.9M1587.5 347.7l15.4 -0.5M1057.5 563.1l-18.7 14.3M1483.3 492l18 15.8M1083.1 891.1l-10.7 23.4M1249.3 467.4l-8.8 12.5M890.5 1505l-9.6 25.2M714.2 334.3l-30 -1.1M1653.8 717.2l8.8 9.8M1306.8 394.7l-6.2 11.3M1223.3 795.7l-6.4 26.7M1541.4 284l19.5 -6.6M977.2 417.3l-11.4 2M673.4 808.6l-16.9 11.7M1034.8 1215.7l-7.7 22.5M1235.1 600.7l-4.4 11.5M792.4 554l-20.8 7.7M1340.1 130.7l0.5 -9.3M1567.7 1244.5l6.3 23.3M1364.1 429.7l2.9 5.8M660.2 754.6l-20.2 12.1M1645 150.6l12.8 -8.3M984.4 975.6l-8.8 15.9M1202.7 1485l-1.4 12.5M467.2 259.7l-16 -1.8M1199.6 940.3l-5.2 23.6M1043.3 1076l-6.4 16.1M1571.9 770l11.1 18.9M1593.1 1473.8l5.4 22.8M821 454.5l-13.6 2.6M1542.9 1053.2l4.8 15.6M1139.1 1214l-4.4 20.2M1368.9 359.4l8.8 0.7M1668.1 1290.1l9.3 25.6M1135.5 195.4l-15.3 -12.7M514.7 1223.8l-19.4 20.7M521 591.1l-17.1 5M1496.1 678.3l7.8 15M613.3 1087.1l-21.8 22.3M395.8 321l-16.4 -0.6M925.1 713.2l-8.4 7.4M1444.1 1153.3l3.5 23.8M1097.7 913l-7.1 17.2M1090.5 331.3l-22.8 -2.4M1079.7 827l-5.1 9.7M610.1 1454l-12.4 19M1226.1 408.9l-6.4 3.3M764.2 841l-19 16.4M1075.4 361.8l-17.4 0.4M403.4 1015.5l-13.9 9.9M1372.5 260.8l7.9 -16.9M1454.8 1463l1.6 14.1M689.4 583.3l-22.7 8.1M1523.6 554l10.9 11M1199.8 1080l-3.6 20.5M1190.4 724.2l-6.8 18.1M1117.3 903.8l-9.9 25.8M495 1083.4l-19.3 16.8M1171.9 1386.9l-1.8 11.9M1354.5 679.6l2.1 25.1M1184.5 528.1l-13.3 15.9M1591.2 441.4l18.8 6.1M1528.1 1172l3.3 13.6M1228.1 1056.6l-2.1 14.4M1027 806.5l-16.2 24.2M1450.9 267.4l10.9 -7.9M990.5 141.7l-8.5 -5.4M1047.3 1027.6l-12.9 30.9M1436.3 173.6l11.1 -18.7M1421.3 1494.1l2 23.8M1505.3 1012.4l5.7 20.9M1103.2 1456.3l-5.7 28.1M594.5 704.6l-24.9 11.8M1105.4 1360.2l-3.6 16M1483.5 1222.4l4 22.4M582.9 1225.4l-14.6 17M948.2 440.6l-25.3 5.6M736 763.8l-19.9 13.7M1215.9 259.4l-14.8 -12.8M1069.8 635.7l-6.4 7M725.9 597.8l-11.7 4.7M1349.5 1037.2l0.5 15.8M730.3 936l-17.8 17.2M290.8 394.5l-21.2 0.8M1017.6 685.5l-10.4 11M1228.5 1326.4l-1.7 16.3M1392.4 398.5l5.6 3.7M301.7 1070.5l-27.6 19.2M1502.5 1318.3l1.9 10.6M1275.3 163.7l-6 -22M1642 253.4l24.4 -8M1216.5 112l-3.4 -7.4M1094.9 481.7l-12.2 6.6M964.9 504.4l-12.3 5M1226.4 201.8l-8.9 -13.4M1501.9 975.9l4.9 17.4M1079.3 313.3l-20.8 -3.6M1512 1086.8l2.9 11.5M1050.5 427.4l-14.6 3.7M1383.2 265.5l7.3 -11.9M1039.2 865.3l-7.3 12.8M541.9 1059.7l-14.5 13M1165.1 1216.3l-3.3 17.6M1586 233l22.3 -10.7M848 958.2l-16.8 21.1M739.1 1363.9l-6.5 11.1M378.7 176.8l-24.1 -4.6M1484.3 418.6l13.2 5.3M1633.3 330.9l19.2 -1.6M944.7 299.1l-9.7 -1.4M421.8 1243.3l-9.3 9.2M879.6 867.2l-20.2 23M484 437.9l-26.2 2.5M541 776l-18.3 9.7M1377.7 464.9l5.6 12.2M516.7 761.6l-13.4 6.7M1157.4 494.3l-6.8 5.5M598.2 273.9l-18.3 -2.1M582.2 493.9l-28.8 5.3M1460.1 851.6l3.6 13.5M763.5 327.1l-20.9 -1.1M809.8 560.9l-16.4 6.5M1670.5 684.3l19 18.3M1182.3 1426l-4.6 33.5M1404 323.3l14 -6M365.1 413.8l-33.4 2M1391.6 269.6l4.6 -6.3M1668.5 1308.6l3.9 10.9M1142.1 710.3l-8.6 16.5M512.9 403.1l-27 1.6M1019.1 1489.2l-4.2 15.2M671.8 759.2l-26.1 16.1M1063.3 487.4l-8.8 4.4M746.8 1065l-17.3 21.1M1598.1 807.5l10.4 17.4M392.2 474.5l-25.4 3.2M293.8 951.2l-24.3 14M1172.8 1026.3l-6.7 29.1M1603.8 1297.1l7.4 25.2M1070.3 385.1l-23.7 2.7M639.5 735.1l-25.7 14.1M1607.6 515.3l12.2 6.9M423.6 1056.6l-9.5 7.4M1136.4 804.6l-4.8 11.2M1632.4 398.2l13.7 1.9M1617.8 779.9l13.3 19.5M1075.6 1184.1l-5.4 17.8M967.9 818.9l-7.1 9.2M901.4 197.7l-11.5 -4.3M1303.6 278.4l-4.1 -13.1M351.5 656.7l-16.8 5.2M1084.8 551.9l-10.2 8.2M1486.6 217.3l9.6 -8.4M1538.4 305.6l11 -2.6M536.8 569.6l-22.6 6.1M1600.9 422.2l22.4 5.4M1610.9 492.3l22 10.6M1532.8 898l4.7 12.5M1562.9 899l10.5 24.3M634.8 1360.8l-18.9 27.4M695.1 1240.8l-7.3 10.1M1224.8 1044.7l-5 33.6M1151.8 438l-12.5 5.8M505.4 678.5l-10.7 4.2M1624.3 1314.4l6.3 20.4M1646.9 104.6l11.5 -9.1M1315.1 200.3l-1.6 -19.1M1657.2 1018.1l12 24.1M1414.3 551.7l4.7 10.7M1529.4 721.6l9.4 17.1M409.5 510.2l-11.5 1.9M1385.3 526.7l7 20.8M835.2 675l-9.7 6.3M740.5 260.5l-21.9 -3.6M593.7 1248.3l-18.2 22.1M1511.7 212l15.9 -12.5M1470.5 962.2l4.6 19.6M743.9 503.7l-25.9 6.6M1584.3 113.1l18.3 -17.4M802.9 982l-18.4 21.9M1668.4 1166l4.6 11M386.7 402.8l-19.4 1M632 1425.4l-7.2 11.1M509 594.6l-31.9 9.3M346.2 545.3l-19.3 3.7M869.9 872.9l-13.9 15.7M1194.5 262.1l-13.5 -9.5M960.2 1000.9l-6.3 11.1M1332.4 473.6l0.7 19.9M1245 231.3l-10.4 -15.6M602.3 649.2l-26.6 10.8M634.6 677.7l-9.4 4.4M1279.6 1147.3l-1.2 19M1242.4 376.5l-6.4 1.5M1101.3 769.8l-5.6 10.1M1222.5 167l-5.4 -9.6M1015.8 516.2l-9.1 4.7M1244.1 738.4l-3.5 15.8M1330.1 800.1l0.1 13.2M608.1 234l-13 -2.2M308 385l-11.7 0.3M1380.6 428.9l7 9.8M628.2 226.5l-27.5 -5.1M1316.2 872.3l-0.6 25.1M1263.4 309.2l-12.2 -8.8M1431.5 662.7l6.3 18.6M1156.4 256.2l-18.1 -10.5M966.7 844l-19.3 26.1M1314.7 399.1l-4.6 15M578.2 439.1l-23.2 2.6M1180.9 400.7l-20.6 6.3M364 776.9l-19.9 8.7M1399.6 1373.3l1.6 22.3M1026.7 1034.8l-5 11.3M1053.1 986.2l-4.6 10.5M991.4 233.6l-18.6 -6.8M676.7 559.8l-27.4 8.6M1266.6 344l-11.5 -2.3M342.4 1160.7l-7.9 6.5M1384.3 577.9l2 7.7M1648.6 417.7l16.3 3.1M1514.1 990.9l7.4 25.2M1154 405.3l-8.1 2.3M717.8 400l-18.8 1.4M1615.7 529.3l17.6 10.6M1316.3 488.8l-1.8 20.2M552.9 1044.9l-18.3 16.3M389.6 459.7l-31.7 3.5M1562.2 1053l10.3 30.5M1347 430.4l3.7 14.6M1581 827.5l6 11.1M1240.2 516.8l-5 9.1M1354.1 284.3l4.6 -12.7M527.5 583.7l-28.1 8M401.6 1296.1l-14 14.2M948.1 247.7l-10.7 -3.1M1496.5 608.6l14.6 21.9M799.3 1345.6l-8.5 15.9M336.2 643.8l-23 6.7M823.5 178.6l-19.6 -6.9M665.4 1466.5l-8 13.4M1479.5 399.3l17 4.9M1223.2 192.8l-4.1 -6.4M771.4 305.9l-24.9 -2.2M1282 669.6l-2.3 16M1308.7 942.5l-0.5 16.6M1095.7 521.3l-17.5 12.4M1429.7 733.6l4.9 18.1M1384 498.7l6.2 15.7M1253.1 342.4l-7.6 -1.4M1311 242.4l-1.5 -10M1569.8 563.8l18.3 15.8M896.7 601.1l-24.3 13.8M659.9 1217.5l-6.7 8.7M1187.7 1318.5l-2.4 16.1M1160.4 283.5l-9.4 -4.1M1183.5 552.6l-7.4 10.1M998.6 638.8l-15.2 13M368.7 298.3l-17.7 -1.1M1504.5 987.1l6 21.5M1196.5 442.3l-11 7.2M1138.4 1070.4l-8.3 31.3M1093.6 505.4l-19.7 12.6M402.6 733l-20.1 8.2M1408.4 495l3.8 6.5M1285.4 534.4l-2.1 9M689.1 469.9l-11.5 2M412.4 368.5l-20.9 0.3M480.9 1256.7l-13.9 14.8M1593.6 1293.8l8.9 31.3M799.8 1082.6l-9.1 12.6M1255.8 213.1l-9 -17.9M1143.4 266l-17.6 -8.6M1636.1 744.7l6.4 8M1556 822l6.6 13.5M1154.3 1452.1l-4.3 27.1M403.6 163l-29 -6.1M978.2 654.6l-15.5 13.3M706.1 765.7l-13.9 9.2M1591.2 996.9l10.6 25.9M1378.6 968.4l2.4 29.5M1498.1 466.5l6.1 4M1222.5 884.1l-4.3 21.5M697.2 855.7l-18.5 14.7M690 590l-12.7 4.7M816.2 122.3l-17.6 -8M1266 466.4l-5.8 10.4M1276.6 659.5l-3.7 22.1M1459.9 407.4l15 5.9M1016.1 478.5l-16.8 6.6M1198.7 403.9l-13.2 4.9M731.6 567l-30.6 10.8M1161.5 627.3l-9 14.6M861.8 577.9l-10.3 4.9M1478.9 302.5l16.7 -5.9M830.3 550.4l-17.4 6.8M1057.8 450.5l-16.6 5.8M1591 615.7l17.4 17.2M1218.8 601.1l-4.1 9.2M597.9 756.2l-27.4 15M1234.4 288.1l-7.9 -5.7M1520.8 396.5l7.6 1.6M900.8 422.9l-27.6 4.3M1302.3 288.4l-6.5 -17M1110.2 248.7l-15.9 -7.8M1187.8 301.5l-14.5 -5.6M682.4 696.1l-13.1 6.9M1023.6 231.6l-15.2 -6.2M1594.9 1250.8l3 10.2M457.8 954.3l-9.7 6.7M1277 633.1l-2.2 12M1509 848.9l9.4 25.7M1158.2 261.6l-18.9 -10.5M847.5 712.6l-9.4 6.9M721.8 1265.1l-9.6 14.4M1521.1 1271.7l2.1 9.9M1243.3 1492.1l-1.1 14.2M726.5 683.7l-8.8 4.8M1317 247.5l-1.3 -12.4" stroke-width="3.7"/><path d="M1400.5 192.7l6.5 -14.6M358 217.2l-15 -2.1M832.4 1257.6l-7.5 13.6M959.5 1070.5l-10.6 20.5M1451.8 213.5l10.8 -12.4M457.7 749.8l-21.2 9.6M1390 559.7l3.8 12.5M630 692.5l-27.8 13.4M687.7 217.5l-21.8 -4.7M1440 509.6l9.5 13M1654.1 328.8l16.1 -1.3M964.2 626.1l-9.6 7.1M657.9 504.7l-31.9 7.1M1359.6 132.8l3.1 -22.1M1571.3 323.3l19.3 -2.6M709.9 517l-20.4 5.3M1660.1 899.3l16.8 27.4M1181.3 721.8l-4.3 10.8M899.1 1393.8l-9.5 22.9M1231.8 310.6l-14.7 -7M1155.6 1171l-6.8 32.1M469.2 522.9l-19.4 3.8M800.9 1258l-12.2 20.9M766.3 1340.1l-13.9 24.3M327.7 439.4l-29.3 2.4M717.8 1180.7l-11.2 15.1M1367 384.6l10.9 7.9M401.7 523.7l-23.7 4.3M1358 242.8l2.5 -9.5M669.3 670.3l-20.2 9.6M1509.2 567.1l15.1 17.6M365.6 1043l-16.1 11.5M863 289.4l-25.7 -3.7M811.5 385.4l-20.5 1.2M1304.2 1271.1l-0.4 15.4M1591.6 619.7l9.9 9.9M1426.7 860.3l5.8 29.8M1067.9 535.3l-18.6 12.8M1541.3 533.6l14.1 11.7M700.9 779.6l-8.5 5.8M327 953.9l-16.9 10.1M1254.9 238.7l-9.7 -15.6M986.6 498.7l-11.8 4.9M1270.1 1046.4l-2.7 32.5M303.1 1031.5l-9.1 6M483 671l-28 10.4M1321.6 418.9l-1.2 11.9M439.2 996.9l-19.7 14.2M519.4 1319.9l-10.1 12.1M848.4 466.6l-29.9 6.9M1264.8 616.2l-3 12.2M500.2 1077l-14.4 12.6M1412.1 164.6l7.2 -16.3M660 348.3l-21.4 -0.2M328 1067.8l-19.5 13.9M1345.7 181.4l1.9 -19.2M1368.2 358.8l12 0.8M1453.5 413.4l9.2 4.2M1291 313.7l-7.3 -8.4M1266.2 109.2l-5.6 -22.2M895.9 218.6l-13.7 -4.4M653.4 191.9l-10.9 -2.7M505.8 815.6l-12.7 7.1M1170.9 454.7l-13.9 8.7M1298.8 540.6l-1.4 8.7M999.4 992l-12.3 23.7M370.2 1176l-11.5 9.8M740.1 885.9l-7.9 7.2M1252.7 476l-10.3 16.4M799.9 259.8l-29.4 -5.4M1559.4 1105.3l3.1 10M1600.3 851.1l13 23.7M335.4 148.2l-18.1 -3.8M838 416.6l-28.5 3.5M1310.6 295.1l-3.5 -12.3M626.6 719.9l-16.1 8.3M1272.5 260.3l-6.8 -11.7M571.4 878.7l-19.4 13.4M900.5 819.3l-21.4 23.2M1595.7 1079.2l5.1 13.7M1368.3 360.4l14.5 1.6M738.4 669.6l-11.2 5.9M1349.7 309l6.9 -15M1428.9 313.8l18.4 -7.7M1524 336.6l13.1 -1.3M801.8 983l-20 23.9M679.1 711.7l-22.5 12.3M1525.1 1097.6l5.8 21.8M583 1103.3l-21.1 21.2M375.8 649.9l-20.9 6.5M486.6 610.6l-28.3 8.6M1016 336.7l-12.8 -0.8M1629.6 1179.6l10.6 28.8M1017.5 165.4l-23.8 -14.6M1405.2 441.7l9 10M588.6 1229l-6.8 8M1288.9 504l-4 15.2M786.8 1129.1l-18.1 25.9M849 1216.2l-8.1 14.6M1566.3 1098.8l3.1 9.5M401.5 610.3l-24.9 6.8M948.5 1280l-9.1 22.2M1015.6 1044.5l-13 28.6M1414.3 888.3l2.8 17M1014.7 1292l-9.4 27.9M827.5 1380.3l-12.9 26.5M379.4 1076.1l-19.5 14.8M1027.7 358.2l-10.4 0.1M1439.6 134.1l8.5 -16.9M1144.7 332.4l-12.7 -1.6M1360.9 303.3l5.2 -8.4M566.2 542.8l-15.8 3.9M1154.8 626.4l-13.6 21.3M386.4 210.1l-26 -4M585 478.5l-24.4 4M434 522l-21.8 4M1119.7 634.7l-13.7 18.4M446.1 1141.6l-8.7 7.7M1529.7 531.8l10.5 9.1M1025.6 177.7l-18.6 -11M968.3 314.8l-22.1 -2.5M393.5 1095.4l-12.2 9.6M437.2 1131.5l-24.9 21.7M754.1 577.9l-20.7 8M915.6 535.4l-22 9.6M1621.2 1347.6l5.2 17.5M1616.9 500.5l16.2 8.1M1495 859.7l9.6 28.9M947.1 546.8l-17.8 8.9M550.8 586.5l-27.9 8.3M1236.3 1336.9l-1.7 18.6M1416.2 982.1l1.5 10.8M737.1 570.6l-22.1 8M1375.4 642.1l2.1 12.4M1032.2 763l-18.6 25.6M620.4 1212.7l-18.8 22.8M1331.6 855.9l0.2 22.7M1654.1 879.5l15.3 24.5M1479.5 455.9l14.3 9.4M971.8 962.7l-16 27.2M1524.1 140.2l6.8 -7.5M1052.6 479l-15.5 6.9M1485.2 632.3l13.4 23.6M543.9 927.5l-10.4 7.6M940.6 602.4l-8.9 5.6M1083.9 338.5l-17.4 -1.2M1071.6 172.7l-13.6 -9.8M693.8 194.3l-19.3 -4.9M1021 1447l-3.6 12.6M1592.8 396.8l24.3 3.7M867.6 681.3l-14.3 10.1M1652.3 581.7l23.7 16.5M1290.3 514.4l-3 12.7M700.9 284.4l-18.6 -2.1M416.4 1189.7l-24 21.9M281.6 272.9l-32.8 -2.6M1094.6 148.2l-7.2 -6.4M807.4 116.4l-16.4 -7.6M1036.5 978.4l-8.6 18.4M840.4 853.3l-23.7 24.1M699.2 108.7l-11.3 -4.4M1475.3 580.9l12.8 19.6M678.1 793.9l-26.5 17.9M1439.3 601.8l4.7 10.3M1135.2 518l-12.8 10.7M1509.1 838.7l7.6 20.4M1049.4 963.5l-10 21.9M1286.7 1002.7l-1 15.5M1385.7 128.7l2.9 -11.4M530 779.5l-10.9 5.8M718.4 765.4l-18.1 12.1M1027.7 431.4l-19.5 4.9M1531.5 1097.8l3.9 14.2M1318 294.1l-1.2 -7.6M988.9 1064.7l-13.4 28M1194.7 800.6l-5.1 17M1485.1 1381.7l2.3 15.1M584.9 618.6l-11.5 4.1M1652.7 551.2l10.1 6.1M1145.5 192.6l-17 -15.2M1184.3 767l-3.5 10M1185.9 543.3l-7 9.2M434.2 578.8l-25.8 6.4M1153.3 483.5l-14.4 10.5M1477.8 924.2l8.3 31.5M434.5 240.9l-32.4 -4.2M316.3 847.9l-13.2 6.4M1464.2 179.4l15 -19.5M1590.3 1010.4l7.7 19.1M869.6 1222l-9.8 18.5M1283.2 290.5l-7.7 -11.3M1360.8 269.6l4.9 -13M1038.1 1149.3l-8.4 22.9M1499.2 124.9l6.6 -8.9M1659.5 383.3l20.1 1.7M1022.4 224.9l-25.8 -11.1M769.8 653.7l-23.5 12.5M1403.3 282.6l7.3 -7.1M320.6 629.1l-24.9 6.8M786.7 931.6l-7.5 8M1254.6 375.1l-9.9 2.6M1022.8 276.1l-19.5 -5.1M1327.9 494.8l-0 15.6M1067.6 1081.8l-6.5 18M1382.7 1339.9l0.7 11.8M1165.3 286.2l-9 -3.9M1233.4 145.2l-9.1 -20.2M622.9 596.8l-12.9 4.4M873.2 1391l-6.9 15.8M1000.6 943.7l-9.8 17.6M1421.3 557.4l8.9 19.2M481.9 138.1l-29 -7.5M1013.9 606.5l-17.9 14.3M1539.4 1238.8l7.6 31.9M1177.1 1183.9l-3 16.4M1424.9 730.2l3 11.5M1298.3 785.3l-1 14.2M1315.2 250.7l-2.2 -18.4M903.2 449.3l-25.2 5.5M280.3 714.6l-31.5 10.8M1479.9 845.8l4.9 15.9M1535.1 1337.5l5 23.7M1168 115.5l-12.7 -19.1M873.5 1392.4l-5.9 13.5M1355.2 928.5l1.2 26M1287.4 567.6l-2.5 13.3M1552.6 249.6l10 -4.7M1090.7 1450.5l-6.9 31.8M741 462.6l-17.2 3.1M1369.4 995.2l0.8 11.9M836.5 383.2l-19.9 1.1M682.2 969.9l-9.7 9.3M1427.6 345.5l11.9 -1.3M623.2 808.4l-16 10.3M1168.2 563.7l-5.4 7.1M898.2 1053.8l-16.1 26.2M967.5 243.4l-25.7 -8M467.1 667.9l-11.1 4M1470.9 550.3l10.7 14.5M1364.8 1211.5l0.7 16.9M885 1218l-9.1 17.7M408.5 557.5l-27.8 6.1M1548.8 813.8l4.9 10.2M1354.1 508l3.6 21M1237.9 491.2l-9.4 14.1M1444.9 532.6l4.3 6.4M709.4 898l-18.8 16.4M1589.1 620.7l17.1 17.3M843.8 565.4l-20.8 9M405.7 618.6l-23 6.5M1444.7 398.9l15.8 5.8M1056.2 380.2l-23.2 2.1M1258.4 220.9l-5.3 -10.3M1010.5 559.5l-23.2 14.9M1229.5 325l-6.7 -2.1M1137.4 718.2l-10.1 19.2M433.1 1058.2l-12.3 9.7M1593.6 294.5l25.3 -5.9M1556.8 304.2l18.7 -4.2M1582.1 501.3l13.8 7.9M1321.6 1066.8l-0.2 27.3M476.5 1313.3l-7.8 8.7M783.6 750.9l-12 8.7M1216.9 932.4l-2.1 10.9M520 1290.4l-10.4 12M1346.9 573.2l0.7 7.6M441.8 1297.5l-18 19.2M1344.6 524.3l1.5 15.3M570 1246.5l-21.6 25.4M1139.6 514.2l-7.2 6.1M894.6 1249l-5.5 11.3M1624.6 219.5l18 -8.3M575.4 312.6l-31.8 -1.8M1255.7 410.6l-5 3.8M607.1 1045.2l-15.9 15.2M1434.6 1172.7l1.4 10.9M1417.6 637.9l4.8 15.1M978.6 877.1l-11.2 16.7M799.9 293.4l-28.6 -3.4M1292.5 337.6l-7.8 -4.1M843 673.2l-17.2 11.2M1088.4 456.2l-16.7 7M1643.6 360.2l14.8 0.2M1064.4 461.7l-21.3 8.5M1229.4 339.8l-11.1 -1.8M942.9 761l-12.8 13.4M1141.2 357.6l-12.7 0.1M1227.6 499.7l-9.6 13.7M944.4 703l-7.8 7M813.8 1498.4l-12.9 28.6M1391.3 1011.3l2.8 29.4M756.4 315.4l-17.3 -1.2M1007.6 215.3l-10.6 -4.7M1390.8 670.1l4.2 20.9M1277.9 432.3l-3.8 5.8M565.8 632.3l-28.8 10.4M1017.8 175.9l-21.4 -12.4M1369.6 376l15.9 7.6M1455.5 145l5 -8.2M655.5 143.1l-13.1 -4.2M748.9 860.2l-22.1 19.2M536.1 145.5l-31.2 -8.3M1418.8 1433.1l2 24.2M344 1004.2l-10.2 6.7M1202.2 773.7l-8.6 28.5M1583 915l12.5 27.3M1484.2 1009.3l6.9 29M1161.1 242.6l-18.9 -12.9M1461.7 378.3l20.2 3.4M437.7 950.5l-12.9 8.6M902.1 1345.5l-9.2 21.4M1341.4 667.3l0.5 10.9M639.6 1076.9l-13.4 14.1M836.9 288.5l-33.1 -4.6M1167.4 742l-6.3 15.1M1655.5 956.9l12.5 22.9M965.7 916.4l-5.8 9M1431.6 733.9l3.3 12.1M1392.7 411.3l12.7 10.8M1111.7 629.3l-6.3 7.9M826.4 1375.9l-10 20.3M556 824.9l-14.5 8.8M982.1 189.5l-23.8 -11.5M1015.5 1423.4l-7.8 26.5M1074.5 833.8l-10.6 20M1395.9 183.4l8.4 -21.4M1123.9 292.4l-14.6 -4.6M1286.5 394.1l-11.8 10.8M698.2 560.6l-9.7 3.2M1060.4 192l-23.3 -14.3M1602.4 983.3l8.8 20M1520.9 267.5l7.7 -3.5M654.7 1199l-15.6 19.5M1212.7 336.1l-20.6 -3.6M982.5 206.2l-11 -4.8M884.7 248.4l-24 -5.8M1325.3 260.8l-0.5 -17.5M1323.6 598.1l-0.4 24M1517.6 1081.5l4.8 18.4M700.9 1256l-9.5 13.7M952.2 996.7l-16.7 28.5M431.1 664.8l-26.2 9M507.3 616.1l-13.9 4.4M1556.3 586.2l8.4 8.4M1119.9 475.7l-10.9 6.3M1230.6 223.9l-7.7 -10.4M1365.7 856.9l2.5 33.8M1672.6 188l19.3 -9.4M1654.6 596.4l11.2 8.2M1385.2 1224.1l1 15M629 973.2l-8.1 7.1M681.8 393l-12.9 0.7M980.5 851.6l-15.8 22.5M740.7 1201.5l-11.3 16.3M1568.5 320.8l17.2 -2.5M1578.6 1454l4.6 20M540.4 556.7l-28.8 7.3M615.4 1067.3l-23 23M1170.1 803.8l-9.3 26.5M1079.2 1245.5l-8.9 31.9M616.9 336.2l-30.4 -0.8M964.1 99.3l-25.7 -18.1M1094 387.7l-7.6 1M571.6 894.8l-21.1 15M830.7 523.5l-20.7 7M790.9 331.1l-25.7 -1.2M1198.2 1019.1l-4.3 21.7M834.4 218l-15.6 -4.4M394.6 1250.7l-16.9 16.2M462.8 396l-29.9 1.4M504.5 1098.4l-11.1 10M830.9 331.2l-15.5 -0.8M1309 390.3l-3 5.5M672 1330.1l-10.1 15M1569.1 408.2l9.4 2M520.9 574.2l-30.9 8.4M910.6 306.7l-15.5 -1.8M1152.9 669.3l-9 16.2M1444 377.3l14.2 2.6M1403.7 1418l2.2 30.9M1386.7 221.7l6.2 -14.1M1588.2 952.9l7.1 16.3M1438.2 506l11.2 15.2M584.6 166.6l-21.6 -5.5M1233.5 1369.9l-1.4 15.3M1423.1 407.5l18.1 9.8M1134.9 1005.3l-7.9 26.5M1250 464.7l-5.9 8.2M865.1 520.5l-24 8.5M1271.6 230l-8.1 -18M1458 696.6l3.7 9.7M765.7 314.1l-30.8 -2.3M828.6 114.3l-25.7 -12.4M1178.8 201l-6.4 -6.7M784.8 1427l-6.1 12M1109.4 271.6l-14.1 -5.5M1359.7 825.5l1.3 19.1M1449.9 256.8l9.4 -7.6M1180.1 468.3l-18 13.7M1186.7 1039.5l-5.9 28.3M1534.6 1093l6.7 23.8M1556.2 709.3l10.8 16.7M853.9 432.2l-18.8 3M1163.8 105.7l-14.3 -21.8M1484.7 698.2l8.1 17.8M515.8 304.8l-27.5 -1.7M1018.5 752.2l-8.3 10.6M552.6 679.9l-16.6 6.9M1307.8 211.6l-1.3 -9.5M1311.5 468.5l-2.7 18.3M1118.3 156.3l-12.2 -11.6M1103.5 203.2l-21.6 -14.7M551.2 807.4l-21.3 12.4M597.5 1417.5l-10.2 14.9M442.2 369.8l-31.6 0.5M605.3 381.5l-31.2 1.1M1366.3 742.4l2.6 25.9M1565.6 914.9l4.8 11.3M403.3 1185.9l-24 21.5M851.9 148.5l-9.8 -4.3M1039.9 843.2l-10.1 17M1340.4 190.2l0.7 -9.9M1669.5 942.2l11.8 20.3M1601.5 266.1l17.8 -5.8M1488 426.7l20.2 8.9M606.7 876.2l-19.8 14.3M1511 666.6l4.5 7.7M1211.5 171l-11.9 -18.9M1062.9 348.6l-10 -0.3M1192.8 390.3l-20.2 5.1M1208 271.7l-5.5 -3.9M1185.3 406.5l-20 7.1M1671.4 353.3l11.2 -0.1M1676.1 743.5l19.3 21.5M304.9 769.6l-13.2 5.3M1195.4 138.3l-10 -16.3M871.7 590.2l-25.1 12.9M920.3 1110.7l-11.7 21.7M625.9 160l-30.5 -8.5M1300.4 100.7l-2.6 -23.8M698.2 1343.5l-17.5 27.4M1561.4 1083.3l10.2 31.8M1247.6 1300.6l-2.2 25.9M1458.6 868.1l3.1 12.1M1654.3 599.3l20.9 15.5M881.3 828.7l-17.6 18.6M1191.1 513.9l-10 11.5M444.5 446.3l-18.7 1.9M758.6 297.7l-11.6 -1.2M1361.8 792.2l1.3 17.1M947.4 1380.7l-7.1 19.1M1271.5 1228.3l-1.7 25.9M1006.6 646l-20.7 18.6M1465.6 795.8l9.5 30.3M1570.5 276l15.4 -5.1M1421.3 428.1l13.6 10.5M411.5 830.2l-24.2 12.5M567.6 669.6l-29.9 12.3M1439.1 325.3l11.3 -3.1M1202 156.9l-4.4 -6.9M552.8 193.4l-27.5 -5.8M914.4 311.5l-22.7 -2.4M1197.9 1053.2l-3.8 20.5M1082.8 175.5l-11.1 -8.1M1648.6 784.8l19.6 26.2M502.4 1201.4l-20.9 21.4M1663.9 281.9l10 -2.2M1602.3 300l8.6 -1.8M1089.1 139l-17.5 -15.9M978.3 392.1l-17.6 1.8M1251.6 259.5l-6.1 -7.7M326.5 715.4l-22.3 8M1210.1 573.4l-10.6 19.6M1018.1 419.4l-17.2 3.5M1452.1 1477.5l3.3 29.9M1651 622.6l8.1 6.7M1287.8 829.4l-2 23M1262.7 532.4l-3.8 10.2M1554.9 284.5l16.6 -5.2M1538.6 540.4l18.9 16.5M650.6 1284.6l-12.3 16.8M1107.5 497l-7.7 5M1378.4 482.7l6.6 16.5M1036.5 971.9l-13.3 28.2M950.6 359.4l-19.2 0.2M1415.3 758.4l5.4 25.1M1298.3 150l-1.7 -12.1M1386.6 659.5l2.7 13.8M1537.2 386.2l11.3 1.6M1272.9 685.1l-3.5 20.9M1486.7 688.6l12.3 25.7M1249 460.3l-5.6 7.4M1155.4 273.9l-10.5 -5M1147.3 1437.4l-4 23.8M679.5 772.5l-25.8 16.6M1651.1 526.8l19.9 10.5M503.1 492l-15.5 2.6M902.4 1053.6l-10.3 16.9M1289.4 996.9l-2 33.5M934.3 142.9l-13.1 -7.1M1217.2 1276.8l-1.6 12.9M1448.7 499.5l13.7 16.3M939.1 733.1l-10.6 10.3M530.3 753.8l-28.7 14.3M748 416.1l-26 2.7M1168.1 717.9l-5.1 11.6M944.4 933.2l-18.6 28M1248.7 386.3l-12.2 4.7M1451.2 264.4l6.3 -4.7M759.9 494.1l-27 6.6M1161.9 287.2l-13.9 -5.8M1284.6 746.6l-3.3 30M1403.3 885.9l2.7 19.1M389.7 168.7l-11.9 -2.4M545.7 190.9l-24.6 -5.2M355.3 790.5l-30.6 13.7M971.2 563.8l-20.4 11.9M1067.5 1016.8l-7 17.9M1358.4 718.9l1.3 15.6M1057.2 197.8l-12.7 -7.4M1165.5 530.9l-13.6 14.7M1351.7 972.7l1.2 30.4M1592.5 1481.2l2.9 12.4M1271.9 186.4l-4.1 -12.5M1080.3 774.7l-13.4 22.7M1240 293.5l-14.8 -10.5M1184.5 1377.8l-3.7 26.7M1401.8 370.6l10.7 2.1M667.4 1310.3l-19 27.4M1265.8 412.3l-10.5 9.5M1236.4 1126.4l-1.9 16.3M1202.4 420.6l-17 8.7M1251.1 463.5l-11.2 15.6M1211.8 1423.2l-1.4 12.8M1450.8 596.6l5.9 11.6M1216.9 1090.1l-3.6 24M446.5 1022.3l-22.6 17.1M541.7 1243.2l-9.8 11M1025.9 459.6l-8.6 2.9M1243 556.6l-4.2 9.9M977.3 182.7l-8.1 -4M1521.8 468.3l16 9.3M1467.1 270.8l14.6 -8.9M1664.2 749.3l7.5 8.7M948.9 696.5l-21.8 19.6M648.1 1428.6l-9.7 15.3M1258.3 271l-8.4 -10.3M1494.6 906.3l3.2 10.5M435.6 369.7l-29.4 0.5M1637.8 182.1l23.4 -13.2M464.2 928.3l-20.2 13.4M1552.8 707.7l5.4 8.4M851.3 617.2l-10.2 5.6M362.3 220.1l-16.7 -2.4M1175.8 1503.7l-1.9 14.6M1366.6 297.4l8.4 -12.7M1018.1 316.9l-27.1 -3.4M1116.5 149.9l-13.2 -12.9M1237.3 273.1l-14.2 -13M1279.8 481.5l-4.5 11.6M1262.8 1093l-2.2 24.6M1664.6 1016.3l8.7 17M1376.6 1086.4l2 29.8M1536.2 1026.4l9.3 29.8M1223 124.7l-6.1 -13.4M1287 162.7l-2.9 -13.6M1499.5 437.5l15.2 7.2M386.7 439.3l-14.8 1.3M692.8 1387.1l-5.3 8.7M784.8 725.6l-15.4 10.5M1219.7 118.5l-4.9 -10.8M747.1 1271.9l-9 14.3M1097.1 416l-16.9 4.4M516.2 279.2l-19.5 -1.8M751.4 1273.1l-5.8 9.2M727.2 505.5l-22.1 5.5M493.3 243.4l-23.2 -3.1M1097.5 716.1l-9.7 15.2M1634.8 260.9l22.8 -7.1M997.3 1436.9l-8.3 27M1674.8 948.2l5.5 9.5M637.1 1337.1l-6.2 8.9M316.2 480.8l-22.3 2.8M733.2 294.5l-14.2 -1.5M1068.6 1175.6l-3.9 12.3M760.6 1470.8l-6.1 11.9M1204.4 641.8l-4.3 10M1649.8 1457.2l3 10.1M1510.4 750.5l10.4 22.5M905.9 1011.6l-17.7 27.4M1279.5 142.2l-4.7 -20.6M1535 494l17.6 11.7M1152.4 557.5l-5.7 6.6M1325.8 458.6l-0.1 6.3M389.7 734.3l-28.4 11.5M950 797.9l-16.3 19.1M1388.3 1470.6l1.8 33.7M1332.9 279.9l0.5 -8.2M1654.6 750.8l21.4 25.8M1320.3 244.7l-1 -15.1M1493.9 953.5l7.7 27.8M1542.1 328.9l18 -2.3M1504.9 662.8l5 8.6M1610.6 1211.5l9.9 30M1676.9 1419.9l3.4 10.3M1424.8 1127.8l1.6 12.5M999.3 487.3l-21.3 8.5M1255.8 383.5l-6.5 2.5M1330.8 273.9l0.6 -16.4M1461.2 813.7l5.8 19.9M1114.1 1125.2l-7.8 27.9M1527.5 377l9.9 1M733.9 342.3l-14.8 -0.3M1555.3 774.7l9.3 17M1145.1 452.2l-13 6.8M1306.6 266.2l-3.9 -16.5M800.5 125.6l-13.8 -6M1599.5 910.6l14.5 29.7M1644.2 687.2l22.1 23.1M717 742.8l-27.7 17.6M597.8 369.2l-13.6 0.2M1195.9 1254.1l-3.3 22.5M634.8 831.6l-25 17.1M547.1 1203.1l-13 14.1M1622.4 211l15.6 -7.7M1237 536.2l-10.3 20.4M1565.9 1052.3l8.4 24.6M375.9 503.4l-15.7 2.4M905.7 1073.5l-6.6 11.2M626.3 422.7l-33.7 3.2M1297.1 502.2l-2.8 13.1M797.8 442.2l-10.1 1.6M1587.8 234.3l14 -6.5M746.3 321.1l-24.4 -1.5M797.3 1112l-17.6 25.1M497.8 1028.3l-13.1 10.6M1048.3 126.1l-14.8 -12.2M360.7 154.2l-24.5 -5.1M797.5 871.4l-7.5 7.3M1293.3 371.4l-15.2 6.8M801.3 871.9l-7.7 7.6M1545.6 619.3l12 14.5M1365.9 192.5l2.8 -12M754.3 499.6l-32.1 8M781.3 111.4l-10.4 -4.7M1375 250.7l5.5 -12.4M1468.6 824.4l9.6 32.1M738.9 680.7l-22 12.1M1091.3 551.1l-16.6 13.7M1045.3 429.4l-8.9 2.3M1610.3 174.1l8.6 -5.5M1620 131l21.4 -16.5M1664.5 178.4l20.2 -10.7M1067.4 796.3l-12.3 20.7M591.1 1219.7l-8.3 9.7M1100.4 210.3l-14.1 -9M721.3 841.2l-14.7 11.8M578.8 656.7l-21 8.4M1491.3 464.5l7.9 5.3M668.9 1184.8l-9.4 11.8M1624.5 744.2l10.3 13.4M1365.8 224.7l3.2 -11M1176.4 673.4l-4.7 9.8M1182.2 865.9l-5.3 18.7M333.1 246.6l-18.5 -2M1499.9 288.3l16.4 -6.5M1539.6 997.5l7 21.3M564 477.9l-27.2 4.3M935.7 533l-23.4 10.6M1492 264.3l8.3 -4.6M1435.1 273.8l10.8 -8.3M535.2 359.1l-23.4 0.1M972.8 240.4l-22.2 -7.2M685.7 1403.5l-9.8 16M1185.5 529.5l-5.3 6.4M603.6 1270.9l-17.8 22.5M1285.6 150l-4.7 -22.6M1383.2 1215.4l1.5 24M1315.4 425.2l-3 16.4M1199.8 321.8l-15 -4M1581.1 892.3l5.9 12.5M1552.8 445.8l16.5 6.6M1055 1108.6l-4.4 12M1002.4 1071.8l-11.8 26M1581 1009.9l11.4 29.5M1567.6 1445l3.5 16M1385.9 477.9l8.7 18.4M1422.6 1500.5l2.3 28M814.9 403.4l-28.7 2.6M721.8 138.4l-23.7 -8.5M1383.6 420.6l10.4 12.1M1629.1 449.1l20.1 6.2M1049.2 608.4l-22 19.9M733.1 359.8l-16.7 0.1M744.4 1291l-10.3 16.5M512.7 676.3l-23.3 9.1M1394.2 314.2l6 -3.8M988.6 859.9l-13.8 20.4M1253.7 221.1l-4.4 -8M1371.9 170.1l2.5 -10.4M1300.3 421l-6.4 15.1M662.3 938.8l-18 15.8M1296.8 1169.3l-1 27.2M1455.6 208.1l11.6 -13.4M1385.1 347.7l11.1 -1.6M936 158.6l-24.4 -12.3M1172.8 665l-3.9 7.8M1108.3 1072.3l-6.4 20.7M1070.2 740.9l-11.1 16.5M1665.8 550.3l9.3 5.3M1303.6 410.2l-3.2 7.2M918.8 219.7l-26.9 -9M639.5 1042l-20.8 20.7M1052.1 266.5l-22.1 -7.2M636.8 1305.7l-15.6 21.5M1313.5 306.6l-2.9 -9.9M906.8 1103.7l-16.1 28.7M1654.1 488.2l18.1 7.4M857.5 828.5l-21.7 21.8M1053.4 702l-11.5 14.5M1376.3 1116.8l1.4 21.9M434.8 190.8l-23.5 -4.3M1156.1 300.1l-6.6 -2.1M897.4 520.8l-18.5 7.1M759.1 731.1l-18.9 12.5M1110.8 298.2l-18.9 -5M1228.5 1262l-3.7 33.3M1401.7 1484l1.3 19.7M1590.6 306.9l12.1 -2.3M883.5 1248.2l-11.6 23.3M1453.7 241.7l9.3 -8.5M1145.5 1132l-5.7 24.1M1430.3 556.9l8.5 16.8M1321.2 484.5l-1.1 20.8M1238.3 536.8l-7.9 15.9M1156 1143.9l-5.7 26M1313.6 1283l-0.4 28.4M1507.8 356.6l20.3 0.1M1372 911.7l1.6 20M1166.6 1109.8l-5 23.4M888.4 1043.4l-16.6 25.9M1063.8 549.4l-11.5 8.4M1066 395.3l-17.1 2.6M479.7 1363.6l-21.8 25.9M1481.7 1199l4.6 25.1M1127.8 480.5l-14.5 9M1122.1 291.8l-9 -2.8M634.4 644.6l-28.5 11.8M488 602.7l-15.3 4.5M910.6 499.2l-15.4 5.3M590.6 1110.3l-21.1 21.5M1079.6 503.8l-18.1 10.8M1259.9 184.5l-5.2 -13.1M1401.8 1488.5l0.7 10.5M344.6 682.8l-9.9 3.3M878.9 289.1l-18.2 -2.7M516.9 648.3l-18.7 6.7M1064.9 703.9l-13.9 18.4M1237 342.9l-17.7 -2.5M1063 208.9l-13.2 -7.4M699.2 196.3l-16.5 -4.2M490.2 1341l-16.9 19.8M1293.9 748.1l-2.6 30.1M1292.7 421.5l-8.9 16.6M1543.7 504.1l13.6 9.3M1663.1 1099l14 31M1079.5 450.7l-18.5 7.1M1441.3 285.7l13 -8.1M1597 889.6l6.3 12.6M1038.4 384.5l-13.1 1.3M820.8 321.8l-32.4 -2.2M1329.6 1061.6l0 15.9M338.1 552.9l-9.9 2M303 776.6l-12.7 5.2M819.5 472l-33.1 7.5M1641.5 216.2l24.4 -10.9M657.5 1394.2l-10.2 15.8M724.7 424.4l-24.1 2.7M614.7 1024.1l-13.7 12.8M1503.2 376.1l13.5 1.5M1210 131.7l-11 -21M1648.4 1213.6l9.7 26M870.8 714.8l-11.1 8.7M990.3 1035.9l-6.2 12.5M955.1 134.9l-12 -7.1M1593.9 751.6l12.5 18.6M1264.7 1339.6l-0.8 11.7M1456.9 1162.6l4.5 27.9M349.7 209.1l-29.6 -4.4M1070.9 361.6l-13.5 0.3M837.3 718.3l-22.4 16.5M886.4 1220.9l-5.9 11.5M1269.4 541.4l-6.3 20M1107.1 367.6l-17.8 0.9M1223.1 283.3l-16.5 -11.4M913.5 909.5l-9.3 12.4M1501.6 875.2l10.4 31M1093.2 404.1l-9.7 2M1356.3 824l0.7 12.1M1063.1 588.1l-9.1 8M1625.7 226.5l23.4 -10.2M1033.2 525.5l-11.8 6.8M484.3 829.4l-21.9 12.3M1494.8 514.2l16.1 15.2M1210.9 248.4l-10.8 -9.9M1123.9 703.4l-10.5 17.9M1443 1389.4l1.8 16.4M1503.5 1138.2l6.6 29.3M495 868.3l-12.2 7.5M1325.8 636.7l-0.1 12.4M1444.8 1040.7l5.5 32.4M833.7 842.4l-19.3 19M831.7 176.1l-25.9 -9.4M802.1 617.7l-15.9 7.9M1450.3 854.8l3 12.3M1415.9 343.1l11.9 -1.8M985.9 1396.1l-6.7 20.3M1229 128.8l-5.6 -12.8M1009 344.9l-13.8 -0.5M816.8 451.4l-26.8 5M905.6 712.9l-8.5 7.2M1333 254l0.5 -10M373 280l-21.7 -1.7M1502.7 463.7l16.3 10M386.1 235.5l-28.7 -3.7M1279.4 795l-2.9 25.9M777 211.4l-32.8 -8.6M704.1 836.8l-8.6 6.7M1260.2 289l-13.8 -13.6M741.8 709l-29 17.5M1467.2 417.2l11 4.8M1491.7 462l15.2 9.9M812.9 513.3l-28.9 8.8M929.2 332.4l-15 -0.9M1087.4 637.9l-14.7 17.3M1348 788.6l0.9 19.8M1015.9 593.9l-19.6 15M753.4 599.1l-22.1 9.4M1610.6 204.8l9.7 -5.2M858.1 1075.2l-16.6 25.4M739.7 913.4l-14 13.3M1444.2 533.2l8.9 13.6M587 351.4l-25.7 -0.2M1190.6 1055.8l-3.8 19.1M1155.4 473.3l-8.4 5.7M874.4 773l-9.7 9M916.2 396.4l-18.7 1.8M458.4 649.3l-30.6 10.3M885.4 315.7l-21 -1.9M1633.2 488.4l19.8 8.6M1312.1 130.3l-1.1 -15.6M650.4 556.2l-19.6 5.8M1160.7 677.2l-11.4 22M762.2 682.3l-12.3 7.1M817.7 410.9l-23.6 2.5M1095.8 629.9l-15.2 17.9M573.7 1216.4l-13.3 15.2M412.5 736.4l-15.4 6.4M1291.5 1132.6l-0.8 17.9M1582.3 681.6l18.5 23.7M338.6 258.7l-11.1 -1.1M321.8 1111.6l-14 10.5M1418.8 1050.3l2.7 20.3M1381.9 801.1l3.1 26M1074.6 584.2l-17.5 15.7M1084 466.3l-23.3 10.5M894.2 1207.6l-5.8 11.3M1445.9 694.1l8.9 25.6M1339.7 292.2l2.4 -13.4M1462.7 320.6l7.6 -2M1325.3 220.2l-0.4 -19.5M1077.6 258.7l-20 -7.8M1254.6 343.2l-11.9 -2.1M543.4 1303.1l-21.4 25.8M310.7 1116.9l-16.7 12.5M1151.4 151.2l-10.6 -12.3M1550.6 583.3l9.5 9.7M565.1 1357.7l-20.4 26.7" stroke-width="4.4"/></g>
<use href="#src"/>
<radialGradient id="gd" gradientUnits="userSpaceOnUse" cx="1328" cy="356" r="150"><stop offset="0" stop-color="#000" stop-opacity=".5"/><stop offset=".6" stop-color="#000" stop-opacity=".25"/><stop offset="1" stop-color="#000" stop-opacity="0"/></radialGradient>
<circle cx="1328" cy="356" r="150" fill="url(#gd)"/>
<radialGradient id="gc" gradientUnits="userSpaceOnUse" cx="1328" cy="356" r="95"><stop offset="0" stop-color="#fff"/><stop offset=".4" stop-color="#fff"/><stop offset="1" stop-color="#fff" stop-opacity=".3"/></radialGradient>
<g fill="none" stroke="url(#gc)" stroke-linecap="round"><path d="M1300 382.7l-8.8 8.4M1312 358.4l-11.9 1.8M1270.2 329l-15.3 -7.2M1365 333.4l8.4 -5.1M1348.9 325.2l9.9 -14.7M1373.5 327.4l14.4 -9.1M1260.1 396.2l-7.4 4.4M1300.6 347.8l-6 -1.8M1364.4 353.8l17.6 -1.1M1344.9 329.4l7.6 -12M1335.1 341.6l5 -10.1M1323.2 388.3l-1.8 12.5M1263.9 400.7l-5.9 4.1M1408.2 377.3l12.3 3.3M1372.7 390.2l13.9 10.7M1303.2 368.1l-8.8 4.3M1393.2 351.5l8.9 -0.6M1275.7 375.1l-15.6 5.7M1300.6 303.1l-4.4 -8.6" stroke-width="3"/><path d="M1359.9 318.6l4.1 -4.8M1261.8 349l-13.2 -1.4M1317.1 280.4l-2 -13.8M1274.1 365.6l-7.1 1.3M1305.5 381.5l-7 7.9M1343.5 343.4l6.7 -5.4M1350 306.5l3.5 -7.9M1310.4 379.7l-9.5 12.7M1356.1 274.6l3.9 -11.4M1378.1 372.1l8.1 2.6M1309.1 376.2l-4.9 5.3M1250.4 377.3l-12.9 3.5M1341.7 372.1l4.5 5.3M1356.7 430.1l4.6 12M1359.5 281.3l3.6 -8.4M1322.3 336.9l-2.8 -9.3M1266.8 304.8l-6.3 -5.3M1329 341l1.1 -16.9M1386.7 296l6.9 -7.1M1362.2 353.2l8.6 -0.7M1332.6 322.2l1.3 -9.2M1356.8 366.7l15 5.5M1358.6 313.6l5.7 -7.9M1257.6 369.3l-11.2 2.1M1364.6 359.2l8.8 0.8M1288.4 369.5l-9.9 3.4" stroke-width="4"/><path d="M1339.3 329.2l5 -11.9M1312.3 381.9l-4.6 7.6M1310.3 393.2l-3.4 7.2M1292.5 342l-6.5 -2.5M1343.7 356.9l12.6 0.7M1311.2 327.5l-8.8 -15M1276.9 296.1l-10.1 -11.9M1335.9 401.5l1.6 9.4M1318.2 347.2l-12.9 -11.7M1279.4 357.3l-7.7 0.2M1251.1 339.6l-12.1 -2.6M1320.3 422.6l-1.3 11.1M1366.5 358.2l13.8 0.8M1347.9 332.6l9.1 -10.7M1337 343.2l7.5 -10.7" stroke-width="5"/></g>
<path d="M1324 352l4 -11l5 8l9 -6l-5 10l7 6l-9 3l1 12l-7 -7l-8 8l0 -10l-9 -4l8 -5z" fill="#fff"/>
<ellipse cx="1346" cy="380" rx="9" ry="5" transform="rotate(35 1346 380)" fill="#fff"/>
<path d="M1331 466V1150" stroke="#fff" stroke-opacity=".2" stroke-width="3" stroke-dasharray="14 9 22 12 9 10" fill="none"/>
<path d="M1369 1060V1486" stroke="#fff" stroke-opacity=".2" stroke-width="3" stroke-dasharray="12 10 20 14 8 12" fill="none"/>
<path d="M1332 481V800" stroke="#fff" stroke-opacity=".42" stroke-width="6" stroke-linecap="round" stroke-dasharray="3 21 6 27 2 19" fill="none"/>
</g>
<use href="#axd"/>
<rect x="1218.6" y="237.3" width="229.4" height="228.5" fill="none" stroke="#ffff00" stroke-width="7"/>
<text x="1333.3" y="205.4" text-anchor="middle" style="font-size:83.3px;fill:#ffff00">A</text>
</g>
<g id="p2" transform="translate(0 1626)">
<g filter="url(#n2)">
<rect x="278" y="104" width="1392" height="1392" fill="#333333"/>
<use href="#src"/>
<radialGradient id="gq" gradientUnits="userSpaceOnUse" cx="1328" cy="356" r="320"><stop offset="0" stop-color="#fff" stop-opacity=".5"/><stop offset=".25" stop-color="#fff" stop-opacity=".3"/><stop offset=".6" stop-color="#fff" stop-opacity=".15"/><stop offset="1" stop-color="#fff" stop-opacity=".02"/></radialGradient>
<g fill="none" stroke="url(#gq)" stroke-linecap="round"><path d="M1327.4 397.3l-0.3 20.6M1461.4 301.6l16.9 -6.9M1397.1 104.2l6.1 -22.4M1483 575.9l7.4 10.4M1231.6 375l-6 1.2M1302.3 386l-10.6 12.4M1229.5 279.1l-8.1 -6.3M1323.5 65.5l-0.1 -9.6M1340.1 494.7l2.1 23.9M1213.2 216.5l-14.3 -17.4M1152.1 586.3l-5.2 6.8M1293.3 328l-6.9 -5.6M1301.3 207.7l-2.2 -12M1322 498.5l-0.9 21M1149.3 472.2l-5.1 3.3M1356.2 524.2l3.7 21.8M1069.6 228.8l-17.3 -8.5M1233.2 250.5l-6.2 -6.9M1305.2 323.5l-11.2 -16M1294.5 483.1l-3.3 12.6M1178 223.8l-9.6 -8.5M1444.1 263.7l9.5 -7.6M1433 494.2l14.9 19.6M1296 387.2l-15.7 15.3M1147.7 275.6l-21.7 -9.7M1311.6 345.7l-21.1 -13.3M1569.5 266.7l11.2 -4.1M1398.9 189l7.8 -18.3M1348.4 119.8l1.2 -14.3M1404.2 482.8l8.9 14.8M1352.9 411.8l10 22.5M1022.7 350.3l-7.5 -0.1M1348.9 590.6l1.4 15.6M1322.6 412.4l-2 20.7M1359.4 415.2l7.6 14.4M1349.3 577l1.4 14.4M1403.7 360.8l13.3 0.8M1412.7 323.3l8.5 -3.3M1331.4 476.7l0.3 11.1M1459 612.5l6.4 12.4M1467.8 419.8l14.4 6.6M1349.4 427.5l6.8 22.7M1410 366.1l19.2 2.4M1621.5 379.5l11.7 0.9M1458.8 73.3l8.4 -18.3M1327.8 380.5l-0.1 18.1M1326.6 636.1l-0.1 18M1241.9 350.4l-13.1 -0.9M1313.4 316.7l-5.3 -14.2M1369.8 357.3l10.8 0.3M1499.6 506.4l7.1 6.2M1255.1 150.5l-3.6 -10M1402 172.3l7.6 -18.9M1447.9 371.6l8.5 1.1M1335.9 240l1.7 -25M1311.1 212.3l-2.2 -18.6M1310.7 662.3l-0.7 13M1312.8 483.1l-1.5 12.2M1347.8 605.1l1.8 23.1M1271.6 338.4l-13.6 -4.2M1329.3 381.3l0.8 15.1M1332.2 330.2l1 -6.2M1245.9 357.7l-6.9 0.1M1269 594.9l-4.9 19.9M1380.9 334.4l16.2 -6.6M1390 176.8l4.4 -12.7M1359.6 631l2.3 20.1M1222.3 431.7l-7.6 5.4M1331.5 493.3l0.5 19.4M1504 339.8l12.5 -1.2M1344.3 608.6l0.9 13.7M1307.7 272.1l-1.8 -7.4M1303.4 263.2l-3.3 -12.4M1623.2 263.3l5.7 -1.8M1325.3 477.4l-0.6 25.5M1376.9 646.6l4.3 25.5M1337.6 309.8l3.6 -17.3M1327.5 333.7l-0.4 -16.7M1261.3 411.1l-9.4 7.8M1542.2 487.8l16.7 10.3M1157.8 609.6l-12.9 19.2M1461.9 138.3l7.3 -11.9M1325 258l-0.6 -20.7M1449.2 574.8l9.4 17M1328.6 389.5l0.2 11.1M1327.8 368.4l-0.3 17.8M1304.3 409.2l-7.5 16.7M1365.5 521.9l2.6 11.3M1234.3 96.2l-8.6 -23.9M1348.6 371l5.3 3.9M1325.6 373.3l-1.1 7.7M1374.8 221.4l3.4 -9.7M1458.6 572l5 8.3M1105.7 148.7l-12 -11.2M1328.9 157l0 -8.2M1360.6 370.9l16.4 7.5M1119.9 539.1l-13.5 11.9M1134.7 215l-10.7 -7.8M1199.8 219.2l-10.4 -11.1M1283.7 422.7l-6.4 9.6M1148.1 204.9l-12 -10.1M1174.5 379.5l-23 3.5M1572.7 383.2l13.5 1.5M1414.1 593.8l2.7 7.6M1367.9 121.4l4.3 -25.5M1495.1 482l6.7 5M1321.9 73.6l-0.2 -10.2M1450.7 159.5l5 -8.1M1179 337.3l-23.4 -2.9M1150.5 516.7l-9.7 8.8M1130 568.5l-13.3 14.3M1204.2 298.4l-9.1 -4.2M1343.9 585.7l1.1 15.5M1498.7 474l16.8 11.6M1317.1 468.7l-0.6 6M1352 330.4l12 -12.8M1429.5 379.8l10.9 2.5M1371.6 498.1l2.4 7.8M1311.1 77.7l-0.9 -14.6M1321.6 475.3l-0.6 11.1M1240.2 625.9l-5.5 16.8M1272.7 461.9l-10.6 20.3M1337.6 423.7l1 6.9M1275.7 578.7l-2.3 9.6M1309.5 73.7l-0.7 -10.7M1453 631.7l9.3 20.4M1246.3 469.6l-6.5 9M1386.2 532.2l5.5 16.8M1288.9 334l-13.3 -7.5M1314.6 351.2l-16.1 -5.7M1325 283.5l-0.9 -21.2M1320.4 461.4l-1.7 24.2M1295.4 519.8l-3.4 16.8M1427.1 166.8l3.9 -7.5M1335.9 287.2l1.6 -13.9M1322.2 52.9l-0.2 -8.8M1157 415.4l-14.3 5M1232.7 433.1l-9.7 7.9M1284.8 483.1l-2.3 6.8M1442.7 183.5l9.9 -14.8M1400.2 331.2l11 -3.8M1308.9 129.2l-0.5 -6.5M1562 367.6l11 0.5M1375.4 494.4l8.1 23.6M1288.5 96.8l-3 -19.6M1377.8 68.4l3.6 -21M1347.6 224.9l1.7 -11.4M1406.7 264.4l5.9 -6.9M1281.7 115.8l-1.3 -6.9M1587.4 465.9l23.7 10M1398.8 236.7l11.2 -18.9M1397.6 592.3l2.9 9.8" stroke-width="1.8"/><path d="M1353.8 136.4l1.7 -14.3M1617.9 339.8l23.6 -1.3M1362.5 90.3l1.1 -8.3M1329.3 339.9l1.8 -22.6M1382.8 611.3l2.9 13.7M1355.7 290.4l2.6 -6.2M1345.1 138.4l0.9 -11M1070.4 461.5l-13.3 5.5M1424.2 123.8l6.4 -15.4M1341.2 553.5l1.7 25.7M1289.3 470.9l-6.2 18.3M1315.6 498.1l-1.5 17.1M1327.3 379.4l-0.2 7.2M1125.6 573.7l-12.1 13M1316.8 219.3l-0.8 -9.4M1192.7 605.6l-11.1 20.5M1266.6 390.7l-9.6 5.4M1108.3 407.8l-9.4 2.2M1157.3 321.6l-8.1 -1.6M1340.2 361.9l17.6 8.6M1373.4 617.7l1.2 7M1323.8 287.8l-0.7 -11.5M1551.7 462.4l8.6 4.1M1503.3 181.7l9.5 -9.5M1301.8 357.2l-9.3 0.4M1474.1 145.5l14.5 -20.8M1342.2 383.5l5 9.6M1316.8 560.9l-0.4 7.2M1307.7 152.2l-2.5 -24.7M1327.4 571l-0 9.7M1323.5 325l-3.6 -24.9M1358.5 619l1.6 13.5M1197.2 187.4l-4.7 -6M1197.6 358.3l-17.2 0.3M1335 648l0.2 10.4M1360.8 155.8l1.8 -10.7M1227.8 186.1l-5.7 -9.7M1337.8 129.3l0.6 -14.5M1285.1 229.6l-2.5 -7.5M1423.2 217.9l12.8 -18.6M1172.7 355.9l-9 -0M1336.7 415.1l0.9 5.9M1307.1 493.4l-2.4 15.9M1325.3 273.4l-0.3 -8.6M1141.9 214l-18.2 -13.9M1295.7 228.6l-4.4 -17.3M1074 186.6l-21.5 -14.4M1315.4 488.2l-2.2 22.7M1486.1 385.5l7.2 1.3M1376.6 330.6l16.7 -8.7M1303.4 205.2l-3 -18.6M1368.3 415.9l4.8 7.1M1257.3 566.3l-5.5 16.5M1279.5 272.4l-8.2 -14.1M1404.4 237.1l13.9 -21.7M1083.9 387.7l-6.6 0.9M1385.9 446.6l6.7 10.5M1102 287.3l-15 -4.5M1375.3 195.5l6.2 -21M1626.1 271.6l14 -4M1299.7 417.1l-10.3 22.2M1276.2 332.1l-14.2 -6.6M1159.6 394.7l-17.5 4M1085.6 300.6l-15.3 -3.5M1296.2 484l-5.7 23.1M1353.5 308.4l10.2 -19.1M1325.6 228.3l-0.4 -24.3M1363.5 283l10.3 -21.1M1344.2 237.4l2.7 -20M1317.1 375.3l-7.1 12.6M1323.1 343.5l-5 -12.5M1073.9 195.7l-20.6 -13M1320.1 252.5l-1 -13M1329.6 394.9l0.8 20.4M1400.7 118.1l2.8 -9.1M1199.8 263.4l-13.2 -9.5M1525.3 252.9l17 -8.9M1151 229.5l-5.6 -4M1346.2 389.8l11.5 21.3M1267.5 566.6l-4.1 14.2M1182 298.6l-12 -4.7M1116.3 324.6l-21.7 -3.2M1380.4 590.9l3.6 16M1264.6 616.3l-4.3 17.6M1158.5 222.8l-19.5 -15.4M1140.1 410.6l-10.5 3M1227.1 311.4l-12.5 -5.5M1390.7 142.3l2.5 -8.6M1359.4 330.7l5.7 -4.6M1312.2 460.1l-1.5 9.9M1158.8 253.5l-17.7 -10.7M1338.9 199.7l0.8 -11M1258.6 165.5l-2.4 -6.5M1259.5 222.6l-10.6 -20.7M1327.8 424.2l-0.1 19M1189.2 274.1l-18.2 -10.7M1067.7 260.9l-8.2 -3M1344.5 305.9l4.8 -14.7M1379.6 456.4l10.2 19.9M1355.2 362.3l9.5 2.2M1349.9 344.1l17.1 -9.3M1294.3 487.1l-5.6 21.6M1494 230.1l5.1 -3.9M1252 464.4l-9.9 14.2M1340.4 225.2l2.2 -23.7M1441 587.3l7.4 15.2M1379.8 320.1l7.2 -5M1505.4 188.3l14.4 -13.6M1266.5 279.3l-16.3 -20.3M1318.9 632.4l-0.4 12.9M1123.1 322.9l-22.2 -3.6M1381.3 462l10 19.9M1319.6 383.5l-6.6 21.8M1094.1 434.9l-10.6 3.6M1447.9 196.9l6.3 -8.3M1286.8 233.2l-5.6 -16.7M1428.7 245.7l8 -8.8M1334.7 311.9l1.1 -6.9M1367.6 223.9l4 -13.2M1302.2 270l-3.2 -10.7M1202.5 605.3l-3.5 6.9M1322.3 283.8l-1.2 -15.4M1058.3 442l-9.3 3M1315.1 547.4l-1.7 25.7M1331.1 177.6l0.1 -8.3M1512.4 404.7l6.8 1.8M1328.9 323.3l0.4 -15.7M1290.4 432.3l-5.8 11.8M1346 594.3l1.8 23.5M1327.5 412.9l-0.2 19.1M1256.3 339.5l-8.5 -1.9M1109.3 317.9l-10.7 -1.9M1330 552.9l0.2 18.1M1455.4 290.4l14.3 -7.4M1341 404.4l2.5 9.3M1369.9 197.2l5.5 -20.9M1295.9 379.9l-18.4 13.7M1338.2 226.1l1.4 -17.2M1331.6 472.2l0.2 6.5M1349.1 468.7l2.3 12.2M1310.9 292.3l-5 -18.4M1362.8 503.3l4.7 20M1460.5 369.9l13.7 1.4M1432.1 153.6l9.7 -18.9M1332.4 372.9l5.5 21.4M1286.5 317.1l-7.3 -6.8M1328.6 332.1l0.4 -19.2M1343.5 74.6l1.4 -25.9" stroke-width="2.4"/></g>
<path d="M1328 368V1290M1328 344V118" stroke="#fff" stroke-opacity=".3" stroke-width="2.4" stroke-dasharray="30 8 50 14 18 10" fill="none"/>
<ellipse cx="1328" cy="356" rx="7" ry="8.5" fill="#fff"/>
</g>
<use href="#axd"/>
</g>
</svg>
</body></html>
